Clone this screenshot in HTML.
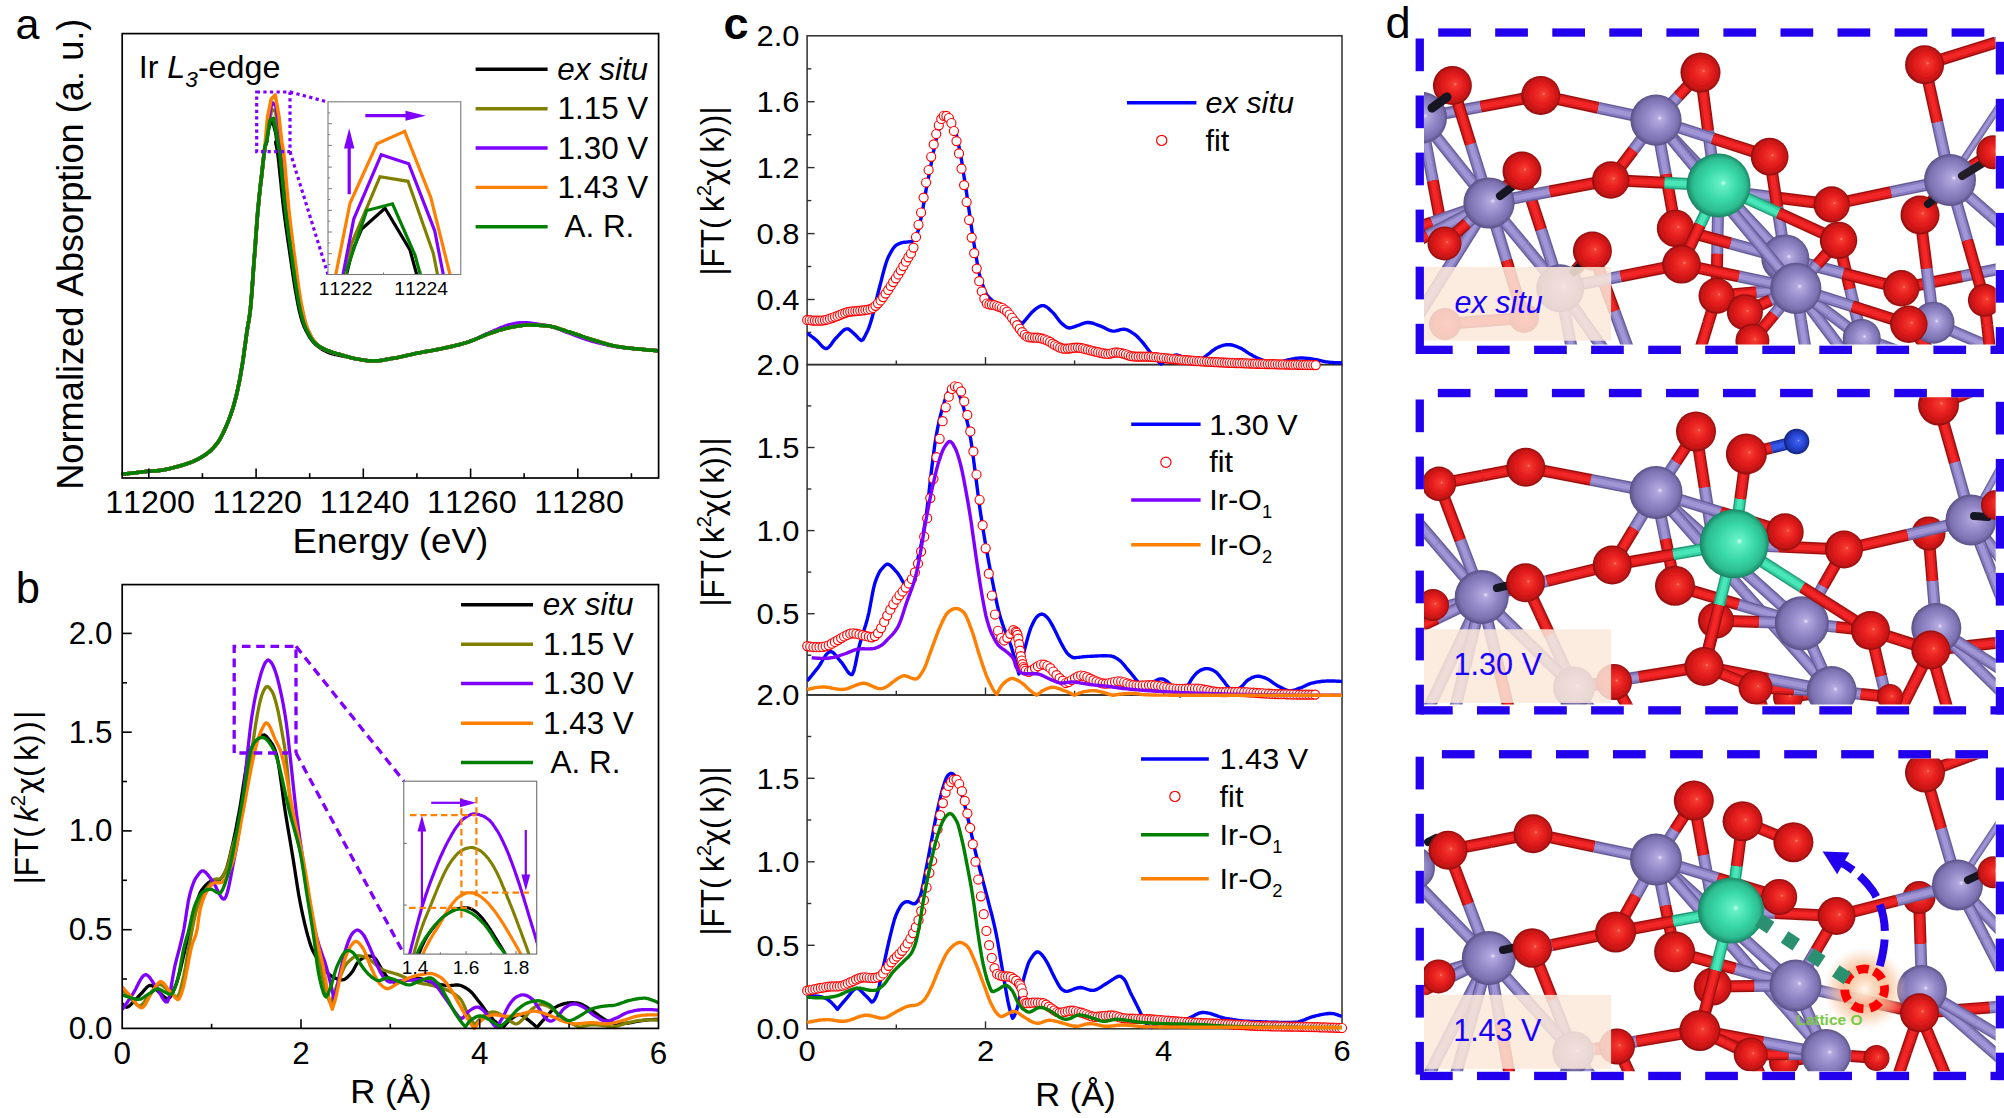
<!DOCTYPE html>
<html><head><meta charset="utf-8"><title>Figure</title>
<style>html,body{margin:0;padding:0;background:#fff}svg{display:block}text{font-family:"Liberation Sans", sans-serif;font-kerning:none}</style></head>
<body><svg width="2004" height="1118" viewBox="0 0 2004 1118">
<rect width="2004" height="1118" fill="#fff"/>
<g id="panel_a">
<polyline points="121.7,474.2 122.4,474.1 123.1,474.1 123.9,474.0 124.6,473.9 125.3,473.8 126.0,473.8 126.8,473.7 127.5,473.6 128.2,473.5 128.9,473.5 129.7,473.4 130.4,473.3 131.1,473.2 131.8,473.1 132.5,473.1 133.3,473.0 134.0,472.9 134.7,472.8 135.4,472.8 136.2,472.7 136.9,472.6 137.6,472.5 138.3,472.4 139.1,472.3 139.8,472.2 140.5,472.2 141.2,472.1 141.9,472.0 142.7,471.9 143.4,471.8 144.1,471.7 144.8,471.6 145.6,471.6 146.3,471.5 147.0,471.4 147.7,471.3 148.5,471.3 149.2,471.2 149.9,471.2 150.6,471.1 151.3,471.1 152.1,471.0 152.8,471.0 153.5,471.0 154.2,470.9 155.0,470.9 155.7,470.8 156.4,470.8 157.1,470.7 157.9,470.6 158.6,470.6 159.3,470.5 160.0,470.4 160.7,470.3 161.5,470.2 162.2,470.1 162.9,470.0 163.6,469.8 164.4,469.7 165.1,469.5 165.8,469.4 166.5,469.2 167.3,469.1 168.0,468.9 168.7,468.7 169.4,468.6 170.1,468.4 170.9,468.2 171.6,468.0 172.3,467.9 173.0,467.7 173.8,467.5 174.5,467.3 175.2,467.1 175.9,467.0 176.7,466.8 177.4,466.6 178.1,466.4 178.8,466.2 179.5,466.0 180.3,465.8 181.0,465.6 181.7,465.4 182.4,465.2 183.2,464.9 183.9,464.7 184.6,464.5 185.3,464.3 186.1,464.0 186.8,463.8 187.5,463.5 188.2,463.3 188.9,463.0 189.7,462.7 190.4,462.5 191.1,462.2 191.8,461.9 192.6,461.6 193.3,461.3 194.0,461.0 194.7,460.7 195.5,460.3 196.2,460.0 196.9,459.7 197.6,459.3 198.4,458.9 199.1,458.5 199.8,458.1 200.5,457.7 201.2,457.3 202.0,456.9 202.7,456.4 203.4,456.0 204.1,455.5 204.9,455.0 205.6,454.5 206.3,454.0 207.0,453.5 207.8,452.9 208.5,452.4 209.2,451.8 209.9,451.2 210.6,450.5 211.4,449.9 212.1,449.1 212.8,448.4 213.5,447.6 214.3,446.8 215.0,446.0 215.7,445.1 216.4,444.2 217.2,443.3 217.9,442.3 218.6,441.3 219.3,440.2 220.0,439.0 220.8,437.7 221.5,436.3 222.2,434.9 222.9,433.4 223.7,431.9 224.4,430.3 225.1,428.7 225.8,427.0 226.6,425.3 227.3,423.6 228.0,421.9 228.7,420.1 229.4,418.2 230.2,416.2 230.9,414.1 231.6,412.0 232.3,409.8 233.1,407.5 233.8,405.1 234.5,402.5 235.2,399.8 236.0,396.9 236.7,393.9 237.4,390.8 238.1,387.5 238.8,384.1 239.6,380.4 240.3,376.4 241.0,372.3 241.7,368.0 242.5,363.5 243.2,358.8 243.9,353.7 244.6,348.4 245.4,343.0 246.1,337.7 246.8,332.6 247.5,328.1 248.2,324.0 249.0,319.7 249.7,314.8 250.4,309.0 251.1,301.3 251.9,292.0 252.6,281.8 253.3,271.5 254.0,261.6 254.8,252.0 255.5,242.0 256.2,232.1 256.9,222.5 257.6,213.4 258.4,205.3 259.1,197.9 259.8,191.2 260.5,184.7 261.3,178.5 262.0,172.1 262.7,165.7 263.4,159.4 264.2,153.2 264.9,147.1 266.9,141.0 267.7,133.8 269.0,126.4 272.4,119.8 275.9,133.2 276.9,141.0 275.7,142.1 275.9,143.2 276.1,144.3 276.4,145.4 276.6,146.5 276.8,147.6 277.1,148.7 277.3,149.8 277.4,150.9 277.6,152.1 277.8,153.2 277.9,154.3 278.1,155.4 278.2,156.5 278.4,157.6 278.5,158.7 278.6,159.9 278.7,161.0 278.9,162.1 279.0,163.2 279.1,164.3 279.2,165.5 279.3,166.6 279.4,167.7 279.6,168.8 279.7,170.0 279.8,171.1 279.9,172.2 280.0,173.3 280.1,174.4 280.2,175.6 280.4,176.7 280.5,177.8 280.6,178.9 280.7,180.0 280.8,181.2 281.0,182.3 281.1,183.4 281.2,184.5 281.3,185.6 281.4,186.8 281.5,187.9 281.6,189.0 281.7,190.1 281.9,191.3 282.0,192.4 282.1,193.5 282.2,194.6 282.3,195.7 282.4,196.9 282.6,198.0 282.7,199.1 282.8,200.2 282.9,201.3 283.0,202.5 283.2,203.6 283.3,204.7 283.4,205.8 283.6,206.9 283.7,208.0 283.8,209.2 284.0,210.3 284.1,211.4 284.2,212.5 284.4,213.6 284.5,214.8 284.7,215.9 284.8,217.0 285.0,218.1 285.1,219.2 285.3,220.3 285.4,221.5 285.6,222.6 285.7,223.7 285.9,224.8 286.0,225.9 286.2,227.0 286.3,228.2 286.5,229.3 286.6,230.4 286.8,231.5 287.0,232.6 287.1,233.7 287.3,234.8 287.4,236.0 287.6,237.1 287.8,238.2 287.9,239.3 288.1,240.4 288.2,241.5 288.4,242.7 288.6,243.8 288.7,244.9 288.9,246.0 289.1,247.1 289.2,248.2 289.4,249.3 289.6,250.5 289.7,251.6 289.9,252.7 290.0,253.8 290.2,254.9 290.4,256.0 290.5,257.1 290.7,258.3 290.9,259.4 291.0,260.5 291.2,261.6 291.3,262.7 291.5,263.8 291.7,265.0 291.8,266.1 292.0,267.2 292.2,268.3 292.3,269.4 292.5,270.5 292.6,271.7 292.8,272.8 293.0,273.9 293.1,275.0 293.3,276.1 293.5,277.2 293.6,278.3 293.8,279.5 294.0,280.6 294.2,281.7 294.3,282.8 294.5,283.9 294.7,285.0 294.9,286.1 295.0,287.3 295.2,288.4 295.4,289.5 295.6,290.6 295.8,291.7 296.0,292.8 296.2,293.9 296.4,295.0 296.6,296.1 296.8,297.2 297.0,298.4 297.2,299.5 297.4,300.6 297.6,301.7 297.8,302.8 298.0,303.9 298.2,305.0 298.5,306.1 298.7,307.2 298.9,308.3 299.1,309.4 299.4,310.5 299.6,311.6 299.9,312.7 300.2,313.8 300.5,314.9 300.7,316.0 301.0,317.1 301.4,318.2 301.7,319.3 302.0,320.4 302.3,321.4 302.7,322.5 303.1,323.6 303.5,324.7 303.9,325.7 304.3,326.8 304.8,327.8 305.3,328.8 305.8,329.9 306.3,330.9 306.9,331.9 307.4,332.9 308.0,333.9 308.5,334.9 309.1,336.0 309.7,337.0 310.3,338.0 311.0,338.9 311.6,339.9 312.4,340.8 313.1,341.7 313.9,342.6 314.8,343.5 315.6,344.3 316.5,345.1 317.4,345.8 318.4,346.6 319.4,347.3 320.4,348.0 321.3,348.7 322.3,349.3 323.4,349.9 324.4,350.5 325.4,351.0 326.4,351.5 327.4,352.0 328.5,352.4 329.5,352.8 330.6,353.2 331.7,353.5 332.7,353.8 333.8,354.1 334.9,354.4 336.0,354.6 337.1,354.8 338.2,355.1 339.3,355.3 340.4,355.5 341.4,355.7 342.5,355.9 343.6,356.1 344.7,356.4 345.8,356.6 346.9,356.8 347.9,357.1 349.0,357.3 350.1,357.6 351.2,357.8 352.3,358.1 353.4,358.3 354.5,358.5 355.6,358.8 356.7,359.0 357.8,359.1 358.9,359.3 360.0,359.5 361.1,359.7 362.2,359.9 363.4,360.0 364.5,360.2 365.6,360.4 366.7,360.5 367.8,360.7 369.0,360.8 370.1,360.9 371.2,360.9 372.3,361.0 373.4,361.0 374.6,361.0 375.7,360.9 376.8,360.9 377.9,360.8 379.0,360.7 380.2,360.5 381.3,360.4 382.4,360.2 383.5,360.0 384.6,359.8 385.7,359.6 386.9,359.4 388.0,359.2 389.1,359.0 390.2,358.8 391.3,358.6 392.4,358.4 393.5,358.3 394.6,358.1 395.7,357.9 396.8,357.7 397.9,357.4 399.0,357.2 400.2,357.0 401.3,356.7 402.4,356.5 403.4,356.3 404.5,356.0 405.6,355.8 406.7,355.5 407.8,355.2 408.9,355.0 410.0,354.7 411.1,354.5 412.2,354.2 413.3,354.0 414.4,353.8 415.5,353.5 416.6,353.3 417.7,353.1 418.9,352.9 420.0,352.7 421.1,352.5 422.2,352.3 423.3,352.0 424.4,351.8 425.5,351.6 426.6,351.5 427.7,351.3 428.8,351.1 429.9,350.9 431.0,350.7 432.2,350.5 433.3,350.3 434.4,350.1 435.5,349.9 436.6,349.6 437.7,349.4 438.8,349.2 439.9,349.0 441.0,348.8 442.1,348.6 443.2,348.3 444.3,348.1 445.4,347.8 446.5,347.6 447.6,347.4 448.7,347.1 449.8,346.9 450.9,346.6 452.0,346.4 453.1,346.1 454.2,345.9 455.3,345.6 456.4,345.3 457.5,345.0 458.6,344.8 459.7,344.5 460.8,344.2 461.9,343.9 462.9,343.6 464.0,343.3 465.1,343.0 466.2,342.7 467.2,342.3 468.3,342.0 469.4,341.6 470.4,341.2 471.5,340.8 472.5,340.4 473.6,340.0 474.6,339.6 475.6,339.2 476.7,338.7 477.7,338.3 478.8,337.8 479.8,337.4 480.8,336.9 481.9,336.5 482.9,336.0 483.9,335.6 485.0,335.2 486.0,334.7 487.1,334.3 488.1,333.9 489.2,333.6 490.3,333.2 491.3,332.9 492.4,332.5 493.5,332.1 494.5,331.8 495.6,331.4 496.7,331.1 497.8,330.7 498.8,330.4 499.9,330.0 501.0,329.7 502.1,329.4 503.2,329.1 504.3,328.8 505.4,328.5 506.4,328.3 507.5,328.0 508.6,327.8 509.7,327.6 510.8,327.3 511.9,327.1 513.0,326.9 514.1,326.7 515.3,326.5 516.4,326.3 517.5,326.1 518.6,325.9 519.7,325.7 520.8,325.6 522.0,325.4 523.1,325.3 524.2,325.2 525.3,325.1 526.4,325.0 527.6,325.0 528.7,325.0 529.8,325.0 530.9,325.0 532.1,325.0 533.2,325.1 534.3,325.1 535.5,325.1 536.6,325.2 537.7,325.2 538.9,325.3 540.0,325.4 541.1,325.4 542.2,325.5 543.3,325.6 544.5,325.6 545.6,325.7 546.7,325.8 547.8,325.9 548.9,326.0 550.0,326.2 551.1,326.4 552.2,326.7 553.3,326.9 554.4,327.2 555.5,327.5 556.5,327.8 557.6,328.2 558.7,328.5 559.8,328.9 560.9,329.2 561.9,329.6 563.0,330.0 564.1,330.3 565.2,330.7 566.3,331.1 567.3,331.4 568.4,331.7 569.5,332.1 570.6,332.4 571.6,332.7 572.7,333.1 573.8,333.4 574.8,333.8 575.9,334.2 577.0,334.5 578.0,334.9 579.1,335.3 580.2,335.6 581.2,336.0 582.3,336.4 583.4,336.7 584.4,337.1 585.5,337.5 586.6,337.8 587.6,338.2 588.7,338.6 589.8,338.9 590.8,339.2 591.9,339.6 593.0,339.9 594.1,340.2 595.1,340.6 596.2,340.9 597.3,341.2 598.4,341.5 599.5,341.9 600.5,342.2 601.6,342.5 602.7,342.9 603.8,343.2 604.9,343.5 606.0,343.8 607.0,344.1 608.1,344.4 609.2,344.7 610.3,345.0 611.4,345.3 612.5,345.6 613.6,345.8 614.7,346.0 615.8,346.3 616.9,346.5 618.0,346.6 619.1,346.8 620.2,347.0 621.3,347.1 622.4,347.3 623.5,347.5 624.6,347.6 625.8,347.7 626.9,347.9 628.0,348.0 629.1,348.1 630.2,348.2 631.4,348.3 632.5,348.5 633.6,348.6 634.7,348.7 635.9,348.8 637.0,348.9 638.1,349.0 639.2,349.1 640.4,349.2 641.5,349.3 642.6,349.4 643.7,349.5 644.8,349.6 646.0,349.8 647.1,349.9 648.2,350.0 649.3,350.1 650.4,350.2 651.6,350.3 652.7,350.3 653.8,350.4 654.9,350.5 656.1,350.6 657.2,350.7 658.3,350.8" fill="none" stroke="#000" stroke-width="3.6" stroke-linejoin="round"/>
<polyline points="121.7,474.2 122.4,474.1 123.1,474.1 123.9,474.0 124.6,473.9 125.3,473.8 126.0,473.8 126.8,473.7 127.5,473.6 128.2,473.5 128.9,473.5 129.7,473.4 130.4,473.3 131.1,473.2 131.8,473.1 132.5,473.1 133.3,473.0 134.0,472.9 134.7,472.8 135.4,472.8 136.2,472.7 136.9,472.6 137.6,472.5 138.3,472.4 139.1,472.3 139.8,472.2 140.5,472.2 141.2,472.1 141.9,472.0 142.7,471.9 143.4,471.8 144.1,471.7 144.8,471.6 145.6,471.6 146.3,471.5 147.0,471.4 147.7,471.3 148.5,471.3 149.2,471.2 149.9,471.2 150.6,471.1 151.3,471.1 152.1,471.0 152.8,471.0 153.5,471.0 154.2,470.9 155.0,470.9 155.7,470.8 156.4,470.8 157.1,470.7 157.9,470.6 158.6,470.6 159.3,470.5 160.0,470.4 160.7,470.3 161.5,470.2 162.2,470.1 162.9,470.0 163.6,469.8 164.4,469.7 165.1,469.5 165.8,469.4 166.5,469.2 167.3,469.1 168.0,468.9 168.7,468.7 169.4,468.6 170.1,468.4 170.9,468.2 171.6,468.0 172.3,467.9 173.0,467.7 173.8,467.5 174.5,467.3 175.2,467.1 175.9,467.0 176.7,466.8 177.4,466.6 178.1,466.4 178.8,466.2 179.5,466.0 180.3,465.8 181.0,465.6 181.7,465.4 182.4,465.2 183.2,464.9 183.9,464.7 184.6,464.5 185.3,464.3 186.1,464.0 186.8,463.8 187.5,463.5 188.2,463.3 188.9,463.0 189.7,462.7 190.4,462.5 191.1,462.2 191.8,461.9 192.6,461.6 193.3,461.3 194.0,461.0 194.7,460.7 195.5,460.3 196.2,460.0 196.9,459.7 197.6,459.3 198.4,458.9 199.1,458.5 199.8,458.1 200.5,457.7 201.2,457.3 202.0,456.9 202.7,456.4 203.4,456.0 204.1,455.5 204.9,455.0 205.6,454.5 206.3,454.0 207.0,453.5 207.8,452.9 208.5,452.4 209.2,451.8 209.9,451.2 210.6,450.5 211.4,449.9 212.1,449.1 212.8,448.4 213.5,447.6 214.3,446.8 215.0,446.0 215.7,445.1 216.4,444.2 217.2,443.3 217.9,442.3 218.6,441.3 219.3,440.2 220.0,439.0 220.8,437.7 221.5,436.3 222.2,434.9 222.9,433.4 223.7,431.9 224.4,430.3 225.1,428.7 225.8,427.0 226.6,425.3 227.3,423.6 228.0,421.9 228.7,420.1 229.4,418.2 230.2,416.2 230.9,414.1 231.6,412.0 232.3,409.8 233.1,407.5 233.8,405.1 234.5,402.5 235.2,399.8 236.0,396.9 236.7,393.9 237.4,390.8 238.1,387.5 238.8,384.1 239.6,380.4 240.3,376.4 241.0,372.3 241.7,368.0 242.5,363.5 243.2,358.8 243.9,353.7 244.6,348.4 245.4,343.0 246.1,337.7 246.8,332.6 247.5,328.1 248.2,324.0 249.0,319.7 249.7,314.8 250.4,309.0 251.1,301.3 251.9,292.0 252.6,281.8 253.3,271.5 254.0,261.6 254.8,252.0 255.5,242.0 256.2,232.1 256.9,222.5 257.6,213.4 258.4,205.3 259.1,197.9 259.8,191.2 260.5,184.7 261.3,178.5 262.0,172.1 262.7,165.7 263.4,159.4 264.2,153.2 264.9,147.1 266.8,141.0 267.6,131.0 271.6,109.6 275.6,111.1 279.2,134.2 279.8,141.0 279.9,142.1 280.2,143.2 280.4,144.3 280.6,145.4 280.9,146.5 281.1,147.6 281.3,148.7 281.4,149.8 281.6,150.9 281.8,152.1 281.9,153.2 282.1,154.3 282.2,155.4 282.3,156.5 282.4,157.6 282.6,158.7 282.7,159.9 282.8,161.0 282.9,162.1 283.0,163.2 283.1,164.3 283.2,165.5 283.3,166.6 283.4,167.7 283.5,168.8 283.6,170.0 283.7,171.1 283.8,172.2 283.9,173.3 284.0,174.4 284.1,175.6 284.2,176.7 284.3,177.8 284.4,178.9 284.5,180.0 284.6,181.2 284.7,182.3 284.8,183.4 284.9,184.5 285.0,185.6 285.1,186.8 285.2,187.9 285.3,189.0 285.4,190.1 285.5,191.3 285.6,192.4 285.7,193.5 285.8,194.6 285.9,195.7 286.1,196.9 286.2,198.0 286.3,199.1 286.4,200.2 286.5,201.3 286.6,202.5 286.7,203.6 286.8,204.7 286.9,205.8 287.1,206.9 287.2,208.0 287.3,209.2 287.4,210.3 287.5,211.4 287.7,212.5 287.8,213.6 287.9,214.8 288.1,215.9 288.2,217.0 288.3,218.1 288.5,219.2 288.6,220.3 288.7,221.5 288.9,222.6 289.0,223.7 289.1,224.8 289.3,225.9 289.4,227.0 289.6,228.2 289.7,229.3 289.8,230.4 290.0,231.5 290.1,232.6 290.3,233.7 290.4,234.8 290.6,236.0 290.7,237.1 290.9,238.2 291.0,239.3 291.2,240.4 291.3,241.5 291.5,242.7 291.6,243.8 291.8,244.9 291.9,246.0 292.1,247.1 292.2,248.2 292.4,249.3 292.5,250.5 292.7,251.6 292.8,252.7 293.0,253.8 293.1,254.9 293.3,256.0 293.4,257.1 293.6,258.3 293.7,259.4 293.9,260.5 294.0,261.6 294.1,262.7 294.3,263.8 294.4,265.0 294.6,266.1 294.7,267.2 294.9,268.3 295.0,269.4 295.2,270.5 295.3,271.6 295.5,272.8 295.6,273.9 295.8,275.0 295.9,276.1 296.1,277.2 296.3,278.3 296.4,279.5 296.6,280.6 296.7,281.7 296.9,282.8 297.1,283.9 297.2,285.0 297.4,286.1 297.5,287.2 297.7,288.4 297.9,289.5 298.1,290.6 298.2,291.7 298.4,292.8 298.6,293.9 298.8,295.0 298.9,296.1 299.1,297.2 299.3,298.3 299.5,299.5 299.7,300.6 299.9,301.7 300.1,302.8 300.3,303.9 300.5,305.0 300.7,306.1 300.9,307.2 301.2,308.3 301.5,309.4 301.7,310.5 301.9,311.6 302.1,312.7 302.4,313.8 302.6,314.9 302.9,316.0 303.2,317.1 303.4,318.2 303.7,319.2 304.0,320.3 304.3,321.4 304.6,322.5 305.0,323.5 305.3,324.6 305.7,325.7 306.1,326.7 306.5,327.7 306.9,328.8 307.4,329.8 307.8,330.8 308.3,331.8 308.8,332.8 309.3,333.8 309.8,334.8 310.3,335.8 310.8,336.8 311.4,337.7 312.0,338.7 312.6,339.6 313.2,340.5 313.9,341.3 314.6,342.2 315.3,343.0 316.1,343.8 316.9,344.5 317.7,345.2 318.5,345.8 319.4,346.5 320.4,347.1 321.3,347.6 322.3,348.2 323.4,348.7 324.4,349.2 325.4,349.7 326.4,350.1 327.4,350.5 328.5,350.9 329.5,351.3 330.6,351.7 331.7,352.0 332.7,352.4 333.8,352.7 334.9,353.0 336.0,353.4 337.1,353.7 338.2,354.0 339.3,354.3 340.4,354.6 341.4,354.9 342.5,355.2 343.6,355.5 344.7,355.9 345.8,356.2 346.9,356.5 347.9,356.8 349.0,357.1 350.1,357.4 351.2,357.7 352.3,358.0 353.4,358.2 354.5,358.5 355.6,358.7 356.7,358.9 357.8,359.1 358.9,359.3 360.0,359.5 361.1,359.7 362.2,359.9 363.4,360.0 364.5,360.2 365.6,360.4 366.7,360.5 367.8,360.7 369.0,360.8 370.1,360.9 371.2,360.9 372.3,361.0 373.4,361.0 374.6,361.0 375.7,360.9 376.8,360.9 377.9,360.8 379.0,360.7 380.2,360.5 381.3,360.4 382.4,360.2 383.5,360.0 384.6,359.8 385.7,359.6 386.9,359.4 388.0,359.2 389.1,359.0 390.2,358.8 391.3,358.6 392.4,358.4 393.5,358.3 394.6,358.1 395.7,357.9 396.8,357.7 397.9,357.4 399.0,357.2 400.2,357.0 401.3,356.7 402.4,356.5 403.4,356.3 404.5,356.0 405.6,355.8 406.7,355.5 407.8,355.2 408.9,355.0 410.0,354.7 411.1,354.5 412.2,354.2 413.3,354.0 414.4,353.8 415.5,353.5 416.6,353.3 417.7,353.1 418.9,352.9 420.0,352.7 421.1,352.5 422.2,352.3 423.3,352.0 424.4,351.8 425.5,351.6 426.6,351.5 427.7,351.3 428.8,351.1 429.9,350.9 431.0,350.7 432.2,350.5 433.3,350.3 434.4,350.1 435.5,349.9 436.6,349.6 437.7,349.4 438.8,349.2 439.9,349.0 441.0,348.8 442.1,348.6 443.2,348.3 444.3,348.1 445.4,347.8 446.5,347.6 447.6,347.4 448.7,347.1 449.8,346.9 450.9,346.6 452.0,346.4 453.1,346.1 454.2,345.9 455.3,345.6 456.4,345.3 457.5,345.0 458.6,344.8 459.7,344.5 460.8,344.2 461.9,343.9 462.9,343.6 464.0,343.3 465.1,343.0 466.2,342.7 467.2,342.3 468.3,342.0 469.4,341.6 470.4,341.2 471.5,340.8 472.5,340.4 473.6,340.0 474.6,339.6 475.6,339.2 476.7,338.7 477.7,338.3 478.8,337.8 479.8,337.4 480.8,336.9 481.9,336.5 482.9,336.0 483.9,335.6 485.0,335.2 486.0,334.7 487.1,334.3 488.1,333.9 489.2,333.6 490.3,333.2 491.3,332.9 492.4,332.5 493.5,332.1 494.5,331.8 495.6,331.4 496.7,331.1 497.8,330.7 498.8,330.4 499.9,330.0 501.0,329.7 502.1,329.4 503.2,329.1 504.3,328.8 505.4,328.5 506.4,328.3 507.5,328.0 508.6,327.8 509.7,327.6 510.8,327.3 511.9,327.1 513.0,326.9 514.1,326.7 515.3,326.5 516.4,326.3 517.5,326.1 518.6,325.9 519.7,325.7 520.8,325.6 522.0,325.4 523.1,325.3 524.2,325.2 525.3,325.1 526.4,325.0 527.6,325.0 528.7,325.0 529.8,325.0 530.9,325.0 532.1,325.0 533.2,325.1 534.3,325.1 535.5,325.1 536.6,325.2 537.7,325.2 538.9,325.3 540.0,325.4 541.1,325.4 542.2,325.5 543.3,325.6 544.5,325.6 545.6,325.7 546.7,325.8 547.8,325.9 548.9,326.0 550.0,326.2 551.1,326.4 552.2,326.7 553.3,326.9 554.4,327.2 555.5,327.5 556.5,327.8 557.6,328.2 558.7,328.5 559.8,328.9 560.9,329.2 561.9,329.6 563.0,330.0 564.1,330.3 565.2,330.7 566.3,331.1 567.3,331.4 568.4,331.7 569.5,332.1 570.6,332.4 571.6,332.7 572.7,333.1 573.8,333.4 574.8,333.8 575.9,334.2 577.0,334.5 578.0,334.9 579.1,335.3 580.2,335.6 581.2,336.0 582.3,336.4 583.4,336.7 584.4,337.1 585.5,337.5 586.6,337.8 587.6,338.2 588.7,338.6 589.8,338.9 590.8,339.2 591.9,339.6 593.0,339.9 594.1,340.2 595.1,340.6 596.2,340.9 597.3,341.2 598.4,341.5 599.5,341.9 600.5,342.2 601.6,342.5 602.7,342.9 603.8,343.2 604.9,343.5 606.0,343.8 607.0,344.1 608.1,344.4 609.2,344.7 610.3,345.0 611.4,345.3 612.5,345.6 613.6,345.8 614.7,346.0 615.8,346.3 616.9,346.5 618.0,346.6 619.1,346.8 620.2,347.0 621.3,347.1 622.4,347.3 623.5,347.5 624.6,347.6 625.8,347.7 626.9,347.9 628.0,348.0 629.1,348.1 630.2,348.2 631.4,348.3 632.5,348.5 633.6,348.6 634.7,348.7 635.9,348.8 637.0,348.9 638.1,349.0 639.2,349.1 640.4,349.2 641.5,349.3 642.6,349.4 643.7,349.5 644.8,349.6 646.0,349.8 647.1,349.9 648.2,350.0 649.3,350.1 650.4,350.2 651.6,350.3 652.7,350.3 653.8,350.4 654.9,350.5 656.1,350.6 657.2,350.7 658.3,350.8" fill="none" stroke="#808000" stroke-width="3.6" stroke-linejoin="round"/>
<polyline points="121.7,474.2 122.4,474.1 123.1,474.1 123.9,474.0 124.6,473.9 125.3,473.8 126.0,473.8 126.8,473.7 127.5,473.6 128.2,473.5 128.9,473.5 129.7,473.4 130.4,473.3 131.1,473.2 131.8,473.1 132.5,473.1 133.3,473.0 134.0,472.9 134.7,472.8 135.4,472.8 136.2,472.7 136.9,472.6 137.6,472.5 138.3,472.4 139.1,472.3 139.8,472.2 140.5,472.2 141.2,472.1 141.9,472.0 142.7,471.9 143.4,471.8 144.1,471.7 144.8,471.6 145.6,471.6 146.3,471.5 147.0,471.4 147.7,471.3 148.5,471.3 149.2,471.2 149.9,471.2 150.6,471.1 151.3,471.1 152.1,471.0 152.8,471.0 153.5,471.0 154.2,470.9 155.0,470.9 155.7,470.8 156.4,470.8 157.1,470.7 157.9,470.6 158.6,470.6 159.3,470.5 160.0,470.4 160.7,470.3 161.5,470.2 162.2,470.1 162.9,470.0 163.6,469.8 164.4,469.7 165.1,469.5 165.8,469.4 166.5,469.2 167.3,469.1 168.0,468.9 168.7,468.7 169.4,468.6 170.1,468.4 170.9,468.2 171.6,468.0 172.3,467.9 173.0,467.7 173.8,467.5 174.5,467.3 175.2,467.1 175.9,467.0 176.7,466.8 177.4,466.6 178.1,466.4 178.8,466.2 179.5,466.0 180.3,465.8 181.0,465.6 181.7,465.4 182.4,465.2 183.2,464.9 183.9,464.7 184.6,464.5 185.3,464.3 186.1,464.0 186.8,463.8 187.5,463.5 188.2,463.3 188.9,463.0 189.7,462.7 190.4,462.5 191.1,462.2 191.8,461.9 192.6,461.6 193.3,461.3 194.0,461.0 194.7,460.7 195.5,460.3 196.2,460.0 196.9,459.7 197.6,459.3 198.4,458.9 199.1,458.5 199.8,458.1 200.5,457.7 201.2,457.3 202.0,456.9 202.7,456.4 203.4,456.0 204.1,455.5 204.9,455.0 205.6,454.5 206.3,454.0 207.0,453.5 207.8,452.9 208.5,452.4 209.2,451.8 209.9,451.2 210.6,450.5 211.4,449.9 212.1,449.1 212.8,448.4 213.5,447.6 214.3,446.8 215.0,446.0 215.7,445.1 216.4,444.2 217.2,443.3 217.9,442.3 218.6,441.3 219.3,440.2 220.0,439.0 220.8,437.7 221.5,436.3 222.2,434.9 222.9,433.4 223.7,431.9 224.4,430.3 225.1,428.7 225.8,427.0 226.6,425.3 227.3,423.6 228.0,421.9 228.7,420.1 229.4,418.2 230.2,416.2 230.9,414.1 231.6,412.0 232.3,409.8 233.1,407.5 233.8,405.1 234.5,402.5 235.2,399.8 236.0,396.9 236.7,393.9 237.4,390.8 238.1,387.5 238.8,384.1 239.6,380.4 240.3,376.4 241.0,372.3 241.7,368.0 242.5,363.5 243.2,358.8 243.9,353.7 244.6,348.4 245.4,343.0 246.1,337.7 246.8,332.6 247.5,328.1 248.2,324.0 249.0,319.7 249.7,314.8 250.4,309.0 251.1,301.3 251.9,292.0 252.6,281.8 253.3,271.5 254.0,261.6 254.8,252.0 255.5,242.0 256.2,232.1 256.9,222.5 257.6,213.4 258.4,205.3 259.1,197.9 259.8,191.2 260.5,184.7 261.3,178.5 262.0,172.1 262.7,165.7 263.4,159.4 264.2,153.2 264.9,147.1 266.4,141.0 267.9,123.3 271.8,102.5 275.7,105.4 279.4,127.0 280.6,141.0 280.7,142.1 281.0,143.2 281.2,144.3 281.4,145.4 281.6,146.5 281.8,147.6 282.0,148.7 282.2,149.8 282.4,150.9 282.5,152.1 282.7,153.2 282.8,154.3 283.0,155.4 283.1,156.5 283.2,157.6 283.3,158.7 283.4,159.9 283.5,161.0 283.7,162.1 283.8,163.2 283.9,164.3 284.0,165.5 284.1,166.6 284.2,167.7 284.2,168.8 284.3,170.0 284.4,171.1 284.5,172.2 284.6,173.3 284.7,174.4 284.8,175.6 284.9,176.7 285.0,177.8 285.2,178.9 285.3,180.0 285.4,181.2 285.5,182.3 285.5,183.4 285.6,184.5 285.7,185.6 285.8,186.8 285.9,187.9 286.0,189.0 286.1,190.1 286.2,191.3 286.3,192.4 286.4,193.5 286.5,194.6 286.6,195.7 286.7,196.9 286.8,198.0 286.9,199.1 287.0,200.2 287.1,201.3 287.2,202.5 287.4,203.6 287.5,204.7 287.6,205.8 287.7,206.9 287.8,208.0 287.9,209.2 288.1,210.3 288.2,211.4 288.3,212.5 288.4,213.6 288.6,214.8 288.7,215.9 288.8,217.0 288.9,218.1 289.1,219.2 289.2,220.3 289.3,221.5 289.5,222.6 289.6,223.7 289.7,224.8 289.9,225.9 290.0,227.0 290.2,228.2 290.3,229.3 290.4,230.4 290.6,231.5 290.7,232.6 290.9,233.7 291.0,234.8 291.2,236.0 291.3,237.1 291.4,238.2 291.6,239.3 291.7,240.4 291.9,241.5 292.0,242.7 292.2,243.8 292.3,244.9 292.5,246.0 292.6,247.1 292.8,248.2 292.9,249.3 293.1,250.5 293.2,251.6 293.4,252.7 293.5,253.8 293.6,254.9 293.8,256.0 293.9,257.1 294.1,258.3 294.2,259.4 294.4,260.5 294.5,261.6 294.7,262.7 294.8,263.8 295.0,265.0 295.1,266.1 295.3,267.2 295.4,268.3 295.5,269.4 295.7,270.5 295.8,271.6 296.0,272.8 296.1,273.9 296.3,275.0 296.4,276.1 296.6,277.2 296.7,278.3 296.9,279.5 297.1,280.6 297.2,281.7 297.4,282.8 297.5,283.9 297.7,285.0 297.8,286.1 298.0,287.2 298.2,288.4 298.3,289.5 298.5,290.6 298.7,291.7 298.9,292.8 299.0,293.9 299.2,295.0 299.4,296.1 299.6,297.2 299.8,298.3 300.0,299.5 300.1,300.6 300.3,301.7 300.5,302.8 300.7,303.9 300.9,305.0 301.2,306.1 301.4,307.2 301.6,308.3 301.9,309.4 302.1,310.5 302.3,311.6 302.6,312.7 302.8,313.8 303.0,314.9 303.3,316.0 303.6,317.1 303.8,318.2 304.1,319.2 304.4,320.3 304.7,321.4 305.0,322.5 305.3,323.5 305.7,324.6 306.0,325.7 306.4,326.7 306.8,327.7 307.2,328.8 307.6,329.8 308.1,330.8 308.6,331.8 309.1,332.8 309.5,333.8 310.0,334.8 310.5,335.8 311.0,336.8 311.6,337.7 312.1,338.7 312.7,339.6 313.4,340.5 314.0,341.3 314.7,342.2 315.4,343.0 316.2,343.8 317.0,344.5 317.7,345.2 318.6,345.8 319.4,346.5 320.4,347.1 321.3,347.6 322.3,348.2 323.4,348.7 324.4,349.2 325.4,349.7 326.4,350.1 327.4,350.5 328.5,350.9 329.5,351.3 330.6,351.7 331.7,352.0 332.7,352.4 333.8,352.7 334.9,353.0 336.0,353.4 337.1,353.7 338.2,354.0 339.3,354.3 340.4,354.6 341.4,354.9 342.5,355.2 343.6,355.5 344.7,355.9 345.8,356.2 346.9,356.5 347.9,356.8 349.0,357.1 350.1,357.4 351.2,357.7 352.3,358.0 353.4,358.2 354.5,358.5 355.6,358.7 356.7,358.9 357.8,359.1 358.9,359.3 360.0,359.5 361.1,359.7 362.2,359.9 363.4,360.0 364.5,360.2 365.6,360.4 366.7,360.5 367.8,360.7 369.0,360.8 370.1,360.9 371.2,360.9 372.3,361.0 373.4,361.0 374.6,361.0 375.7,360.9 376.8,360.9 377.9,360.8 379.0,360.7 380.2,360.5 381.3,360.4 382.4,360.2 383.5,360.0 384.6,359.8 385.7,359.6 386.9,359.4 388.0,359.2 389.1,359.0 390.2,358.8 391.3,358.6 392.4,358.4 393.5,358.3 394.6,358.1 395.7,357.9 396.8,357.7 397.9,357.4 399.0,357.2 400.2,357.0 401.3,356.7 402.4,356.5 403.4,356.3 404.5,356.0 405.6,355.8 406.7,355.5 407.8,355.2 408.9,355.0 410.0,354.7 411.1,354.5 412.2,354.2 413.3,354.0 414.4,353.8 415.5,353.5 416.6,353.3 417.7,353.1 418.9,352.9 420.0,352.7 421.1,352.5 422.2,352.3 423.3,352.0 424.4,351.8 425.5,351.6 426.6,351.5 427.7,351.3 428.8,351.1 429.9,350.9 431.0,350.7 432.2,350.5 433.3,350.3 434.4,350.1 435.5,349.9 436.6,349.6 437.7,349.4 438.8,349.2 439.9,349.0 441.0,348.8 442.1,348.6 443.2,348.3 444.3,348.1 445.4,347.8 446.5,347.6 447.6,347.4 448.7,347.1 449.8,346.9 450.9,346.6 452.0,346.4 453.1,346.1 454.2,345.9 455.3,345.6 456.4,345.3 457.5,345.0 458.6,344.8 459.7,344.5 460.8,344.2 461.9,343.9 462.9,343.6 464.0,343.3 465.1,343.0 466.2,342.6 467.2,342.3 468.3,342.0 469.4,341.6 470.4,341.2 471.5,340.8 472.5,340.4 473.6,339.9 474.6,339.5 475.6,339.0 476.7,338.6 477.7,338.1 478.8,337.6 479.8,337.1 480.8,336.6 481.9,336.2 482.9,335.7 483.9,335.2 485.0,334.7 486.0,334.2 487.1,333.7 488.1,333.3 489.2,332.8 490.3,332.4 491.3,331.9 492.4,331.5 493.5,331.0 494.5,330.5 495.6,330.0 496.7,329.6 497.8,329.1 498.8,328.6 499.9,328.2 501.0,327.7 502.1,327.3 503.2,326.9 504.3,326.4 505.4,326.0 506.4,325.7 507.5,325.3 508.6,325.0 509.7,324.7 510.8,324.5 511.9,324.2 513.0,323.9 514.1,323.7 515.3,323.5 516.4,323.3 517.5,323.1 518.6,323.0 519.7,322.9 520.8,322.8 522.0,322.7 523.1,322.7 524.2,322.7 525.3,322.7 526.4,322.8 527.6,322.9 528.7,323.0 529.8,323.1 530.9,323.3 532.1,323.4 533.2,323.6 534.3,323.7 535.5,323.9 536.6,324.1 537.7,324.3 538.9,324.4 540.0,324.6 541.1,324.8 542.2,324.9 543.3,325.1 544.5,325.3 545.6,325.4 546.7,325.6 547.8,325.8 548.9,326.0 550.0,326.2 551.1,326.5 552.2,326.8 553.3,327.1 554.4,327.4 555.5,327.8 556.5,328.2 557.6,328.6 558.7,329.0 559.8,329.4 560.9,329.8 561.9,330.3 563.0,330.7 564.1,331.1 565.2,331.5 566.3,332.0 567.3,332.4 568.4,332.8 569.5,333.1 570.6,333.5 571.6,333.9 572.7,334.3 573.8,334.7 574.8,335.2 575.9,335.6 577.0,336.0 578.0,336.4 579.1,336.8 580.2,337.2 581.2,337.6 582.3,338.0 583.4,338.3 584.4,338.7 585.5,339.1 586.6,339.4 587.6,339.8 588.7,340.1 589.8,340.4 590.8,340.8 591.9,341.1 593.0,341.4 594.1,341.6 595.1,341.9 596.2,342.2 597.3,342.5 598.4,342.7 599.5,343.0 600.5,343.3 601.6,343.6 602.7,343.8 603.8,344.1 604.9,344.4 606.0,344.6 607.0,344.9 608.1,345.1 609.2,345.4 610.3,345.6 611.4,345.8 612.5,346.0 613.6,346.2 614.7,346.4 615.8,346.6 616.9,346.8 618.0,346.9 619.1,347.1 620.2,347.2 621.3,347.3 622.4,347.5 623.5,347.6 624.6,347.7 625.8,347.8 626.9,348.0 628.0,348.1 629.1,348.2 630.2,348.3 631.4,348.4 632.5,348.5 633.6,348.6 634.7,348.7 635.9,348.8 637.0,348.9 638.1,349.0 639.2,349.1 640.4,349.2 641.5,349.3 642.6,349.4 643.7,349.5 644.8,349.7 646.0,349.8 647.1,349.9 648.2,350.0 649.3,350.1 650.4,350.2 651.6,350.3 652.7,350.3 653.8,350.4 654.9,350.5 656.1,350.6 657.2,350.7 658.3,350.8" fill="none" stroke="#7f00ff" stroke-width="3.6" stroke-linejoin="round"/>
<polyline points="121.7,474.2 122.4,474.1 123.1,474.1 123.9,474.0 124.6,473.9 125.3,473.8 126.0,473.8 126.8,473.7 127.5,473.6 128.2,473.5 128.9,473.5 129.7,473.4 130.4,473.3 131.1,473.2 131.8,473.1 132.5,473.1 133.3,473.0 134.0,472.9 134.7,472.8 135.4,472.8 136.2,472.7 136.9,472.6 137.6,472.5 138.3,472.4 139.1,472.3 139.8,472.2 140.5,472.2 141.2,472.1 141.9,472.0 142.7,471.9 143.4,471.8 144.1,471.7 144.8,471.6 145.6,471.6 146.3,471.5 147.0,471.4 147.7,471.3 148.5,471.3 149.2,471.2 149.9,471.2 150.6,471.1 151.3,471.1 152.1,471.0 152.8,471.0 153.5,471.0 154.2,470.9 155.0,470.9 155.7,470.8 156.4,470.8 157.1,470.7 157.9,470.6 158.6,470.6 159.3,470.5 160.0,470.4 160.7,470.3 161.5,470.2 162.2,470.1 162.9,470.0 163.6,469.8 164.4,469.7 165.1,469.5 165.8,469.4 166.5,469.2 167.3,469.1 168.0,468.9 168.7,468.7 169.4,468.6 170.1,468.4 170.9,468.2 171.6,468.0 172.3,467.9 173.0,467.7 173.8,467.5 174.5,467.3 175.2,467.1 175.9,467.0 176.7,466.8 177.4,466.6 178.1,466.4 178.8,466.2 179.5,466.0 180.3,465.8 181.0,465.6 181.7,465.4 182.4,465.2 183.2,464.9 183.9,464.7 184.6,464.5 185.3,464.3 186.1,464.0 186.8,463.8 187.5,463.5 188.2,463.3 188.9,463.0 189.7,462.7 190.4,462.5 191.1,462.2 191.8,461.9 192.6,461.6 193.3,461.3 194.0,461.0 194.7,460.7 195.5,460.3 196.2,460.0 196.9,459.7 197.6,459.3 198.4,458.9 199.1,458.5 199.8,458.1 200.5,457.7 201.2,457.3 202.0,456.9 202.7,456.4 203.4,456.0 204.1,455.5 204.9,455.0 205.6,454.5 206.3,454.0 207.0,453.5 207.8,452.9 208.5,452.4 209.2,451.8 209.9,451.2 210.6,450.5 211.4,449.9 212.1,449.1 212.8,448.4 213.5,447.6 214.3,446.8 215.0,446.0 215.7,445.1 216.4,444.2 217.2,443.3 217.9,442.3 218.6,441.3 219.3,440.2 220.0,439.0 220.8,437.7 221.5,436.3 222.2,434.9 222.9,433.4 223.7,431.9 224.4,430.3 225.1,428.7 225.8,427.0 226.6,425.3 227.3,423.6 228.0,421.9 228.7,420.1 229.4,418.2 230.2,416.2 230.9,414.1 231.6,412.0 232.3,409.8 233.1,407.5 233.8,405.1 234.5,402.5 235.2,399.8 236.0,396.9 236.7,393.9 237.4,390.8 238.1,387.5 238.8,384.1 239.6,380.4 240.3,376.4 241.0,372.3 241.7,368.0 242.5,363.5 243.2,358.8 243.9,353.7 244.6,348.4 245.4,343.0 246.1,337.7 246.8,332.6 247.5,328.1 248.2,324.0 249.0,319.7 249.7,314.8 250.4,309.0 251.1,301.3 251.9,292.0 252.6,281.8 253.3,271.5 254.0,261.6 254.8,252.0 255.5,242.0 256.2,232.1 256.9,222.5 257.6,213.4 258.4,205.3 259.1,197.9 259.8,191.2 260.5,184.7 261.3,178.5 262.0,172.1 262.7,165.7 263.4,159.4 264.2,153.2 264.9,147.1 265.4,141.0 267.4,118.2 271.2,99.0 275.2,95.0 278.9,116.3 281.6,141.0 281.7,142.1 282.0,143.2 282.2,144.3 282.4,145.4 282.6,146.5 282.8,147.6 283.0,148.7 283.2,149.8 283.4,150.9 283.5,152.1 283.7,153.2 283.8,154.3 283.9,155.4 284.0,156.5 284.2,157.6 284.3,158.7 284.4,159.9 284.5,161.0 284.6,162.1 284.7,163.2 284.8,164.3 284.9,165.5 285.0,166.6 285.1,167.7 285.2,168.8 285.3,170.0 285.4,171.1 285.4,172.2 285.5,173.3 285.6,174.4 285.7,175.6 285.8,176.7 285.9,177.8 286.0,178.9 286.1,180.0 286.2,181.2 286.3,182.3 286.4,183.4 286.5,184.5 286.6,185.6 286.7,186.8 286.8,187.9 286.9,189.0 287.0,190.1 287.1,191.3 287.2,192.4 287.3,193.5 287.4,194.6 287.5,195.7 287.6,196.9 287.7,198.0 287.8,199.1 287.9,200.2 288.0,201.3 288.1,202.5 288.2,203.6 288.3,204.7 288.4,205.8 288.5,206.9 288.6,208.0 288.7,209.2 288.9,210.3 289.0,211.4 289.1,212.5 289.2,213.6 289.3,214.8 289.5,215.9 289.6,217.0 289.7,218.1 289.9,219.2 290.0,220.3 290.1,221.5 290.2,222.6 290.4,223.7 290.5,224.8 290.6,225.9 290.8,227.0 290.9,228.2 291.0,229.3 291.2,230.4 291.3,231.5 291.5,232.6 291.6,233.7 291.7,234.8 291.9,236.0 292.0,237.1 292.2,238.2 292.3,239.3 292.4,240.4 292.6,241.5 292.7,242.7 292.9,243.8 293.0,244.9 293.2,246.0 293.3,247.1 293.5,248.2 293.6,249.3 293.7,250.5 293.9,251.6 294.0,252.7 294.2,253.8 294.3,254.9 294.5,256.0 294.6,257.1 294.8,258.3 294.9,259.4 295.0,260.5 295.2,261.6 295.3,262.7 295.5,263.8 295.6,265.0 295.7,266.1 295.9,267.2 296.0,268.3 296.2,269.4 296.3,270.5 296.5,271.6 296.6,272.8 296.8,273.9 296.9,275.0 297.1,276.1 297.2,277.2 297.4,278.3 297.5,279.5 297.7,280.6 297.8,281.7 298.0,282.8 298.1,283.9 298.3,285.0 298.4,286.1 298.6,287.2 298.8,288.4 298.9,289.5 299.1,290.6 299.3,291.7 299.4,292.8 299.6,293.9 299.8,295.0 300.0,296.1 300.1,297.2 300.3,298.3 300.5,299.5 300.7,300.6 300.9,301.7 301.1,302.8 301.3,303.9 301.5,305.0 301.7,306.1 301.9,307.2 302.1,308.3 302.4,309.4 302.6,310.5 302.9,311.6 303.1,312.7 303.3,313.8 303.6,314.9 303.8,316.0 304.0,317.1 304.3,318.2 304.6,319.2 304.9,320.3 305.1,321.4 305.4,322.5 305.8,323.5 306.1,324.6 306.4,325.7 306.8,326.7 307.2,327.7 307.6,328.8 308.0,329.8 308.5,330.8 308.9,331.8 309.4,332.8 309.9,333.8 310.3,334.8 310.8,335.8 311.3,336.8 311.8,337.7 312.4,338.7 312.9,339.6 313.5,340.5 314.2,341.3 314.9,342.2 315.6,343.0 316.3,343.8 317.0,344.5 317.8,345.2 318.6,345.8 319.4,346.5 320.4,347.1 321.3,347.6 322.3,348.2 323.4,348.7 324.4,349.2 325.4,349.7 326.4,350.1 327.4,350.5 328.5,350.9 329.5,351.3 330.6,351.7 331.7,352.0 332.7,352.4 333.8,352.7 334.9,353.0 336.0,353.4 337.1,353.7 338.2,354.0 339.3,354.3 340.4,354.6 341.4,354.9 342.5,355.2 343.6,355.5 344.7,355.9 345.8,356.2 346.9,356.5 347.9,356.8 349.0,357.1 350.1,357.4 351.2,357.7 352.3,358.0 353.4,358.2 354.5,358.5 355.6,358.7 356.7,358.9 357.8,359.1 358.9,359.3 360.0,359.5 361.1,359.7 362.2,359.9 363.4,360.0 364.5,360.2 365.6,360.4 366.7,360.5 367.8,360.7 369.0,360.8 370.1,360.9 371.2,360.9 372.3,361.0 373.4,361.0 374.6,361.0 375.7,360.9 376.8,360.9 377.9,360.8 379.0,360.7 380.2,360.5 381.3,360.4 382.4,360.2 383.5,360.0 384.6,359.8 385.7,359.6 386.9,359.4 388.0,359.2 389.1,359.0 390.2,358.8 391.3,358.6 392.4,358.4 393.5,358.3 394.6,358.1 395.7,357.9 396.8,357.7 397.9,357.4 399.0,357.2 400.2,357.0 401.3,356.7 402.4,356.5 403.4,356.3 404.5,356.0 405.6,355.8 406.7,355.5 407.8,355.2 408.9,355.0 410.0,354.7 411.1,354.5 412.2,354.2 413.3,354.0 414.4,353.8 415.5,353.5 416.6,353.3 417.7,353.1 418.9,352.9 420.0,352.7 421.1,352.5 422.2,352.3 423.3,352.0 424.4,351.8 425.5,351.6 426.6,351.5 427.7,351.3 428.8,351.1 429.9,350.9 431.0,350.7 432.2,350.5 433.3,350.3 434.4,350.1 435.5,349.9 436.6,349.6 437.7,349.4 438.8,349.2 439.9,349.0 441.0,348.8 442.1,348.6 443.2,348.3 444.3,348.1 445.4,347.8 446.5,347.6 447.6,347.4 448.7,347.1 449.8,346.9 450.9,346.6 452.0,346.4 453.1,346.1 454.2,345.9 455.3,345.6 456.4,345.3 457.5,345.0 458.6,344.8 459.7,344.5 460.8,344.2 461.9,343.9 462.9,343.6 464.0,343.3 465.1,343.0 466.2,342.7 467.2,342.3 468.3,342.0 469.4,341.6 470.4,341.2 471.5,340.8 472.5,340.4 473.6,340.0 474.6,339.6 475.6,339.2 476.7,338.7 477.7,338.3 478.8,337.8 479.8,337.4 480.8,336.9 481.9,336.5 482.9,336.0 483.9,335.6 485.0,335.2 486.0,334.7 487.1,334.3 488.1,333.9 489.2,333.6 490.3,333.2 491.3,332.9 492.4,332.5 493.5,332.1 494.5,331.8 495.6,331.4 496.7,331.1 497.8,330.7 498.8,330.4 499.9,330.0 501.0,329.7 502.1,329.4 503.2,329.1 504.3,328.8 505.4,328.5 506.4,328.3 507.5,328.0 508.6,327.8 509.7,327.6 510.8,327.3 511.9,327.1 513.0,326.9 514.1,326.7 515.3,326.5 516.4,326.3 517.5,326.1 518.6,325.9 519.7,325.7 520.8,325.6 522.0,325.4 523.1,325.3 524.2,325.2 525.3,325.1 526.4,325.0 527.6,325.0 528.7,325.0 529.8,325.0 530.9,325.0 532.1,325.0 533.2,325.1 534.3,325.1 535.5,325.1 536.6,325.2 537.7,325.2 538.9,325.3 540.0,325.4 541.1,325.4 542.2,325.5 543.3,325.6 544.5,325.6 545.6,325.7 546.7,325.8 547.8,325.9 548.9,326.0 550.0,326.2 551.1,326.4 552.2,326.7 553.3,326.9 554.4,327.2 555.5,327.5 556.5,327.8 557.6,328.2 558.7,328.5 559.8,328.9 560.9,329.2 561.9,329.6 563.0,330.0 564.1,330.3 565.2,330.7 566.3,331.1 567.3,331.4 568.4,331.7 569.5,332.1 570.6,332.4 571.6,332.7 572.7,333.1 573.8,333.4 574.8,333.8 575.9,334.2 577.0,334.5 578.0,334.9 579.1,335.3 580.2,335.6 581.2,336.0 582.3,336.4 583.4,336.7 584.4,337.1 585.5,337.5 586.6,337.8 587.6,338.2 588.7,338.6 589.8,338.9 590.8,339.2 591.9,339.6 593.0,339.9 594.1,340.2 595.1,340.6 596.2,340.9 597.3,341.2 598.4,341.5 599.5,341.9 600.5,342.2 601.6,342.5 602.7,342.9 603.8,343.2 604.9,343.5 606.0,343.8 607.0,344.1 608.1,344.4 609.2,344.7 610.3,345.0 611.4,345.3 612.5,345.6 613.6,345.8 614.7,346.0 615.8,346.3 616.9,346.5 618.0,346.6 619.1,346.8 620.2,347.0 621.3,347.1 622.4,347.3 623.5,347.5 624.6,347.6 625.8,347.7 626.9,347.9 628.0,348.0 629.1,348.1 630.2,348.2 631.4,348.3 632.5,348.5 633.6,348.6 634.7,348.7 635.9,348.8 637.0,348.9 638.1,349.0 639.2,349.1 640.4,349.2 641.5,349.3 642.6,349.4 643.7,349.5 644.8,349.6 646.0,349.8 647.1,349.9 648.2,350.0 649.3,350.1 650.4,350.2 651.6,350.3 652.7,350.3 653.8,350.4 654.9,350.5 656.1,350.6 657.2,350.7 658.3,350.8" fill="none" stroke="#ff7f00" stroke-width="3.6" stroke-linejoin="round"/>
<polyline points="121.7,474.2 122.4,474.1 123.1,474.1 123.9,474.0 124.6,473.9 125.3,473.8 126.0,473.8 126.8,473.7 127.5,473.6 128.2,473.5 128.9,473.5 129.7,473.4 130.4,473.3 131.1,473.2 131.8,473.1 132.5,473.1 133.3,473.0 134.0,472.9 134.7,472.8 135.4,472.8 136.2,472.7 136.9,472.6 137.6,472.5 138.3,472.4 139.1,472.3 139.8,472.2 140.5,472.2 141.2,472.1 141.9,472.0 142.7,471.9 143.4,471.8 144.1,471.7 144.8,471.6 145.6,471.6 146.3,471.5 147.0,471.4 147.7,471.3 148.5,471.3 149.2,471.2 149.9,471.2 150.6,471.1 151.3,471.1 152.1,471.0 152.8,471.0 153.5,471.0 154.2,470.9 155.0,470.9 155.7,470.8 156.4,470.8 157.1,470.7 157.9,470.6 158.6,470.6 159.3,470.5 160.0,470.4 160.7,470.3 161.5,470.2 162.2,470.1 162.9,470.0 163.6,469.8 164.4,469.7 165.1,469.5 165.8,469.4 166.5,469.2 167.3,469.1 168.0,468.9 168.7,468.7 169.4,468.6 170.1,468.4 170.9,468.2 171.6,468.0 172.3,467.9 173.0,467.7 173.8,467.5 174.5,467.3 175.2,467.1 175.9,467.0 176.7,466.8 177.4,466.6 178.1,466.4 178.8,466.2 179.5,466.0 180.3,465.8 181.0,465.6 181.7,465.4 182.4,465.2 183.2,464.9 183.9,464.7 184.6,464.5 185.3,464.3 186.1,464.0 186.8,463.8 187.5,463.5 188.2,463.3 188.9,463.0 189.7,462.7 190.4,462.5 191.1,462.2 191.8,461.9 192.6,461.6 193.3,461.3 194.0,461.0 194.7,460.7 195.5,460.3 196.2,460.0 196.9,459.7 197.6,459.3 198.4,458.9 199.1,458.5 199.8,458.1 200.5,457.7 201.2,457.3 202.0,456.9 202.7,456.4 203.4,456.0 204.1,455.5 204.9,455.0 205.6,454.5 206.3,454.0 207.0,453.5 207.8,452.9 208.5,452.4 209.2,451.8 209.9,451.2 210.6,450.5 211.4,449.9 212.1,449.1 212.8,448.4 213.5,447.6 214.3,446.8 215.0,446.0 215.7,445.1 216.4,444.2 217.2,443.3 217.9,442.3 218.6,441.3 219.3,440.2 220.0,439.0 220.8,437.7 221.5,436.3 222.2,434.9 222.9,433.4 223.7,431.9 224.4,430.3 225.1,428.7 225.8,427.0 226.6,425.3 227.3,423.6 228.0,421.9 228.7,420.1 229.4,418.2 230.2,416.2 230.9,414.1 231.6,412.0 232.3,409.8 233.1,407.5 233.8,405.1 234.5,402.5 235.2,399.8 236.0,396.9 236.7,393.9 237.4,390.8 238.1,387.5 238.8,384.1 239.6,380.4 240.3,376.4 241.0,372.3 241.7,368.0 242.5,363.5 243.2,358.8 243.9,353.7 244.6,348.4 245.4,343.0 246.1,337.7 246.8,332.6 247.5,328.1 248.2,324.0 249.0,319.7 249.7,314.8 250.4,309.0 251.1,301.3 251.9,292.0 252.6,281.8 253.3,271.5 254.0,261.6 254.8,252.0 255.5,242.0 256.2,232.1 256.9,222.5 257.6,213.4 258.4,205.3 259.1,197.9 259.8,191.2 260.5,184.7 261.3,178.5 262.0,172.1 262.7,165.7 263.4,159.4 264.2,153.2 264.9,147.1 266.7,141.0 269.8,120.5 273.4,118.3 276.6,134.8 277.4,141.0 277.5,142.1 277.8,143.2 278.0,144.3 278.3,145.4 278.5,146.5 278.7,147.6 278.9,148.7 279.1,149.8 279.3,150.9 279.5,152.1 279.6,153.2 279.8,154.3 279.9,155.4 280.0,156.5 280.2,157.6 280.3,158.7 280.4,159.9 280.5,161.0 280.6,162.1 280.8,163.2 280.9,164.3 281.0,165.5 281.1,166.6 281.2,167.7 281.3,168.8 281.4,170.0 281.5,171.1 281.6,172.2 281.7,173.3 281.8,174.4 282.0,175.6 282.1,176.7 282.2,177.8 282.3,178.9 282.4,180.0 282.5,181.2 282.6,182.3 282.7,183.4 282.8,184.5 283.0,185.6 283.1,186.8 283.2,187.9 283.3,189.0 283.4,190.1 283.5,191.3 283.6,192.4 283.7,193.5 283.8,194.6 283.9,195.7 284.0,196.9 284.1,198.0 284.3,199.1 284.4,200.2 284.5,201.3 284.6,202.5 284.7,203.6 284.9,204.7 285.0,205.8 285.1,206.9 285.2,208.0 285.4,209.2 285.5,210.3 285.6,211.4 285.8,212.5 285.9,213.6 286.0,214.8 286.2,215.9 286.3,217.0 286.4,218.1 286.6,219.2 286.7,220.3 286.9,221.5 287.0,222.6 287.2,223.7 287.3,224.8 287.5,225.9 287.6,227.0 287.8,228.2 287.9,229.3 288.1,230.4 288.2,231.5 288.4,232.6 288.5,233.7 288.7,234.8 288.8,236.0 289.0,237.1 289.1,238.2 289.3,239.3 289.4,240.4 289.6,241.5 289.8,242.7 289.9,243.8 290.1,244.9 290.2,246.0 290.4,247.1 290.5,248.2 290.7,249.3 290.9,250.5 291.0,251.6 291.2,252.7 291.3,253.8 291.5,254.9 291.6,256.0 291.8,257.1 292.0,258.3 292.1,259.4 292.3,260.5 292.4,261.6 292.6,262.7 292.7,263.8 292.9,265.0 293.1,266.1 293.2,267.2 293.4,268.3 293.5,269.4 293.7,270.5 293.8,271.6 294.0,272.8 294.2,273.9 294.3,275.0 294.5,276.1 294.6,277.2 294.8,278.3 295.0,279.5 295.1,280.6 295.3,281.7 295.5,282.8 295.6,283.9 295.8,285.0 296.0,286.1 296.1,287.2 296.3,288.4 296.5,289.5 296.7,290.6 296.9,291.7 297.0,292.8 297.2,293.9 297.4,295.0 297.6,296.1 297.8,297.2 298.0,298.3 298.2,299.5 298.4,300.6 298.6,301.7 298.8,302.8 299.0,303.9 299.2,305.0 299.5,306.1 299.7,307.2 299.9,308.3 300.1,309.4 300.4,310.5 300.6,311.6 300.9,312.7 301.2,313.8 301.4,314.9 301.7,316.0 302.0,317.1 302.3,318.2 302.6,319.2 302.9,320.3 303.2,321.4 303.6,322.5 303.9,323.5 304.3,324.6 304.7,325.7 305.1,326.7 305.5,327.7 306.0,328.8 306.5,329.8 307.0,330.8 307.5,331.8 308.0,332.8 308.6,333.8 309.1,334.8 309.6,335.8 310.2,336.8 310.8,337.7 311.4,338.7 312.0,339.6 312.7,340.5 313.5,341.3 314.2,342.2 315.0,343.0 315.8,343.8 316.7,344.5 317.6,345.2 318.5,345.8 319.4,346.5 320.4,347.1 321.3,347.6 322.3,348.2 323.4,348.7 324.4,349.2 325.4,349.7 326.4,350.1 327.4,350.5 328.5,350.9 329.5,351.3 330.6,351.7 331.7,352.0 332.7,352.4 333.8,352.7 334.9,353.0 336.0,353.4 337.1,353.7 338.2,354.0 339.3,354.3 340.4,354.6 341.4,354.9 342.5,355.2 343.6,355.5 344.7,355.9 345.8,356.2 346.9,356.5 347.9,356.8 349.0,357.1 350.1,357.4 351.2,357.7 352.3,358.0 353.4,358.2 354.5,358.5 355.6,358.7 356.7,358.9 357.8,359.1 358.9,359.3 360.0,359.5 361.1,359.7 362.2,359.9 363.4,360.0 364.5,360.2 365.6,360.4 366.7,360.5 367.8,360.7 369.0,360.8 370.1,360.9 371.2,360.9 372.3,361.0 373.4,361.0 374.6,361.0 375.7,360.9 376.8,360.9 377.9,360.8 379.0,360.7 380.2,360.5 381.3,360.4 382.4,360.2 383.5,360.0 384.6,359.8 385.7,359.6 386.9,359.4 388.0,359.2 389.1,359.0 390.2,358.8 391.3,358.6 392.4,358.4 393.5,358.3 394.6,358.1 395.7,357.9 396.8,357.7 397.9,357.4 399.0,357.2 400.2,357.0 401.3,356.7 402.4,356.5 403.4,356.3 404.5,356.0 405.6,355.8 406.7,355.5 407.8,355.2 408.9,355.0 410.0,354.7 411.1,354.5 412.2,354.2 413.3,354.0 414.4,353.8 415.5,353.5 416.6,353.3 417.7,353.1 418.9,352.9 420.0,352.7 421.1,352.5 422.2,352.3 423.3,352.0 424.4,351.8 425.5,351.6 426.6,351.5 427.7,351.3 428.8,351.1 429.9,350.9 431.0,350.7 432.2,350.5 433.3,350.3 434.4,350.1 435.5,349.9 436.6,349.6 437.7,349.4 438.8,349.2 439.9,349.0 441.0,348.8 442.1,348.6 443.2,348.3 444.3,348.1 445.4,347.8 446.5,347.6 447.6,347.4 448.7,347.1 449.8,346.9 450.9,346.6 452.0,346.4 453.1,346.1 454.2,345.9 455.3,345.6 456.4,345.3 457.5,345.0 458.6,344.8 459.7,344.5 460.8,344.2 461.9,343.9 462.9,343.6 464.0,343.3 465.1,343.0 466.2,342.7 467.2,342.3 468.3,342.0 469.4,341.6 470.4,341.2 471.5,340.8 472.5,340.4 473.6,340.0 474.6,339.6 475.6,339.2 476.7,338.7 477.7,338.3 478.8,337.8 479.8,337.4 480.8,336.9 481.9,336.5 482.9,336.0 483.9,335.6 485.0,335.2 486.0,334.7 487.1,334.3 488.1,333.9 489.2,333.6 490.3,333.2 491.3,332.9 492.4,332.5 493.5,332.1 494.5,331.8 495.6,331.4 496.7,331.1 497.8,330.7 498.8,330.4 499.9,330.0 501.0,329.7 502.1,329.4 503.2,329.1 504.3,328.8 505.4,328.5 506.4,328.3 507.5,328.0 508.6,327.8 509.7,327.6 510.8,327.3 511.9,327.1 513.0,326.9 514.1,326.7 515.3,326.5 516.4,326.3 517.5,326.1 518.6,325.9 519.7,325.7 520.8,325.6 522.0,325.4 523.1,325.3 524.2,325.2 525.3,325.1 526.4,325.0 527.6,325.0 528.7,325.0 529.8,325.0 530.9,325.0 532.1,325.0 533.2,325.1 534.3,325.1 535.5,325.1 536.6,325.2 537.7,325.2 538.9,325.3 540.0,325.4 541.1,325.4 542.2,325.5 543.3,325.6 544.5,325.6 545.6,325.7 546.7,325.8 547.8,325.9 548.9,326.0 550.0,326.2 551.1,326.4 552.2,326.7 553.3,326.9 554.4,327.2 555.5,327.5 556.5,327.8 557.6,328.2 558.7,328.5 559.8,328.9 560.9,329.2 561.9,329.6 563.0,330.0 564.1,330.3 565.2,330.7 566.3,331.1 567.3,331.4 568.4,331.7 569.5,332.1 570.6,332.4 571.6,332.7 572.7,333.1 573.8,333.4 574.8,333.8 575.9,334.2 577.0,334.5 578.0,334.9 579.1,335.3 580.2,335.6 581.2,336.0 582.3,336.4 583.4,336.7 584.4,337.1 585.5,337.5 586.6,337.8 587.6,338.2 588.7,338.6 589.8,338.9 590.8,339.2 591.9,339.6 593.0,339.9 594.1,340.2 595.1,340.6 596.2,340.9 597.3,341.2 598.4,341.5 599.5,341.9 600.5,342.2 601.6,342.5 602.7,342.9 603.8,343.2 604.9,343.5 606.0,343.8 607.0,344.1 608.1,344.4 609.2,344.7 610.3,345.0 611.4,345.3 612.5,345.6 613.6,345.8 614.7,346.0 615.8,346.3 616.9,346.5 618.0,346.6 619.1,346.8 620.2,347.0 621.3,347.1 622.4,347.3 623.5,347.5 624.6,347.6 625.8,347.7 626.9,347.9 628.0,348.0 629.1,348.1 630.2,348.2 631.4,348.3 632.5,348.5 633.6,348.6 634.7,348.7 635.9,348.8 637.0,348.9 638.1,349.0 639.2,349.1 640.4,349.2 641.5,349.3 642.6,349.4 643.7,349.5 644.8,349.6 646.0,349.8 647.1,349.9 648.2,350.0 649.3,350.1 650.4,350.2 651.6,350.3 652.7,350.3 653.8,350.4 654.9,350.5 656.1,350.6 657.2,350.7 658.3,350.8" fill="none" stroke="#008000" stroke-width="3.6" stroke-linejoin="round"/>
<rect x="122.2" y="33.6" width="536.4" height="444.4" fill="none" stroke="#000" stroke-width="1.7"/>
<line x1="148.8" y1="478.0" x2="148.8" y2="468.5" stroke="#000" stroke-width="1.6" />
<text transform="translate(150.0 513.4) scale(1.03 1)" font-size="31.3" text-anchor="middle" fill="#000" >11200</text>
<line x1="202.4" y1="478.0" x2="202.4" y2="473.2" stroke="#000" stroke-width="1.6" />
<line x1="256.1" y1="478.0" x2="256.1" y2="468.5" stroke="#000" stroke-width="1.6" />
<text transform="translate(257.2 513.4) scale(1.03 1)" font-size="31.3" text-anchor="middle" fill="#000" >11220</text>
<line x1="309.7" y1="478.0" x2="309.7" y2="473.2" stroke="#000" stroke-width="1.6" />
<line x1="363.3" y1="478.0" x2="363.3" y2="468.5" stroke="#000" stroke-width="1.6" />
<text transform="translate(364.5 513.4) scale(1.03 1)" font-size="31.3" text-anchor="middle" fill="#000" >11240</text>
<line x1="416.9" y1="478.0" x2="416.9" y2="473.2" stroke="#000" stroke-width="1.6" />
<line x1="470.6" y1="478.0" x2="470.6" y2="468.5" stroke="#000" stroke-width="1.6" />
<text transform="translate(471.8 513.4) scale(1.03 1)" font-size="31.3" text-anchor="middle" fill="#000" >11260</text>
<line x1="524.1" y1="478.0" x2="524.1" y2="473.2" stroke="#000" stroke-width="1.6" />
<line x1="577.8" y1="478.0" x2="577.8" y2="468.5" stroke="#000" stroke-width="1.6" />
<text transform="translate(579.0 513.4) scale(1.03 1)" font-size="31.3" text-anchor="middle" fill="#000" >11280</text>
<line x1="631.4" y1="478.0" x2="631.4" y2="473.2" stroke="#000" stroke-width="1.6" />
<text transform="translate(390.3 553.2) scale(1.03 1)" font-size="35.6" text-anchor="middle" fill="#000" >Energy (eV)</text>
<text transform="translate(82.9 254.2) rotate(-90) scale(1 1.03)" font-size="36.25" text-anchor="middle">Normalized Absorption (a. u.)</text>
<text transform="translate(15.4 38.6) scale(1.0 1)" font-size="43" text-anchor="start" fill="#000" >a</text>
<text transform="translate(138.7 78.2) scale(1.03 1)" font-size="31.3">Ir <tspan font-style="italic">L</tspan><tspan font-style="italic" font-size="22" dy="9">3</tspan><tspan dy="-9">-edge</tspan></text>
<rect x="256.7" y="92" width="33.3" height="59.7" fill="none" stroke="#7f00ff" stroke-width="3.2" stroke-dasharray="3.3 3.3"/>
<line x1="290.0" y1="92.0" x2="327.5" y2="101.9" stroke="#7f00ff" stroke-width="3.2" stroke-dasharray="3.3 3.3"/>
<line x1="290.0" y1="151.7" x2="328.0" y2="274.5" stroke="#7f00ff" stroke-width="3.2" stroke-dasharray="3.3 3.3"/>
<rect x="328.0" y="101.8" width="132.8" height="172.7" fill="#fff" stroke="none"/>
<clipPath id="clipA"><rect x="328.0" y="101.8" width="132.8" height="172.7"/></clipPath>
<g clip-path="url(#clipA)">
<polyline points="345.9,276.8 346.5,274.5 352.0,252.0 361.7,229.0 385.0,208.3 410.0,250.0 416.7,274.5 417.4,276.9" fill="none" stroke="#000" stroke-width="3.2" stroke-linejoin="miter"/>
<polyline points="345.2,277.6 345.8,274.5 351.7,243.3 380.0,176.7 408.0,181.3 433.3,253.3 437.5,274.5 437.9,276.6" fill="none" stroke="#808000" stroke-width="3.2" stroke-linejoin="miter"/>
<polyline points="341.9,280.0 343.0,274.5 353.7,219.2 381.2,154.7 408.7,163.7 434.7,230.8 443.3,274.5 444.2,278.9" fill="none" stroke="#7f00ff" stroke-width="3.2" stroke-linejoin="miter"/>
<polyline points="334.4,281.6 335.8,274.5 350.0,203.3 377.0,143.8 404.7,131.3 430.8,197.5 450.0,274.5 451.9,282.2" fill="none" stroke="#ff7f00" stroke-width="3.2" stroke-linejoin="miter"/>
<polyline points="343.2,280.9 345.3,274.5 366.7,210.5 392.5,203.8 415.0,255.0 420.3,274.5 420.8,276.4" fill="none" stroke="#008000" stroke-width="3.2" stroke-linejoin="miter"/>
</g>
<rect x="328.0" y="101.8" width="132.8" height="172.7" fill="none" stroke="#7a7a7a" stroke-width="1.1"/>
<line x1="328.0" y1="112.9" x2="330.2" y2="112.9" stroke="#7a7a7a" stroke-width="1" />
<line x1="328.0" y1="123.7" x2="332.0" y2="123.7" stroke="#7a7a7a" stroke-width="1" />
<line x1="328.0" y1="134.6" x2="330.2" y2="134.6" stroke="#7a7a7a" stroke-width="1" />
<line x1="328.0" y1="145.4" x2="332.0" y2="145.4" stroke="#7a7a7a" stroke-width="1" />
<line x1="328.0" y1="156.2" x2="330.2" y2="156.2" stroke="#7a7a7a" stroke-width="1" />
<line x1="328.0" y1="167.1" x2="332.0" y2="167.1" stroke="#7a7a7a" stroke-width="1" />
<line x1="328.0" y1="177.9" x2="330.2" y2="177.9" stroke="#7a7a7a" stroke-width="1" />
<line x1="328.0" y1="188.7" x2="332.0" y2="188.7" stroke="#7a7a7a" stroke-width="1" />
<line x1="328.0" y1="199.5" x2="330.2" y2="199.5" stroke="#7a7a7a" stroke-width="1" />
<line x1="328.0" y1="210.4" x2="332.0" y2="210.4" stroke="#7a7a7a" stroke-width="1" />
<line x1="328.0" y1="221.2" x2="330.2" y2="221.2" stroke="#7a7a7a" stroke-width="1" />
<line x1="328.0" y1="232.0" x2="332.0" y2="232.0" stroke="#7a7a7a" stroke-width="1" />
<line x1="328.0" y1="242.9" x2="330.2" y2="242.9" stroke="#7a7a7a" stroke-width="1" />
<line x1="328.0" y1="253.7" x2="332.0" y2="253.7" stroke="#7a7a7a" stroke-width="1" />
<line x1="328.0" y1="264.5" x2="330.2" y2="264.5" stroke="#7a7a7a" stroke-width="1" />
<line x1="345.7" y1="274.5" x2="345.7" y2="271.0" stroke="#7a7a7a" stroke-width="1" />
<line x1="421.2" y1="274.5" x2="421.2" y2="271.0" stroke="#7a7a7a" stroke-width="1" />
<line x1="383.5" y1="274.5" x2="383.5" y2="272.5" stroke="#7a7a7a" stroke-width="1" />
<text transform="translate(345.7 295.0) scale(1.045 1)" font-size="18.5" text-anchor="middle" fill="#000" >11222</text>
<text transform="translate(421.2 295.0) scale(1.045 1)" font-size="18.5" text-anchor="middle" fill="#000" >11224</text>
<line x1="365.3" y1="115.7" x2="408.0" y2="115.7" stroke="#7f00ff" stroke-width="3.2" />
<polygon points="425.8,115.7 405.5,110.7 405.5,120.7" fill="#7f00ff"/>
<line x1="349.2" y1="194.2" x2="349.2" y2="146.0" stroke="#7f00ff" stroke-width="3.2" />
<polygon points="349.2,128.3 344,148.5 354.4,148.5" fill="#7f00ff"/>
<line x1="475.6" y1="69.3" x2="547.6" y2="69.3" stroke="#000" stroke-width="3.4" />
<text transform="translate(557.3 80.0) scale(1.03 1)" font-size="30.5" text-anchor="start" fill="#000" ><tspan font-style="italic">ex situ</tspan></text>
<line x1="475.6" y1="108.7" x2="547.6" y2="108.7" stroke="#808000" stroke-width="3.4" />
<text transform="translate(557.5 119.4) scale(1.03 1)" font-size="30.5" text-anchor="start" fill="#000" >1.15 V</text>
<line x1="475.6" y1="148.0" x2="547.6" y2="148.0" stroke="#7f00ff" stroke-width="3.4" />
<text transform="translate(557.5 158.7) scale(1.03 1)" font-size="30.5" text-anchor="start" fill="#000" >1.30 V</text>
<line x1="475.6" y1="187.4" x2="547.6" y2="187.4" stroke="#ff7f00" stroke-width="3.4" />
<text transform="translate(557.5 198.1) scale(1.03 1)" font-size="30.5" text-anchor="start" fill="#000" >1.43 V</text>
<line x1="475.6" y1="226.7" x2="547.6" y2="226.7" stroke="#008000" stroke-width="3.4" />
<text transform="translate(564.5 237.4) scale(1.03 1)" font-size="30.5" text-anchor="start" fill="#000" >A. R.</text>
</g>
<g id="panel_b">
<clipPath id="clipB"><rect x="122.2" y="584.6" width="536.3" height="445.3"/></clipPath>
<g clip-path="url(#clipB)">
<polyline points="122.2,1003.7 123.7,1005.4 125.2,1006.7 126.7,1007.3 128.2,1006.7 129.7,1005.6 131.2,1004.2 132.7,1002.7 134.2,1001.1 135.7,999.5 137.2,997.8 138.7,996.2 140.2,994.7 141.7,993.2 143.2,991.4 144.7,989.7 146.1,988.0 147.6,986.6 149.1,985.7 150.6,985.3 152.1,985.7 153.6,986.7 155.1,988.1 156.6,989.7 158.1,991.3 159.6,992.7 161.1,994.1 162.6,995.5 164.1,996.8 165.6,998.0 167.1,998.9 168.6,998.7 170.1,997.2 171.6,994.7 173.1,991.6 174.6,988.0 176.1,984.3 177.6,979.9 179.1,974.5 180.6,968.5 182.1,962.1 183.6,955.6 185.1,949.2 186.6,943.1 188.1,936.8 189.6,930.4 191.0,924.1 192.5,918.1 194.0,912.7 195.5,907.3 197.0,902.0 198.5,897.2 200.0,893.2 201.5,890.3 203.0,888.4 204.5,886.6 206.0,885.0 207.5,883.6 209.0,882.4 210.5,881.4 212.0,880.7 213.5,880.1 215.0,880.0 216.5,880.1 218.0,880.1 219.5,879.7 221.0,878.5 222.5,876.6 224.0,874.2 225.5,871.4 227.0,867.2 228.5,861.8 230.0,855.6 231.5,849.2 233.0,842.8 234.5,835.9 236.0,828.6 237.4,821.0 238.9,813.3 240.4,804.8 241.9,795.3 243.4,785.3 244.9,775.4 246.4,766.4 247.9,758.8 249.4,753.2 250.9,749.4 252.4,746.2 253.9,743.7 255.4,741.7 256.9,740.1 258.4,738.6 259.9,737.1 261.4,735.9 262.9,735.1 264.4,734.9 265.9,735.8 267.4,737.5 268.9,739.5 270.4,741.5 271.9,743.6 273.4,746.2 274.9,749.7 276.4,754.2 277.9,761.0 279.4,769.9 280.9,780.2 282.4,791.2 283.8,802.0 285.3,812.0 286.8,821.2 288.3,830.2 289.8,839.1 291.3,848.1 292.8,857.1 294.3,866.5 295.8,876.3 297.3,886.1 298.8,895.2 300.3,903.3 301.8,910.6 303.3,917.5 304.8,924.1 306.3,930.2 307.8,935.9 309.3,941.0 310.8,945.7 312.3,949.8 313.8,952.8 315.3,955.5 316.8,958.2 318.3,960.8 319.8,963.2 321.3,965.5 322.8,967.6 324.3,969.5 325.8,971.2 327.3,972.6 328.7,974.0 330.2,975.2 331.7,976.3 333.2,977.1 334.7,977.9 336.2,978.5 337.7,979.1 339.2,979.5 340.7,979.8 342.2,979.9 343.7,979.7 345.2,979.0 346.7,977.9 348.2,976.4 349.7,974.8 351.2,973.1 352.7,971.2 354.2,968.5 355.7,965.7 357.2,963.2 358.7,961.3 360.2,960.0 361.7,958.9 363.2,957.9 364.7,957.2 366.2,956.6 367.7,956.2 369.2,956.1 370.7,956.2 372.2,956.5 373.7,957.2 375.1,958.3 376.6,960.3 378.1,962.8 379.6,965.6 381.1,968.1 382.6,970.4 384.1,972.8 385.6,975.0 387.1,977.0 388.6,978.5 390.1,979.7 391.6,980.8 393.1,981.7 394.6,982.4 396.1,982.8 397.6,982.7 399.1,982.4 400.6,982.1 402.1,981.7 403.6,981.2 405.1,980.8 406.6,980.4 408.1,980.0 409.6,979.7 411.1,979.4 412.6,979.1 414.1,978.8 415.6,978.6 417.1,978.4 418.6,978.4 420.0,978.6 421.5,978.9 423.0,979.3 424.5,979.8 426.0,980.4 427.5,980.9 429.0,981.5 430.5,982.1 432.0,982.5 433.5,982.9 435.0,983.3 436.5,983.6 438.0,983.9 439.5,984.3 441.0,984.6 442.5,984.8 444.0,985.1 445.5,985.3 447.0,985.5 448.5,985.6 450.0,985.6 451.5,985.4 453.0,985.3 454.5,985.1 456.0,985.0 457.5,985.0 459.0,985.1 460.5,985.5 462.0,986.0 463.5,986.7 465.0,987.5 466.4,988.4 467.9,989.4 469.4,990.4 470.9,991.7 472.4,993.3 473.9,995.1 475.4,997.1 476.9,999.0 478.4,1000.9 479.9,1002.8 481.4,1004.8 482.9,1006.8 484.4,1008.9 485.9,1010.9 487.4,1012.8 488.9,1014.7 490.4,1016.4 491.9,1018.1 493.4,1019.8 494.9,1021.3 496.4,1022.6 497.9,1023.6 499.4,1024.6 500.9,1025.4 502.4,1026.0 503.9,1026.4 503.9,1026.4 505.4,1024.6 507.0,1022.9 508.6,1021.3 510.2,1019.9 511.7,1018.6 513.3,1017.5 514.9,1016.4 516.5,1015.4 518.0,1014.7 519.6,1014.5 521.2,1014.9 522.8,1015.7 524.3,1016.8 525.9,1018.1 527.5,1019.4 529.1,1020.6 530.6,1021.9 532.2,1023.2 533.8,1024.5 535.4,1026.0 536.9,1027.4 536.9,1027.4 538.5,1025.6 540.0,1023.9 541.5,1022.2 543.0,1020.5 544.5,1018.8 546.1,1017.1 547.6,1015.5 549.1,1013.7 550.6,1011.9 552.1,1010.2 553.7,1008.6 555.2,1007.4 556.7,1006.6 558.2,1005.8 559.7,1005.2 561.3,1004.6 562.8,1004.1 564.3,1003.6 565.8,1003.3 567.3,1003.0 568.8,1002.8 570.4,1002.7 571.9,1002.7 573.4,1002.7 574.9,1002.8 576.4,1003.0 578.0,1003.2 579.5,1003.6 581.0,1004.1 582.5,1004.8 584.0,1005.6 585.6,1006.5 587.1,1007.4 588.6,1008.5 590.1,1009.5 591.6,1010.6 593.2,1011.6 594.7,1012.5 596.2,1013.6 597.7,1014.7 599.2,1015.8 600.8,1016.9 602.3,1017.9 603.8,1018.9 605.3,1019.8 606.8,1020.6 608.4,1021.3 609.9,1022.0 611.4,1022.6 612.9,1023.1 614.4,1023.5 616.0,1023.8 617.5,1023.9 619.0,1023.8 620.5,1023.7 622.0,1023.6 623.6,1023.5 625.1,1023.4 626.6,1023.2 628.1,1023.0 629.6,1022.8 631.1,1022.6 632.7,1022.3 634.2,1022.0 635.7,1021.7 637.2,1021.4 638.7,1021.1 640.3,1020.8 641.8,1020.6 643.3,1020.3 644.8,1020.1 646.3,1020.0 647.9,1019.9 649.4,1019.7 650.9,1019.7 652.4,1019.6 653.9,1019.5 655.5,1019.5 657.0,1019.5 658.5,1019.5" fill="none" stroke="#000" stroke-width="3.3" stroke-linejoin="round"/>
<polyline points="122.2,988.9 123.7,990.7 125.2,992.5 126.7,994.2 128.2,995.8 129.7,997.4 131.2,998.8 132.7,1000.4 134.2,1002.1 135.7,1003.6 137.2,1004.9 138.7,1005.6 140.2,1005.7 141.7,1004.9 143.2,1003.4 144.7,1001.5 146.2,999.2 147.7,996.9 149.2,994.7 150.7,992.9 152.2,991.2 153.7,989.4 155.2,987.6 156.7,986.0 158.2,984.9 159.7,984.5 161.2,984.9 162.7,985.8 164.2,987.0 165.7,988.3 167.2,989.7 168.7,990.9 170.2,992.1 171.7,993.5 173.3,994.8 174.8,995.9 176.3,996.8 177.8,996.6 179.3,993.5 180.8,988.4 182.3,982.1 183.8,975.6 185.3,968.1 186.8,959.0 188.3,949.8 189.8,941.9 191.3,934.1 192.8,926.3 194.3,918.9 195.8,912.4 197.3,907.0 198.8,903.0 200.3,899.5 201.8,896.4 203.3,893.6 204.8,891.1 206.3,888.9 207.8,887.0 209.3,885.1 210.8,883.2 212.3,881.5 213.8,880.1 215.3,879.1 216.8,878.9 218.3,879.1 219.8,879.0 221.3,877.9 222.8,876.0 224.3,873.4 225.8,870.3 227.3,866.6 228.8,861.6 230.3,855.7 231.8,849.5 233.3,843.9 234.8,839.0 236.3,834.5 237.8,830.0 239.3,825.3 240.8,820.0 242.3,813.8 243.8,806.2 245.3,797.0 246.8,786.7 248.3,775.8 249.8,764.8 251.3,754.2 252.8,744.0 254.3,733.5 255.8,723.5 257.3,714.9 258.8,707.2 260.3,700.4 261.8,695.2 263.3,691.6 264.8,688.6 266.3,686.8 267.8,686.6 269.3,687.7 270.8,689.7 272.4,692.2 273.9,695.7 275.4,700.5 276.9,706.3 278.4,712.7 279.9,720.3 281.4,728.7 282.9,737.2 284.4,745.6 285.9,755.9 287.4,770.7 288.9,787.8 290.4,803.8 291.9,815.4 293.4,823.7 294.9,830.4 296.4,836.2 297.9,841.6 299.4,847.3 300.9,853.9 302.4,861.9 303.9,871.1 305.4,880.9 306.9,890.8 308.4,900.6 309.9,909.8 311.4,918.4 312.9,926.7 314.4,934.8 315.9,942.8 317.4,950.7 318.9,959.0 320.4,967.2 321.9,974.9 323.4,981.8 324.9,987.5 326.4,992.8 327.9,997.4 329.4,1001.2 330.9,1003.7 330.9,1003.7 332.4,998.7 333.9,993.9 335.5,989.3 337.0,985.0 338.5,981.1 340.0,977.3 341.5,973.6 343.0,970.0 344.5,966.9 346.1,964.3 347.6,962.5 349.1,961.1 350.6,959.7 352.1,958.4 353.6,957.3 355.1,956.5 356.7,955.9 358.2,955.7 359.7,955.8 361.2,956.1 362.7,956.5 364.2,957.0 365.8,957.6 367.3,958.3 368.8,959.1 370.3,960.0 371.8,961.0 373.3,962.3 374.8,963.8 376.4,965.2 377.9,966.6 379.4,967.9 380.9,968.9 382.4,969.6 383.9,970.2 385.4,970.8 387.0,971.3 388.5,971.8 390.0,972.2 391.5,972.6 393.0,973.0 394.5,973.5 396.0,973.9 397.6,974.4 399.1,975.0 400.6,975.6 402.1,976.2 403.6,976.9 405.1,977.5 406.7,978.2 408.2,978.8 409.7,979.5 411.2,980.1 412.7,980.7 414.2,981.3 415.7,981.9 417.3,982.4 418.8,982.8 420.3,983.2 421.8,983.5 423.3,983.8 424.8,984.0 426.3,984.2 427.9,984.5 429.4,984.8 430.9,985.1 432.4,985.5 433.9,985.9 435.4,986.3 436.9,986.7 438.5,987.2 440.0,987.6 441.5,988.1 443.0,988.6 444.5,989.1 446.0,989.6 447.6,990.2 449.1,990.9 450.6,991.7 452.1,992.5 453.6,993.4 455.1,994.5 456.6,995.6 458.2,996.8 459.7,998.2 461.2,1000.0 462.7,1002.7 464.2,1005.9 465.7,1009.5 467.2,1012.8 468.8,1015.7 470.3,1018.2 471.8,1020.6 473.3,1022.9 474.8,1024.8 474.8,1024.8 476.3,1023.0 477.9,1021.1 479.4,1019.4 480.9,1017.8 482.4,1016.5 483.9,1015.5 485.5,1014.7 487.0,1013.9 488.5,1013.2 490.0,1012.6 491.6,1012.2 493.1,1012.0 494.6,1012.1 496.1,1012.5 497.6,1013.1 499.2,1013.8 500.7,1014.6 502.2,1015.5 503.7,1016.4 505.3,1017.3 506.8,1018.2 508.3,1019.4 509.8,1020.6 511.3,1021.7 512.9,1022.8 514.4,1023.5 515.9,1023.9 517.4,1023.6 519.0,1022.7 520.5,1021.4 522.0,1020.1 523.5,1018.7 525.0,1017.1 526.6,1015.3 528.1,1013.5 529.6,1011.7 531.1,1010.0 532.7,1008.6 534.2,1007.5 535.7,1006.5 537.2,1005.7 538.7,1005.0 540.3,1004.6 541.8,1004.5 543.3,1004.7 544.8,1005.1 546.4,1005.6 547.9,1006.3 549.4,1007.0 550.9,1007.9 552.4,1008.8 554.0,1010.0 555.5,1011.3 557.0,1012.7 558.5,1014.0 560.1,1015.3 561.6,1016.4 563.1,1017.6 564.6,1018.8 566.1,1019.9 567.7,1021.0 569.2,1022.0 570.7,1022.9 572.2,1023.8 573.8,1024.6 575.3,1025.4 576.8,1026.2 578.3,1026.8 579.8,1027.4 579.8,1027.4 581.4,1026.9 582.9,1026.5 584.5,1026.0 586.0,1025.6 587.6,1025.3 589.1,1025.0 590.6,1024.9 592.2,1024.8 593.7,1024.8 595.3,1024.9 596.8,1024.9 598.4,1025.0 599.9,1025.1 601.4,1025.3 603.0,1025.5 604.5,1025.7 606.1,1026.0 607.6,1026.4 609.1,1026.6 610.7,1026.8 612.2,1026.8 613.8,1026.7 615.3,1026.4 616.9,1026.1 618.4,1025.7 619.9,1025.2 621.5,1024.6 623.0,1024.1 624.6,1023.6 626.1,1023.2 627.7,1022.8 629.2,1022.5 630.7,1022.1 632.3,1021.8 633.8,1021.5 635.4,1021.2 636.9,1020.9 638.5,1020.7 640.0,1020.5 641.5,1020.3 643.1,1020.1 644.6,1020.0 646.2,1019.9 647.7,1019.9 649.2,1019.8 650.8,1019.8 652.3,1019.9 653.9,1019.9 655.4,1019.9 657.0,1020.0 658.5,1020.1" fill="none" stroke="#808000" stroke-width="3.3" stroke-linejoin="round"/>
<polyline points="122.2,1009.6 123.7,1007.5 125.2,1005.3 126.7,1003.1 128.2,1000.9 129.7,998.6 131.2,996.4 132.7,994.1 134.2,991.7 135.8,988.8 137.3,985.8 138.8,982.8 140.3,980.0 141.8,977.6 143.3,975.8 144.8,974.8 146.3,974.7 147.8,975.6 149.3,977.1 150.8,979.1 152.3,981.3 153.8,983.7 155.3,985.8 156.8,987.8 158.3,990.2 159.8,993.0 161.3,995.8 162.9,998.5 164.4,1000.6 165.9,1001.9 167.4,1001.9 168.9,998.1 170.4,991.1 171.9,982.4 173.4,973.5 174.9,965.9 176.4,959.9 177.9,954.2 179.4,948.5 180.9,942.5 182.4,936.2 183.9,929.0 185.4,919.9 186.9,910.0 188.4,900.8 190.0,893.6 191.5,888.5 193.0,884.1 194.5,880.4 196.0,877.7 197.5,875.7 199.0,873.6 200.5,871.9 202.0,870.8 203.5,870.9 205.0,871.8 206.5,873.2 208.0,875.0 209.5,877.0 211.0,879.0 212.5,880.9 214.0,883.4 215.5,886.3 217.1,889.4 218.6,892.5 220.1,895.3 221.6,897.6 223.1,899.1 224.6,898.9 226.1,896.2 227.6,891.5 229.1,885.1 230.6,877.8 232.1,869.8 233.6,861.9 235.1,854.4 236.6,846.5 238.1,837.4 239.6,827.1 241.1,815.8 242.6,802.9 244.2,787.6 245.7,771.5 247.2,756.2 248.7,742.2 250.2,728.9 251.7,717.5 253.2,708.2 254.7,699.8 256.2,692.5 257.7,686.1 259.2,680.1 260.7,674.6 262.2,670.0 263.7,666.0 265.2,662.8 266.7,660.9 268.2,660.0 269.7,660.8 271.3,662.6 272.8,665.0 274.3,668.6 275.8,672.8 277.3,677.7 278.8,683.6 280.3,690.2 281.8,697.0 283.3,704.7 284.8,713.3 286.3,723.0 287.8,734.9 289.3,748.7 290.8,762.3 292.3,776.4 293.8,790.5 295.3,804.1 296.8,816.6 298.4,828.2 299.9,839.1 301.4,849.4 302.9,859.4 304.4,869.2 305.9,878.6 307.4,887.8 308.9,896.8 310.4,905.9 311.9,914.8 313.4,922.9 314.9,929.9 316.4,936.0 317.9,941.4 319.4,946.5 320.9,950.9 322.4,955.2 323.9,959.4 325.5,964.1 327.0,969.3 328.5,975.1 330.0,981.2 331.5,987.5 333.0,994.1 334.5,1001.3 334.5,1001.3 336.0,993.1 337.5,985.2 339.0,977.7 340.5,970.8 342.0,964.0 343.6,957.4 345.1,951.4 346.6,946.2 348.1,942.1 349.6,938.5 351.1,935.4 352.6,933.2 354.1,931.7 355.7,930.5 357.2,930.0 358.7,930.4 360.2,931.4 361.7,932.8 363.2,934.5 364.7,936.7 366.2,939.7 367.7,943.0 369.3,946.4 370.8,949.8 372.3,953.5 373.8,957.3 375.3,961.1 376.8,964.6 378.3,967.8 379.8,971.0 381.4,974.0 382.9,976.5 384.4,978.4 385.9,979.8 387.4,981.0 388.9,981.8 390.4,982.0 391.9,981.8 393.5,981.6 395.0,981.4 396.5,981.2 398.0,981.0 399.5,980.8 401.0,980.6 402.5,980.5 404.0,980.4 405.5,980.3 407.1,980.2 408.6,980.2 410.1,980.1 411.6,980.0 413.1,979.9 414.6,979.8 416.1,979.7 417.6,979.7 419.2,979.7 420.7,979.7 422.2,979.7 423.7,979.8 425.2,979.8 426.7,979.9 428.2,980.3 429.7,981.0 431.3,981.9 432.8,982.9 434.3,984.1 435.8,985.4 437.3,987.1 438.8,989.0 440.3,991.1 441.8,993.3 443.3,995.5 444.9,997.6 446.4,999.7 447.9,1001.9 449.4,1004.2 450.9,1006.4 452.4,1008.5 453.9,1010.6 455.4,1012.6 457.0,1014.7 458.5,1016.6 460.0,1018.0 461.5,1018.5 463.0,1017.8 464.5,1016.2 466.0,1014.2 467.5,1012.3 469.1,1011.0 470.6,1010.0 472.1,1009.0 473.6,1008.1 475.1,1007.5 476.6,1007.1 478.1,1007.1 479.6,1007.6 481.1,1008.6 482.7,1009.8 484.2,1011.3 485.7,1012.9 487.2,1014.8 488.7,1017.3 490.2,1020.0 491.7,1022.2 493.2,1024.1 494.8,1025.9 496.3,1027.4 496.3,1027.4 497.8,1025.3 499.3,1023.1 500.8,1020.6 502.3,1018.1 503.9,1015.2 505.4,1012.1 506.9,1009.0 508.4,1006.2 509.9,1003.9 511.4,1001.8 512.9,1000.0 514.5,998.4 516.0,997.2 517.5,996.4 519.0,995.7 520.5,995.2 522.0,994.9 523.6,994.9 525.1,995.1 526.6,995.6 528.1,996.3 529.6,997.2 531.1,998.3 532.7,999.6 534.2,1001.4 535.7,1003.5 537.2,1005.8 538.7,1008.1 540.2,1010.3 541.8,1012.8 543.3,1015.2 544.8,1017.3 546.3,1018.9 547.8,1020.1 549.3,1020.9 550.9,1021.2 552.4,1020.7 553.9,1019.8 555.4,1018.5 556.9,1017.1 558.4,1015.6 559.9,1013.6 561.5,1011.6 563.0,1009.6 564.5,1008.2 566.0,1007.1 567.5,1006.1 569.0,1005.3 570.6,1004.6 572.1,1004.1 573.6,1003.9 575.1,1004.0 576.6,1004.2 578.1,1004.7 579.7,1005.2 581.2,1005.9 582.7,1006.7 584.2,1007.5 585.7,1008.6 587.2,1009.8 588.8,1011.1 590.3,1012.4 591.8,1013.7 593.3,1014.8 594.8,1015.8 596.3,1016.7 597.9,1017.7 599.4,1018.6 600.9,1019.5 602.4,1020.2 603.9,1020.7 605.4,1021.0 607.0,1021.1 608.5,1020.9 610.0,1020.5 611.5,1020.0 613.0,1019.4 614.5,1018.8 616.0,1018.1 617.6,1017.5 619.1,1016.7 620.6,1015.9 622.1,1015.0 623.6,1014.2 625.1,1013.4 626.7,1012.7 628.2,1012.2 629.7,1011.8 631.2,1011.4 632.7,1011.1 634.2,1010.7 635.8,1010.5 637.3,1010.2 638.8,1010.0 640.3,1009.8 641.8,1009.7 643.3,1009.6 644.9,1009.6 646.4,1009.6 647.9,1009.6 649.4,1009.6 650.9,1009.7 652.4,1009.7 654.0,1009.8 655.5,1009.9 657.0,1010.1 658.5,1010.2" fill="none" stroke="#7f00ff" stroke-width="3.3" stroke-linejoin="round"/>
<polyline points="122.2,986.9 123.7,988.6 125.2,990.3 126.7,991.9 128.2,993.6 129.7,995.2 131.2,996.9 132.7,998.7 134.2,1000.8 135.7,1002.9 137.2,1004.8 138.7,1006.5 140.2,1007.5 141.7,1007.9 143.2,1007.1 144.7,1005.3 146.2,1002.8 147.7,999.9 149.2,997.0 150.7,994.3 152.2,992.1 153.7,989.8 155.2,987.3 156.7,984.9 158.2,983.0 159.7,981.8 161.2,981.6 162.7,982.4 164.2,983.9 165.7,985.8 167.2,987.9 168.7,989.9 170.2,991.6 171.7,993.4 173.2,995.3 174.7,997.0 176.2,998.5 177.7,999.6 179.2,998.8 180.7,995.6 182.2,991.2 183.7,986.1 185.2,979.0 186.7,971.2 188.2,963.6 189.7,955.6 191.2,948.2 192.7,942.6 194.2,939.1 195.7,935.4 197.3,928.7 198.8,917.3 200.3,908.8 201.8,903.6 203.3,899.1 204.8,895.3 206.3,892.4 207.8,890.0 209.3,887.8 210.8,885.7 212.3,884.0 213.8,883.0 215.3,882.6 216.8,882.6 218.3,882.8 219.8,882.9 221.3,882.6 222.8,881.7 224.3,880.2 225.8,878.0 227.3,875.3 228.8,872.1 230.3,868.4 231.8,864.4 233.3,860.0 234.8,854.7 236.3,848.0 237.8,840.4 239.3,832.1 240.8,823.7 242.3,815.4 243.8,807.6 245.3,799.7 246.8,791.6 248.3,783.5 249.8,775.5 251.3,767.7 252.8,760.3 254.3,753.5 255.8,747.3 257.3,741.8 258.8,737.1 260.3,733.0 261.8,729.4 263.3,726.5 264.8,723.9 266.3,722.8 267.8,723.7 269.3,725.8 270.8,728.6 272.3,732.3 273.8,736.2 275.3,739.6 276.8,742.7 278.3,745.7 279.8,749.1 281.3,753.3 282.8,758.8 284.3,765.4 285.8,772.8 287.3,780.8 288.8,789.1 290.3,797.4 291.8,805.5 293.3,813.1 294.8,820.2 296.3,827.0 297.8,833.8 299.3,840.6 300.8,847.6 302.3,854.9 303.8,862.8 305.3,871.3 306.8,880.3 308.3,889.6 309.8,898.9 311.3,907.8 312.8,916.4 314.3,924.9 315.8,933.3 317.3,941.2 318.8,948.4 320.3,954.5 321.8,960.3 323.3,967.0 324.8,975.3 326.3,984.2 327.8,992.6 329.3,999.4 330.8,1005.2 332.3,1009.2 332.3,1009.2 333.9,1004.3 335.4,998.8 336.9,992.6 338.4,985.7 339.9,978.5 341.4,971.6 342.9,965.8 344.4,960.9 345.9,956.3 347.4,952.3 349.0,949.0 350.5,946.5 352.0,944.4 353.5,942.6 355.0,941.5 356.5,941.4 358.0,942.2 359.5,943.6 361.0,945.5 362.6,947.7 364.1,950.3 365.6,953.7 367.1,957.5 368.6,961.4 370.1,965.3 371.6,968.7 373.1,971.8 374.6,975.1 376.2,978.2 377.7,980.9 379.2,983.1 380.7,984.6 382.2,986.0 383.7,987.2 385.2,988.1 386.7,988.6 388.2,988.6 389.8,988.0 391.3,987.3 392.8,986.4 394.3,985.4 395.8,984.5 397.3,983.5 398.8,982.7 400.3,982.0 401.8,981.3 403.4,980.5 404.9,979.8 406.4,979.1 407.9,978.4 409.4,977.8 410.9,977.3 412.4,976.8 413.9,976.3 415.4,975.9 417.0,975.5 418.5,975.2 420.0,974.8 421.5,974.5 423.0,974.3 424.5,974.0 426.0,973.8 427.5,973.7 429.0,973.6 430.6,973.5 432.1,973.6 433.6,974.0 435.1,974.5 436.6,975.2 438.1,976.0 439.6,976.8 441.1,977.7 442.6,978.9 444.2,980.5 445.7,982.3 447.2,984.3 448.7,986.4 450.2,988.6 451.7,990.9 453.2,993.4 454.7,996.0 456.2,998.8 457.7,1001.6 459.3,1004.3 460.8,1007.0 462.3,1009.6 463.8,1012.2 465.3,1014.8 466.8,1017.3 468.3,1019.8 469.8,1022.2 471.3,1024.4 472.9,1026.5 474.4,1028.4 474.4,1028.4 475.9,1026.3 477.4,1024.2 478.9,1022.5 480.4,1021.1 481.9,1019.9 483.4,1018.8 484.9,1017.7 486.4,1016.8 488.0,1016.2 489.5,1015.7 491.0,1015.3 492.5,1015.0 494.0,1014.8 495.5,1014.8 497.0,1015.0 498.5,1015.2 500.0,1015.5 501.5,1015.7 503.0,1016.0 504.6,1016.2 506.1,1016.3 507.6,1016.3 509.1,1016.3 510.6,1016.1 512.1,1015.9 513.6,1015.6 515.1,1015.3 516.6,1015.1 518.1,1014.8 519.6,1014.5 521.2,1014.1 522.7,1013.7 524.2,1013.2 525.7,1012.8 527.2,1012.4 528.7,1012.0 530.2,1011.6 531.7,1011.4 533.2,1011.2 534.7,1011.2 536.2,1011.3 537.8,1011.6 539.3,1011.9 540.8,1012.3 542.3,1012.8 543.8,1013.3 545.3,1013.9 546.8,1014.4 548.3,1015.0 549.8,1015.5 551.3,1016.1 552.9,1016.7 554.4,1017.4 555.9,1018.1 557.4,1018.8 558.9,1019.5 560.4,1020.1 561.9,1020.7 563.4,1021.3 564.9,1021.8 566.4,1022.2 567.9,1022.6 569.5,1023.0 571.0,1023.4 572.5,1023.6 574.0,1023.8 575.5,1023.9 577.0,1023.8 578.5,1023.7 580.0,1023.6 581.5,1023.4 583.0,1023.3 584.5,1023.1 586.1,1023.0 587.6,1022.8 589.1,1022.7 590.6,1022.7 592.1,1022.7 593.6,1022.7 595.1,1022.9 596.6,1023.0 598.1,1023.2 599.6,1023.4 601.1,1023.5 602.7,1023.7 604.2,1023.8 605.7,1023.9 607.2,1023.8 608.7,1023.7 610.2,1023.6 611.7,1023.3 613.2,1023.0 614.7,1022.7 616.2,1022.3 617.7,1021.9 619.3,1021.4 620.8,1021.0 622.3,1020.6 623.8,1020.2 625.3,1019.8 626.8,1019.3 628.3,1018.8 629.8,1018.3 631.3,1017.7 632.8,1017.2 634.4,1016.8 635.9,1016.4 637.4,1016.1 638.9,1015.8 640.4,1015.6 641.9,1015.4 643.4,1015.2 644.9,1015.1 646.4,1015.0 647.9,1014.9 649.4,1014.8 651.0,1014.8 652.5,1014.8 654.0,1014.8 655.5,1014.8 657.0,1014.9 658.5,1015.0" fill="none" stroke="#ff7f00" stroke-width="3.3" stroke-linejoin="round"/>
<polyline points="122.2,994.8 123.7,995.4 125.2,995.9 126.7,996.4 128.2,996.9 129.7,997.4 131.2,997.8 132.7,998.3 134.2,998.7 135.7,999.1 137.2,999.4 138.7,999.4 140.2,999.2 141.7,998.6 143.2,997.7 144.7,996.7 146.2,995.7 147.7,994.7 149.2,993.7 150.7,992.8 152.2,991.7 153.7,990.6 155.2,989.7 156.7,989.1 158.2,988.9 159.7,989.3 161.2,990.1 162.7,991.0 164.2,991.8 165.7,992.6 167.2,993.3 168.7,994.0 170.2,994.5 171.7,994.2 173.2,992.0 174.7,988.3 176.2,983.8 177.7,978.9 179.2,972.7 180.7,964.7 182.2,956.3 183.7,948.6 185.2,942.6 186.6,937.7 188.1,932.7 189.6,926.7 191.1,919.9 192.6,913.2 194.1,907.6 195.6,903.5 197.1,900.2 198.6,897.3 200.1,894.9 201.6,893.0 203.1,891.8 204.6,891.0 206.1,890.2 207.6,889.6 209.1,889.3 210.6,889.2 212.1,889.6 213.6,890.4 215.1,891.4 216.6,892.3 218.1,893.0 219.6,893.3 221.1,892.2 222.6,889.7 224.1,886.2 225.6,881.9 227.1,877.2 228.6,872.3 230.1,866.4 231.6,859.3 233.1,851.4 234.6,843.1 236.1,834.8 237.6,826.8 239.1,818.7 240.6,810.4 242.1,801.9 243.6,793.2 245.1,784.4 246.6,774.1 248.1,763.3 249.6,754.6 251.1,749.4 252.6,745.6 254.1,743.0 255.6,741.2 257.1,739.5 258.6,738.4 260.1,737.8 261.6,737.4 263.1,737.5 264.6,738.1 266.1,739.1 267.6,740.6 269.1,742.6 270.6,744.6 272.1,746.9 273.6,749.6 275.1,753.0 276.6,757.2 278.1,762.2 279.6,767.9 281.1,774.2 282.6,780.9 284.1,787.7 285.6,794.6 287.1,801.4 288.6,808.0 290.1,814.1 291.6,819.7 293.1,825.0 294.6,830.2 296.1,835.5 297.6,841.2 299.1,847.4 300.6,854.5 302.1,863.0 303.6,872.6 305.1,882.6 306.6,892.4 308.1,901.7 309.6,910.8 311.1,920.0 312.6,929.4 314.1,939.4 315.5,950.5 317.0,963.8 318.5,972.6 320.0,980.1 321.5,986.4 323.0,991.3 324.5,995.4 326.0,996.9 327.5,995.0 329.0,991.5 330.5,987.6 332.0,982.9 333.5,977.5 335.0,972.2 336.5,967.6 338.0,964.1 339.5,960.9 341.0,957.9 342.5,955.3 344.0,953.1 345.5,951.5 347.0,950.6 348.5,950.5 350.0,950.8 351.5,951.6 353.0,952.7 354.5,954.3 356.0,956.3 357.5,958.8 359.0,961.5 360.5,964.0 362.0,966.2 363.5,968.2 365.0,970.2 366.5,972.0 368.0,973.7 369.5,975.1 371.0,976.4 372.5,977.6 374.0,978.7 375.5,979.7 377.0,980.3 378.5,980.6 380.0,980.4 381.5,979.9 383.0,979.3 384.5,978.6 386.0,978.0 387.5,977.8 389.0,977.9 390.5,978.3 392.0,978.8 393.5,979.3 395.0,979.9 396.5,980.5 398.0,981.1 399.5,981.7 401.0,982.3 402.5,983.0 404.0,983.7 405.5,984.3 407.0,984.7 408.5,984.9 410.0,984.9 411.5,984.5 413.0,983.9 414.5,983.3 416.0,982.6 417.5,981.9 419.0,981.3 420.5,980.7 422.0,980.1 423.5,979.5 425.0,979.0 426.5,978.5 428.0,978.0 429.5,977.8 431.0,978.0 432.5,978.7 434.0,979.8 435.5,981.1 437.0,982.5 438.5,984.0 440.0,986.0 441.5,988.3 442.9,990.9 444.4,993.5 445.9,996.2 447.4,998.8 448.9,1001.5 450.4,1004.4 451.9,1007.2 453.4,1010.1 454.9,1012.7 456.4,1015.1 457.9,1017.3 459.4,1019.5 460.9,1021.5 462.4,1023.5 463.9,1025.2 465.4,1026.8 465.4,1026.8 467.0,1024.6 468.6,1022.5 470.1,1020.8 471.7,1019.5 473.3,1018.5 474.8,1017.6 476.4,1016.8 478.0,1016.2 479.5,1015.9 481.1,1016.0 482.7,1016.4 484.3,1017.0 485.8,1017.8 487.4,1018.7 489.0,1019.6 490.5,1020.5 492.1,1021.5 493.7,1022.5 495.2,1023.5 496.8,1024.6 498.4,1025.7 499.9,1026.8 499.9,1026.8 501.4,1025.7 503.0,1024.5 504.5,1023.2 506.0,1021.9 507.5,1020.5 509.0,1018.9 510.5,1017.3 512.0,1015.5 513.5,1013.8 515.0,1012.1 516.5,1010.5 518.1,1009.1 519.6,1007.9 521.1,1006.7 522.6,1005.6 524.1,1004.6 525.6,1003.8 527.1,1003.1 528.6,1002.5 530.1,1002.0 531.6,1001.6 533.2,1001.2 534.7,1001.0 536.2,1000.8 537.7,1000.7 539.2,1000.8 540.7,1001.1 542.2,1001.5 543.7,1002.0 545.2,1002.7 546.7,1003.4 548.3,1004.2 549.8,1005.1 551.3,1006.4 552.8,1008.0 554.3,1009.9 555.8,1011.8 557.3,1013.6 558.8,1015.0 560.3,1016.1 561.9,1017.2 563.4,1018.3 564.9,1019.2 566.4,1020.0 567.9,1020.5 569.4,1020.6 570.9,1020.3 572.4,1019.8 573.9,1019.2 575.4,1018.4 577.0,1017.5 578.5,1016.7 580.0,1015.8 581.5,1014.9 583.0,1014.0 584.5,1013.0 586.0,1012.0 587.5,1011.1 589.0,1010.2 590.5,1009.4 592.1,1008.8 593.6,1008.3 595.1,1007.9 596.6,1007.5 598.1,1007.1 599.6,1006.8 601.1,1006.5 602.6,1006.3 604.1,1006.1 605.6,1006.0 607.2,1005.9 608.7,1005.7 610.2,1005.6 611.7,1005.5 613.2,1005.3 614.7,1005.1 616.2,1004.8 617.7,1004.3 619.2,1003.9 620.7,1003.3 622.3,1002.7 623.8,1002.2 625.3,1001.6 626.8,1001.1 628.3,1000.7 629.8,1000.3 631.3,1000.0 632.8,999.6 634.3,999.3 635.8,999.0 637.4,998.8 638.9,998.5 640.4,998.4 641.9,998.3 643.4,998.2 644.9,998.2 646.4,998.4 647.9,998.7 649.4,999.1 650.9,999.6 652.5,1000.2 654.0,1000.8 655.5,1001.4 657.0,1002.1 658.5,1002.7" fill="none" stroke="#008000" stroke-width="3.3" stroke-linejoin="round"/>
</g>
<rect x="122.2" y="584.6" width="536.3" height="443.8" fill="none" stroke="#000" stroke-width="1.7"/>
<text transform="translate(122.2 1063.6) scale(1.03 1)" font-size="30.5" text-anchor="middle" fill="#000" >0</text>
<line x1="211.6" y1="1028.4" x2="211.6" y2="1023.8" stroke="#000" stroke-width="1.6" />
<line x1="301.0" y1="1028.4" x2="301.0" y2="1019.2" stroke="#000" stroke-width="1.6" />
<text transform="translate(301.0 1063.6) scale(1.03 1)" font-size="30.5" text-anchor="middle" fill="#000" >2</text>
<line x1="390.3" y1="1028.4" x2="390.3" y2="1023.8" stroke="#000" stroke-width="1.6" />
<line x1="479.7" y1="1028.4" x2="479.7" y2="1019.2" stroke="#000" stroke-width="1.6" />
<text transform="translate(479.7 1063.6) scale(1.03 1)" font-size="30.5" text-anchor="middle" fill="#000" >4</text>
<line x1="569.1" y1="1028.4" x2="569.1" y2="1023.8" stroke="#000" stroke-width="1.6" />
<text transform="translate(658.5 1063.6) scale(1.03 1)" font-size="30.5" text-anchor="middle" fill="#000" >6</text>
<text transform="translate(112.4 1038.8) scale(1.03 1)" font-size="30.5" text-anchor="end" fill="#000" >0.0</text>
<line x1="122.2" y1="979.0" x2="127.0" y2="979.0" stroke="#000" stroke-width="1.6" />
<line x1="122.2" y1="929.7" x2="131.7" y2="929.7" stroke="#000" stroke-width="1.6" />
<text transform="translate(112.4 940.1) scale(1.03 1)" font-size="30.5" text-anchor="end" fill="#000" >0.5</text>
<line x1="122.2" y1="880.3" x2="127.0" y2="880.3" stroke="#000" stroke-width="1.6" />
<line x1="122.2" y1="830.9" x2="131.7" y2="830.9" stroke="#000" stroke-width="1.6" />
<text transform="translate(112.4 841.3) scale(1.03 1)" font-size="30.5" text-anchor="end" fill="#000" >1.0</text>
<line x1="122.2" y1="781.5" x2="127.0" y2="781.5" stroke="#000" stroke-width="1.6" />
<line x1="122.2" y1="732.2" x2="131.7" y2="732.2" stroke="#000" stroke-width="1.6" />
<text transform="translate(112.4 742.6) scale(1.03 1)" font-size="30.5" text-anchor="end" fill="#000" >1.5</text>
<line x1="122.2" y1="682.8" x2="127.0" y2="682.8" stroke="#000" stroke-width="1.6" />
<line x1="122.2" y1="633.4" x2="131.7" y2="633.4" stroke="#000" stroke-width="1.6" />
<text transform="translate(112.4 643.8) scale(1.03 1)" font-size="30.5" text-anchor="end" fill="#000" >2.0</text>
<text transform="translate(390.9 1103.0) scale(1.03 1)" font-size="33.8" text-anchor="middle" fill="#000" >R (Å)</text>
<text transform="translate(38.2 884.3) rotate(-90) scale(1 1.03)" font-size="31.4">|FT(<tspan font-style="italic" dx="5.3">k</tspan><tspan font-size="20.1" dy="-12.6">2</tspan><tspan dy="12.6" dx="1.5" font-family="DejaVu Sans, sans-serif" font-size="28.9">χ</tspan><tspan>(</tspan><tspan dx="5.7">k)</tspan><tspan dx="3">)</tspan><tspan dx="2.4">|</tspan></text>
<text transform="translate(15.8 603.2) scale(1.0 1)" font-size="43.5" text-anchor="start" fill="#000" >b</text>
<path d="M234.2 753V646.3H296V753" fill="none" stroke="#7f00ff" stroke-width="3.3" stroke-dasharray="8.6 5.7"/>
<line x1="239.4" y1="753.0" x2="288.0" y2="753.0" stroke="#7f00ff" stroke-width="3.3" stroke-dasharray="8.6 5.7"/>
<line x1="296.0" y1="646.3" x2="404.0" y2="781.3" stroke="#7f00ff" stroke-width="3.3" stroke-dasharray="8.6 5.7"/>
<line x1="296.0" y1="753.0" x2="404.0" y2="954.0" stroke="#7f00ff" stroke-width="3.3" stroke-dasharray="8.6 5.7"/>
<rect x="403.8" y="781.2" width="132.9" height="172.9" fill="#fff"/>
<clipPath id="clipBi"><rect x="403.8" y="781.2" width="132.9" height="172.9"/></clipPath>
<g clip-path="url(#clipBi)">
<polyline points="414.0,972.0 414.8,968.4 415.6,964.9 416.5,961.6 417.3,958.6 418.1,955.9 418.9,953.6 419.8,951.6 420.6,949.6 421.4,947.6 422.2,945.8 423.1,944.0 423.9,942.3 424.7,940.6 425.5,939.1 426.4,937.6 427.2,936.3 428.0,935.0 428.8,933.8 429.6,932.6 430.5,931.5 431.3,930.4 432.1,929.3 432.9,928.3 433.8,927.2 434.6,926.2 435.4,925.3 436.2,924.3 437.1,923.5 437.9,922.6 438.7,921.7 439.5,920.8 440.4,920.0 441.2,919.1 442.0,918.3 442.8,917.4 443.6,916.7 444.5,915.9 445.3,915.2 446.1,914.6 446.9,914.0 447.8,913.5 448.6,913.0 449.4,912.5 450.2,912.0 451.1,911.5 451.9,911.1 452.7,910.7 453.5,910.3 454.4,909.9 455.2,909.6 456.0,909.3 456.8,909.0 457.6,908.8 458.5,908.6 459.3,908.5 460.1,908.3 460.9,908.2 461.8,908.0 462.6,907.9 463.4,907.8 464.2,907.8 465.1,907.7 465.9,907.7 466.7,907.8 467.5,907.8 468.4,908.0 469.2,908.2 470.0,908.5 470.8,908.8 471.6,909.2 472.5,909.7 473.3,910.1 474.1,910.6 474.9,911.1 475.8,911.7 476.6,912.4 477.4,913.1 478.2,913.9 479.1,914.8 479.9,915.6 480.7,916.5 481.5,917.4 482.4,918.4 483.2,919.4 484.0,920.5 484.8,921.6 485.6,922.7 486.5,923.8 487.3,925.0 488.1,926.2 488.9,927.4 489.8,928.6 490.6,929.9 491.4,931.2 492.2,932.5 493.1,933.9 493.9,935.2 494.7,936.5 495.5,937.9 496.4,939.2 497.2,940.5 498.0,941.8 498.8,943.2 499.6,944.5 500.5,945.8 501.3,947.2 502.1,948.6 502.9,950.0 503.8,951.4 504.6,952.9 505.4,954.4 506.2,955.9 507.1,957.5 507.9,959.2 508.7,960.9 509.5,962.6 510.4,964.4 511.2,966.2 512.0,968.0" fill="none" stroke="#000" stroke-width="3.1" stroke-linejoin="round"/>
<polyline points="410.0,970.0 411.0,965.1 412.1,960.5 413.1,956.2 414.2,952.3 415.2,948.6 416.3,944.9 417.3,941.4 418.3,938.0 419.4,934.7 420.4,931.5 421.5,928.5 422.5,925.6 423.5,922.9 424.6,920.2 425.6,917.6 426.7,915.0 427.7,912.5 428.8,910.0 429.8,907.5 430.8,905.0 431.9,902.4 432.9,899.8 434.0,897.2 435.0,894.6 436.1,892.0 437.1,889.5 438.1,887.0 439.2,884.6 440.2,882.2 441.3,879.9 442.3,877.5 443.3,875.3 444.4,873.1 445.4,871.0 446.5,869.0 447.5,867.1 448.6,865.4 449.6,863.8 450.6,862.2 451.7,860.7 452.7,859.3 453.8,858.0 454.8,856.7 455.8,855.5 456.9,854.4 457.9,853.3 459.0,852.4 460.0,851.6 461.1,850.9 462.1,850.3 463.1,849.7 464.2,849.2 465.2,848.8 466.3,848.4 467.3,848.1 468.4,847.9 469.4,847.7 470.4,847.5 471.5,847.5 472.5,847.6 473.6,847.8 474.6,848.1 475.6,848.5 476.7,848.9 477.7,849.4 478.8,849.9 479.8,850.4 480.9,851.1 481.9,851.9 482.9,852.8 484.0,853.8 485.0,854.9 486.1,856.0 487.1,857.2 488.2,858.4 489.2,859.8 490.2,861.3 491.3,862.8 492.3,864.5 493.4,866.3 494.4,868.1 495.4,870.0 496.5,871.9 497.5,874.0 498.6,876.2 499.6,878.5 500.7,880.9 501.7,883.3 502.7,885.8 503.8,888.3 504.8,890.8 505.9,893.3 506.9,895.8 507.9,898.3 509.0,900.9 510.0,903.5 511.1,906.1 512.1,908.7 513.2,911.4 514.2,914.1 515.2,916.8 516.3,919.6 517.3,922.4 518.4,925.2 519.4,928.0 520.5,930.8 521.5,933.6 522.5,936.4 523.6,939.2 524.6,942.0 525.7,944.9 526.7,947.8 527.7,950.7 528.8,953.7 529.8,956.8 530.9,959.9 531.9,963.2 533.0,966.6 534.0,970.0" fill="none" stroke="#808000" stroke-width="3.1" stroke-linejoin="round"/>
<polyline points="405.0,972.0 406.2,967.5 407.3,963.0 408.5,958.5 409.6,954.0 410.8,949.5 411.9,944.9 413.1,940.4 414.2,935.9 415.4,931.4 416.5,927.1 417.7,922.7 418.8,918.4 420.0,914.2 421.1,910.1 422.3,906.2 423.4,902.5 424.6,898.9 425.7,895.4 426.9,892.1 428.0,888.8 429.2,885.6 430.3,882.4 431.5,879.4 432.6,876.4 433.8,873.4 434.9,870.4 436.1,867.5 437.2,864.7 438.4,861.9 439.5,859.2 440.7,856.5 441.8,854.0 443.0,851.5 444.1,849.0 445.3,846.7 446.4,844.4 447.6,842.1 448.7,840.0 449.9,837.9 451.1,835.8 452.2,833.7 453.4,831.8 454.5,829.9 455.7,828.2 456.8,826.7 458.0,825.1 459.1,823.6 460.3,822.1 461.4,820.8 462.6,819.7 463.7,818.7 464.9,817.9 466.0,817.1 467.2,816.4 468.3,815.7 469.5,815.1 470.6,814.5 471.8,814.2 472.9,813.9 474.1,813.9 475.2,813.9 476.4,814.1 477.5,814.3 478.7,814.5 479.8,814.9 481.0,815.2 482.1,815.6 483.3,816.1 484.4,816.7 485.6,817.4 486.7,818.2 487.9,819.0 489.0,819.9 490.2,821.0 491.3,822.3 492.5,823.7 493.6,825.4 494.8,827.1 495.9,828.9 497.1,830.7 498.3,832.5 499.4,834.6 500.6,836.7 501.7,839.0 502.9,841.4 504.0,843.8 505.2,846.3 506.3,848.9 507.5,851.6 508.6,854.4 509.8,857.4 510.9,860.4 512.1,863.5 513.2,866.6 514.4,869.8 515.5,873.1 516.7,876.4 517.8,879.8 519.0,883.3 520.1,886.8 521.3,890.4 522.4,894.0 523.6,897.7 524.7,901.5 525.9,905.3 527.0,909.1 528.2,913.0 529.3,916.8 530.5,920.6 531.6,924.4 532.8,928.1 533.9,931.9 535.1,935.7 536.2,939.5 537.4,943.5 538.5,947.5 539.7,951.6 540.8,955.8 542.0,960.0" fill="none" stroke="#7f00ff" stroke-width="3.1" stroke-linejoin="round"/>
<polyline points="417.0,972.0 417.9,968.8 418.8,965.7 419.8,962.7 420.7,959.9 421.6,957.2 422.5,954.8 423.5,952.7 424.4,950.7 425.3,948.7 426.2,946.8 427.2,945.0 428.1,943.2 429.0,941.5 429.9,939.8 430.9,938.2 431.8,936.7 432.7,935.1 433.6,933.7 434.6,932.2 435.5,930.8 436.4,929.4 437.3,927.9 438.3,926.5 439.2,925.0 440.1,923.4 441.0,921.7 442.0,920.1 442.9,918.4 443.8,916.7 444.7,915.1 445.7,913.6 446.6,912.1 447.5,910.6 448.4,909.2 449.4,907.8 450.3,906.5 451.2,905.2 452.1,904.0 453.1,902.9 454.0,901.8 454.9,900.8 455.8,899.8 456.7,898.8 457.7,898.0 458.6,897.1 459.5,896.4 460.4,895.8 461.4,895.3 462.3,894.9 463.2,894.4 464.1,894.0 465.1,893.6 466.0,893.3 466.9,893.0 467.8,892.8 468.8,892.7 469.7,892.7 470.6,892.8 471.5,892.9 472.5,893.1 473.4,893.3 474.3,893.5 475.2,893.9 476.2,894.2 477.1,894.5 478.0,894.9 478.9,895.5 479.9,896.0 480.8,896.7 481.7,897.4 482.6,898.2 483.6,898.9 484.5,899.7 485.4,900.5 486.3,901.4 487.3,902.3 488.2,903.3 489.1,904.3 490.0,905.4 490.9,906.5 491.9,907.6 492.8,908.8 493.7,909.9 494.6,911.1 495.6,912.4 496.5,913.7 497.4,915.0 498.3,916.4 499.3,917.7 500.2,919.1 501.1,920.5 502.0,921.9 503.0,923.4 503.9,924.9 504.8,926.4 505.7,927.9 506.7,929.4 507.6,931.0 508.5,932.5 509.4,934.1 510.4,935.7 511.3,937.3 512.2,938.9 513.1,940.5 514.1,942.1 515.0,943.7 515.9,945.3 516.8,946.9 517.8,948.5 518.7,950.2 519.6,951.9 520.5,953.7 521.5,955.5 522.4,957.4 523.3,959.4 524.2,961.5 525.2,963.6 526.1,965.8 527.0,968.0" fill="none" stroke="#ff7f00" stroke-width="3.1" stroke-linejoin="round"/>
<polyline points="411.0,972.0 411.9,969.0 412.7,966.0 413.6,963.1 414.4,960.4 415.3,957.8 416.1,955.6 417.0,953.6 417.9,951.7 418.7,949.9 419.6,948.1 420.4,946.4 421.3,944.8 422.1,943.2 423.0,941.7 423.9,940.3 424.7,938.9 425.6,937.6 426.4,936.4 427.3,935.2 428.1,934.0 429.0,932.8 429.9,931.6 430.7,930.4 431.6,929.3 432.4,928.2 433.3,927.1 434.1,926.1 435.0,925.1 435.9,924.1 436.7,923.2 437.6,922.3 438.4,921.5 439.3,920.6 440.1,919.8 441.0,918.9 441.9,918.1 442.7,917.4 443.6,916.6 444.4,916.0 445.3,915.3 446.1,914.7 447.0,914.2 447.9,913.7 448.7,913.2 449.6,912.7 450.4,912.2 451.3,911.8 452.1,911.3 453.0,910.9 453.9,910.5 454.7,910.2 455.6,909.9 456.4,909.6 457.3,909.4 458.1,909.3 459.0,909.2 459.9,909.2 460.7,909.2 461.6,909.4 462.4,909.5 463.3,909.8 464.1,910.0 465.0,910.3 465.9,910.6 466.7,911.0 467.6,911.4 468.4,911.8 469.3,912.2 470.1,912.6 471.0,913.0 471.9,913.5 472.7,914.0 473.6,914.6 474.4,915.3 475.3,915.9 476.1,916.6 477.0,917.3 477.9,918.1 478.7,918.9 479.6,919.7 480.4,920.5 481.3,921.3 482.1,922.2 483.0,923.0 483.9,923.9 484.7,924.9 485.6,926.0 486.4,927.1 487.3,928.2 488.1,929.4 489.0,930.6 489.9,931.8 490.7,933.0 491.6,934.4 492.4,935.8 493.3,937.2 494.1,938.6 495.0,940.1 495.9,941.4 496.7,942.8 497.6,944.0 498.4,945.2 499.3,946.3 500.1,947.4 501.0,948.4 501.9,949.5 502.7,950.6 503.6,951.7 504.4,952.9 505.3,954.1 506.1,955.5 507.0,956.9 507.9,958.3 508.7,959.8 509.6,961.4 510.4,963.0 511.3,964.6 512.1,966.3 513.0,968.0" fill="none" stroke="#008000" stroke-width="3.1" stroke-linejoin="round"/>
</g>
<rect x="403.8" y="781.2" width="132.9" height="172.9" fill="none" stroke="#6e6e6e" stroke-width="1.1"/>
<line x1="403.8" y1="843.4" x2="406.8" y2="843.4" stroke="#6e6e6e" stroke-width="1" />
<line x1="403.8" y1="905.1" x2="406.8" y2="905.1" stroke="#6e6e6e" stroke-width="1" />
<line x1="415.1" y1="954.1" x2="415.1" y2="951.1" stroke="#6e6e6e" stroke-width="1" />
<line x1="440.4" y1="954.1" x2="440.4" y2="952.3" stroke="#6e6e6e" stroke-width="1" />
<line x1="466.1" y1="954.1" x2="466.1" y2="951.1" stroke="#6e6e6e" stroke-width="1" />
<line x1="491.0" y1="954.1" x2="491.0" y2="952.3" stroke="#6e6e6e" stroke-width="1" />
<line x1="516.0" y1="954.1" x2="516.0" y2="951.1" stroke="#6e6e6e" stroke-width="1" />
<text transform="translate(415.1 974.2) scale(1.03 1)" font-size="18.5" text-anchor="middle" fill="#000" >1.4</text>
<text transform="translate(466.1 974.2) scale(1.03 1)" font-size="18.5" text-anchor="middle" fill="#000" >1.6</text>
<text transform="translate(516.0 974.2) scale(1.03 1)" font-size="18.5" text-anchor="middle" fill="#000" >1.8</text>
<line x1="410.0" y1="815.2" x2="476.4" y2="815.2" stroke="#ff7f00" stroke-width="2.2" stroke-dasharray="6.5 3.8"/>
<line x1="461.0" y1="892.7" x2="528.9" y2="892.7" stroke="#ff7f00" stroke-width="2.2" stroke-dasharray="6.5 3.8"/>
<line x1="409.1" y1="907.8" x2="472.3" y2="907.8" stroke="#ff7f00" stroke-width="2.2" stroke-dasharray="6.5 3.8"/>
<line x1="461.4" y1="798.0" x2="461.4" y2="920.5" stroke="#ff7f00" stroke-width="2.2" stroke-dasharray="6.5 3.8"/>
<line x1="476.4" y1="797.0" x2="476.4" y2="908.2" stroke="#ff7f00" stroke-width="2.2" stroke-dasharray="6.5 3.8"/>
<line x1="431.2" y1="802.8" x2="462.0" y2="802.8" stroke="#7f00ff" stroke-width="2.2" />
<polygon points="476.2,802.8 460,798.4 460,807.2" fill="#7f00ff"/>
<line x1="421.9" y1="907.1" x2="421.9" y2="830.0" stroke="#7f00ff" stroke-width="2.2" />
<polygon points="421.9,815.6 417.5,831.5 426.3,831.5" fill="#7f00ff"/>
<line x1="525.8" y1="830.0" x2="525.8" y2="876.0" stroke="#7f00ff" stroke-width="2.2" />
<polygon points="525.8,890.7 521.4,874.5 530.2,874.5" fill="#7f00ff"/>
<line x1="461.0" y1="604.8" x2="533.0" y2="604.8" stroke="#000" stroke-width="3.4" />
<text transform="translate(542.8 615.2) scale(1.03 1)" font-size="30.5" text-anchor="start" fill="#000" ><tspan font-style="italic">ex situ</tspan></text>
<line x1="461.0" y1="644.3" x2="533.0" y2="644.3" stroke="#808000" stroke-width="3.4" />
<text transform="translate(543.0 654.7) scale(1.03 1)" font-size="30.5" text-anchor="start" fill="#000" >1.15 V</text>
<line x1="461.0" y1="683.5" x2="533.0" y2="683.5" stroke="#7f00ff" stroke-width="3.4" />
<text transform="translate(543.0 693.9) scale(1.03 1)" font-size="30.5" text-anchor="start" fill="#000" >1.30 V</text>
<line x1="461.0" y1="723.2" x2="533.0" y2="723.2" stroke="#ff7f00" stroke-width="3.4" />
<text transform="translate(543.0 733.6) scale(1.03 1)" font-size="30.5" text-anchor="start" fill="#000" >1.43 V</text>
<line x1="461.0" y1="762.5" x2="533.0" y2="762.5" stroke="#008000" stroke-width="3.4" />
<text transform="translate(550.6 772.9) scale(1.03 1)" font-size="30.5" text-anchor="start" fill="#000" >A. R.</text>
</g>
<g id="panel_c">
<rect x="807.1" y="35.8" width="534.9" height="328.8" fill="none" stroke="#2e2e2e" stroke-width="1.5"/>
<rect x="807.1" y="364.6" width="534.9" height="330.4" fill="none" stroke="#2e2e2e" stroke-width="1.5"/>
<rect x="807.1" y="695.0" width="534.9" height="333.8" fill="none" stroke="#2e2e2e" stroke-width="1.5"/>
<line x1="807.1" y1="101.7" x2="814.6" y2="101.7" stroke="#2e2e2e" stroke-width="1.4" />
<line x1="807.1" y1="167.6" x2="814.6" y2="167.6" stroke="#2e2e2e" stroke-width="1.4" />
<line x1="807.1" y1="233.6" x2="814.6" y2="233.6" stroke="#2e2e2e" stroke-width="1.4" />
<line x1="807.1" y1="299.5" x2="814.6" y2="299.5" stroke="#2e2e2e" stroke-width="1.4" />
<line x1="807.1" y1="68.8" x2="811.3" y2="68.8" stroke="#2e2e2e" stroke-width="1.4" />
<line x1="807.1" y1="134.7" x2="811.3" y2="134.7" stroke="#2e2e2e" stroke-width="1.4" />
<line x1="807.1" y1="200.6" x2="811.3" y2="200.6" stroke="#2e2e2e" stroke-width="1.4" />
<line x1="807.1" y1="266.5" x2="811.3" y2="266.5" stroke="#2e2e2e" stroke-width="1.4" />
<line x1="807.1" y1="332.4" x2="811.3" y2="332.4" stroke="#2e2e2e" stroke-width="1.4" />
<text transform="translate(799.4 46.1) scale(1.02 1)" font-size="30.3" text-anchor="end" fill="#000" >2.0</text>
<text transform="translate(799.4 112.0) scale(1.02 1)" font-size="30.3" text-anchor="end" fill="#000" >1.6</text>
<text transform="translate(799.4 177.9) scale(1.02 1)" font-size="30.3" text-anchor="end" fill="#000" >1.2</text>
<text transform="translate(799.4 243.9) scale(1.02 1)" font-size="30.3" text-anchor="end" fill="#000" >0.8</text>
<text transform="translate(799.4 309.8) scale(1.02 1)" font-size="30.3" text-anchor="end" fill="#000" >0.4</text>
<line x1="807.1" y1="447.5" x2="814.6" y2="447.5" stroke="#2e2e2e" stroke-width="1.4" />
<line x1="807.1" y1="530.6" x2="814.6" y2="530.6" stroke="#2e2e2e" stroke-width="1.4" />
<line x1="807.1" y1="613.7" x2="814.6" y2="613.7" stroke="#2e2e2e" stroke-width="1.4" />
<line x1="807.1" y1="405.9" x2="811.3" y2="405.9" stroke="#2e2e2e" stroke-width="1.4" />
<line x1="807.1" y1="489.0" x2="811.3" y2="489.0" stroke="#2e2e2e" stroke-width="1.4" />
<line x1="807.1" y1="572.1" x2="811.3" y2="572.1" stroke="#2e2e2e" stroke-width="1.4" />
<line x1="807.1" y1="655.2" x2="811.3" y2="655.2" stroke="#2e2e2e" stroke-width="1.4" />
<text transform="translate(799.4 374.9) scale(1.02 1)" font-size="30.3" text-anchor="end" fill="#000" >2.0</text>
<text transform="translate(799.4 457.8) scale(1.02 1)" font-size="30.3" text-anchor="end" fill="#000" >1.5</text>
<text transform="translate(799.4 540.9) scale(1.02 1)" font-size="30.3" text-anchor="end" fill="#000" >1.0</text>
<text transform="translate(799.4 624.0) scale(1.02 1)" font-size="30.3" text-anchor="end" fill="#000" >0.5</text>
<line x1="807.1" y1="778.3" x2="814.6" y2="778.3" stroke="#2e2e2e" stroke-width="1.4" />
<line x1="807.1" y1="861.8" x2="814.6" y2="861.8" stroke="#2e2e2e" stroke-width="1.4" />
<line x1="807.1" y1="945.3" x2="814.6" y2="945.3" stroke="#2e2e2e" stroke-width="1.4" />
<line x1="807.1" y1="736.5" x2="811.3" y2="736.5" stroke="#2e2e2e" stroke-width="1.4" />
<line x1="807.1" y1="820.0" x2="811.3" y2="820.0" stroke="#2e2e2e" stroke-width="1.4" />
<line x1="807.1" y1="903.5" x2="811.3" y2="903.5" stroke="#2e2e2e" stroke-width="1.4" />
<line x1="807.1" y1="987.0" x2="811.3" y2="987.0" stroke="#2e2e2e" stroke-width="1.4" />
<text transform="translate(799.4 705.3) scale(1.02 1)" font-size="30.3" text-anchor="end" fill="#000" >2.0</text>
<text transform="translate(799.4 788.6) scale(1.02 1)" font-size="30.3" text-anchor="end" fill="#000" >1.5</text>
<text transform="translate(799.4 872.1) scale(1.02 1)" font-size="30.3" text-anchor="end" fill="#000" >1.0</text>
<text transform="translate(799.4 955.6) scale(1.02 1)" font-size="30.3" text-anchor="end" fill="#000" >0.5</text>
<text transform="translate(799.4 1039.1) scale(1.02 1)" font-size="30.3" text-anchor="end" fill="#000" >0.0</text>
<line x1="896.3" y1="364.6" x2="896.3" y2="360.4" stroke="#2e2e2e" stroke-width="1.4" />
<line x1="985.5" y1="364.6" x2="985.5" y2="357.1" stroke="#2e2e2e" stroke-width="1.4" />
<line x1="1074.6" y1="364.6" x2="1074.6" y2="360.4" stroke="#2e2e2e" stroke-width="1.4" />
<line x1="1163.7" y1="364.6" x2="1163.7" y2="357.1" stroke="#2e2e2e" stroke-width="1.4" />
<line x1="1252.8" y1="364.6" x2="1252.8" y2="360.4" stroke="#2e2e2e" stroke-width="1.4" />
<line x1="896.3" y1="695.0" x2="896.3" y2="690.8" stroke="#2e2e2e" stroke-width="1.4" />
<line x1="985.5" y1="695.0" x2="985.5" y2="687.5" stroke="#2e2e2e" stroke-width="1.4" />
<line x1="1074.6" y1="695.0" x2="1074.6" y2="690.8" stroke="#2e2e2e" stroke-width="1.4" />
<line x1="1163.7" y1="695.0" x2="1163.7" y2="687.5" stroke="#2e2e2e" stroke-width="1.4" />
<line x1="1252.8" y1="695.0" x2="1252.8" y2="690.8" stroke="#2e2e2e" stroke-width="1.4" />
<line x1="896.3" y1="1028.8" x2="896.3" y2="1024.6" stroke="#2e2e2e" stroke-width="1.4" />
<line x1="985.5" y1="1028.8" x2="985.5" y2="1021.3" stroke="#2e2e2e" stroke-width="1.4" />
<line x1="1074.6" y1="1028.8" x2="1074.6" y2="1024.6" stroke="#2e2e2e" stroke-width="1.4" />
<line x1="1163.7" y1="1028.8" x2="1163.7" y2="1021.3" stroke="#2e2e2e" stroke-width="1.4" />
<line x1="1252.8" y1="1028.8" x2="1252.8" y2="1024.6" stroke="#2e2e2e" stroke-width="1.4" />
<text transform="translate(807.2 1061.4) scale(1.02 1)" font-size="30.3" text-anchor="middle" fill="#000" >0</text>
<text transform="translate(985.5 1061.4) scale(1.02 1)" font-size="30.3" text-anchor="middle" fill="#000" >2</text>
<text transform="translate(1163.7 1061.4) scale(1.02 1)" font-size="30.3" text-anchor="middle" fill="#000" >4</text>
<text transform="translate(1342.0 1061.4) scale(1.02 1)" font-size="30.3" text-anchor="middle" fill="#000" >6</text>
<text transform="translate(1075.5 1106.3) scale(1.03 1)" font-size="33.5" text-anchor="middle" fill="#000" >R (Å)</text>
<text transform="translate(723.6 275.6) rotate(-90) scale(1 1.03)" font-size="31.4">|FT(<tspan  dx="6.6">k</tspan><tspan font-size="20.1" dy="-12.6">2</tspan><tspan dy="12.6" dx="-0.5" font-family="DejaVu Sans, sans-serif" font-size="28.9">χ</tspan><tspan>(</tspan><tspan dx="6.0">k)</tspan><tspan dx="1.0">)</tspan><tspan dx="0.4">|</tspan></text>
<text transform="translate(723.6 606.6) rotate(-90) scale(1 1.03)" font-size="31.4">|FT(<tspan  dx="6.6">k</tspan><tspan font-size="20.1" dy="-12.6">2</tspan><tspan dy="12.6" dx="-0.5" font-family="DejaVu Sans, sans-serif" font-size="28.9">χ</tspan><tspan>(</tspan><tspan dx="6.0">k)</tspan><tspan dx="1.0">)</tspan><tspan dx="0.4">|</tspan></text>
<text transform="translate(723.6 935.6) rotate(-90) scale(1 1.03)" font-size="31.4">|FT(<tspan  dx="6.6">k</tspan><tspan font-size="20.1" dy="-12.6">2</tspan><tspan dy="12.6" dx="-0.5" font-family="DejaVu Sans, sans-serif" font-size="28.9">χ</tspan><tspan>(</tspan><tspan dx="6.0">k)</tspan><tspan dx="1.0">)</tspan><tspan dx="0.4">|</tspan></text>
<text transform="translate(723.4 38.6) scale(1.0 1)" font-size="45" text-anchor="start" fill="#000" font-weight="bold">c</text>
<clipPath id="clipC"><rect x="807.1" y="0" width="534.9" height="1118"/></clipPath>
<g clip-path="url(#clipC)">
<polyline points="807.2,333.3 808.7,334.3 810.2,335.3 811.7,336.5 813.2,337.6 814.7,338.8 816.2,340.0 817.7,341.4 819.2,343.1 820.8,344.9 822.3,346.5 823.8,347.8 825.3,348.5 826.8,348.5 828.3,347.6 829.8,346.1 831.3,344.2 832.8,342.1 834.3,340.0 835.8,338.2 837.3,336.7 838.8,335.1 840.3,333.5 841.8,331.9 843.3,330.5 844.8,329.5 846.4,328.9 847.9,328.9 849.4,329.6 850.9,330.8 852.4,332.2 853.9,333.6 855.4,334.9 856.9,336.5 858.4,338.2 859.9,339.6 861.4,340.5 862.9,339.8 864.4,337.2 865.9,334.3 867.4,331.3 868.9,327.6 870.4,323.2 872.0,318.1 873.5,312.2 875.0,305.9 876.5,299.4 878.0,293.1 879.5,287.3 881.0,281.6 882.5,275.7 884.0,270.0 885.5,264.7 887.0,260.2 888.5,256.7 890.0,253.8 891.5,251.1 893.0,248.7 894.5,246.8 896.0,245.3 897.6,244.4 899.1,243.7 900.6,243.1 902.1,242.6 903.6,242.3 905.1,242.2 906.6,242.1 908.1,241.9 909.6,241.8 911.1,241.5 912.6,241.1 914.1,240.3 915.6,237.6 917.1,233.9 918.6,229.2 920.1,222.6 921.6,215.3 923.2,206.7 924.7,197.6 926.2,189.1 927.7,181.6 929.2,174.0 930.7,166.3 932.2,158.5 933.7,150.7 935.2,143.7 936.7,137.3 938.2,131.6 939.7,126.5 941.2,122.2 942.7,118.7 944.2,116.6 945.7,115.5 947.2,115.7 948.8,116.6 950.3,118.1 951.8,120.5 953.3,124.5 954.8,129.2 956.3,134.7 957.8,141.0 959.3,148.1 960.8,155.9 962.3,165.0 963.8,175.0 965.3,184.6 966.8,194.4 968.3,204.8 969.8,215.5 971.3,226.2 972.8,236.6 974.4,246.3 975.9,255.2 977.4,264.0 978.9,272.4 980.4,278.2 981.9,282.9 983.4,286.9 984.9,291.0 986.4,294.3 987.9,296.2 989.4,297.8 990.9,299.2 992.4,300.5 993.9,301.6 995.4,302.7 996.9,303.6 998.4,304.5 1000.0,305.4 1001.5,306.4 1003.0,307.5 1004.5,308.7 1006.0,310.1 1007.5,311.6 1009.0,313.0 1010.5,314.5 1012.0,315.8 1013.5,317.0 1015.0,318.2 1016.5,319.4 1018.0,320.5 1019.5,321.6 1021.0,322.6 1022.5,323.5 1022.5,323.5 1024.0,321.6 1025.5,319.8 1027.1,318.0 1028.6,316.2 1030.1,314.3 1031.6,312.6 1033.1,311.2 1034.6,309.9 1036.1,308.7 1037.6,307.6 1039.1,306.6 1040.6,306.0 1042.1,305.6 1043.6,305.6 1045.1,306.1 1046.6,307.0 1048.1,308.1 1049.6,309.5 1051.1,310.9 1052.6,312.4 1054.2,314.0 1055.7,315.9 1057.2,317.9 1058.7,320.0 1060.2,321.9 1061.7,323.4 1063.2,324.7 1064.7,325.9 1066.2,327.0 1067.7,327.7 1069.2,328.0 1070.7,327.8 1072.2,327.4 1073.7,327.0 1075.2,326.4 1076.7,325.8 1078.2,325.3 1079.7,324.8 1081.3,324.2 1082.8,323.6 1084.3,323.1 1085.8,322.7 1087.3,322.5 1088.8,322.5 1090.3,322.7 1091.8,323.0 1093.3,323.4 1094.8,324.0 1096.3,324.5 1097.8,325.1 1099.3,325.6 1100.8,326.2 1102.3,326.8 1103.8,327.5 1105.3,328.3 1106.8,329.1 1108.4,329.8 1109.9,330.4 1111.4,330.9 1112.9,331.1 1114.4,331.1 1115.9,330.9 1117.4,330.5 1118.9,330.1 1120.4,329.7 1121.9,329.4 1123.4,329.3 1124.9,329.3 1126.4,329.7 1127.9,330.2 1129.4,331.0 1130.9,331.8 1132.4,332.8 1133.9,333.8 1135.5,334.9 1137.0,336.3 1138.5,337.8 1140.0,339.5 1141.5,341.2 1143.0,342.9 1144.5,344.7 1146.0,346.7 1147.5,348.7 1149.0,350.7 1150.5,352.7 1152.0,354.5 1153.5,356.3 1155.0,357.9 1156.5,359.6 1158.0,361.1 1159.5,362.7 1161.0,364.1 1161.0,364.1 1162.6,362.7 1164.2,361.4 1165.8,360.1 1167.3,359.0 1168.9,358.1 1170.5,357.2 1172.0,356.3 1173.6,355.6 1175.2,355.1 1176.7,355.0 1178.3,355.3 1179.9,355.8 1181.5,356.5 1183.0,357.3 1184.6,358.1 1186.2,358.9 1187.7,359.7 1189.3,360.6 1190.9,361.5 1192.5,362.4 1194.0,363.4 1194.0,363.4 1195.5,362.6 1197.0,361.7 1198.6,360.7 1200.1,359.8 1201.6,358.8 1203.1,357.8 1204.6,356.8 1206.1,355.8 1207.6,354.7 1209.1,353.5 1210.6,352.3 1212.1,351.0 1213.7,349.9 1215.2,348.8 1216.7,348.0 1218.2,347.3 1219.7,346.6 1221.2,346.0 1222.7,345.5 1224.2,345.1 1225.7,344.8 1227.2,344.7 1228.7,344.6 1230.3,344.8 1231.8,345.0 1233.3,345.4 1234.8,345.9 1236.3,346.4 1237.8,347.0 1239.3,347.6 1240.8,348.3 1242.3,349.1 1243.8,350.0 1245.4,351.0 1246.9,352.1 1248.4,353.1 1249.9,354.0 1251.4,354.8 1252.9,355.7 1254.4,356.5 1255.9,357.3 1257.4,358.0 1258.9,358.7 1260.5,359.3 1262.0,359.9 1263.5,360.4 1265.0,360.9 1266.5,361.3 1268.0,361.7 1269.5,362.0 1271.0,362.1 1272.5,362.2 1274.0,362.3 1275.6,362.3 1277.1,362.3 1278.6,362.2 1280.1,362.0 1281.6,361.7 1283.1,361.3 1284.6,360.7 1286.1,360.3 1287.6,360.0 1289.1,359.6 1290.6,359.3 1292.2,358.9 1293.7,358.7 1295.2,358.4 1296.7,358.2 1298.2,358.1 1299.7,358.0 1301.2,358.0 1302.7,358.0 1304.2,358.1 1305.7,358.2 1307.3,358.4 1308.8,358.5 1310.3,358.7 1311.8,358.9 1313.3,359.2 1314.8,359.4 1316.3,359.7 1317.8,360.0 1319.3,360.3 1320.8,360.7 1322.4,361.1 1323.9,361.4 1325.4,361.7 1326.9,361.9 1328.4,362.1 1329.9,362.3 1331.4,362.4 1332.9,362.5 1334.4,362.6 1335.9,362.7 1337.5,362.7 1339.0,362.8 1340.5,362.8 1342.0,362.8" fill="none" stroke="#0000ff" stroke-width="3.4" stroke-linejoin="round"/>
</g>
<g fill="#fff" stroke="#ff0000" stroke-width="1.15"><circle cx="807.2" cy="319.9" r="4.55"/><circle cx="809.7" cy="320.2" r="4.55"/><circle cx="812.3" cy="320.5" r="4.55"/><circle cx="814.8" cy="320.6" r="4.55"/><circle cx="817.3" cy="320.7" r="4.55"/><circle cx="819.9" cy="320.6" r="4.55"/><circle cx="822.4" cy="320.5" r="4.55"/><circle cx="824.9" cy="320.1" r="4.55"/><circle cx="827.4" cy="319.5" r="4.55"/><circle cx="830.0" cy="318.7" r="4.55"/><circle cx="832.5" cy="317.8" r="4.55"/><circle cx="835.0" cy="316.8" r="4.55"/><circle cx="837.6" cy="315.9" r="4.55"/><circle cx="840.1" cy="314.9" r="4.55"/><circle cx="842.6" cy="313.8" r="4.55"/><circle cx="845.2" cy="312.9" r="4.55"/><circle cx="847.7" cy="312.1" r="4.55"/><circle cx="850.2" cy="311.6" r="4.55"/><circle cx="852.7" cy="311.3" r="4.55"/><circle cx="855.3" cy="311.1" r="4.55"/><circle cx="857.8" cy="310.9" r="4.55"/><circle cx="860.3" cy="310.6" r="4.55"/><circle cx="862.9" cy="310.4" r="4.55"/><circle cx="865.4" cy="310.0" r="4.55"/><circle cx="867.9" cy="309.7" r="4.55"/><circle cx="870.5" cy="309.2" r="4.55"/><circle cx="873.0" cy="307.9" r="4.55"/><circle cx="875.5" cy="305.8" r="4.55"/><circle cx="878.0" cy="303.3" r="4.55"/><circle cx="880.6" cy="300.5" r="4.55"/><circle cx="883.1" cy="297.1" r="4.55"/><circle cx="885.6" cy="293.6" r="4.55"/><circle cx="888.2" cy="289.9" r="4.55"/><circle cx="890.7" cy="286.0" r="4.55"/><circle cx="893.2" cy="282.1" r="4.55"/><circle cx="895.8" cy="278.3" r="4.55"/><circle cx="898.3" cy="274.4" r="4.55"/><circle cx="900.8" cy="270.3" r="4.55"/><circle cx="903.3" cy="266.1" r="4.55"/><circle cx="905.9" cy="261.7" r="4.55"/><circle cx="908.4" cy="257.3" r="4.55"/><circle cx="910.9" cy="253.5" r="4.55"/><circle cx="913.5" cy="247.6" r="4.55"/><circle cx="916.0" cy="237.0" r="4.55"/><circle cx="918.5" cy="224.8" r="4.55"/><circle cx="921.1" cy="212.5" r="4.55"/><circle cx="923.6" cy="197.6" r="4.55"/><circle cx="926.1" cy="182.5" r="4.55"/><circle cx="928.6" cy="170.0" r="4.55"/><circle cx="931.2" cy="156.8" r="4.55"/><circle cx="933.7" cy="144.4" r="4.55"/><circle cx="936.2" cy="134.0" r="4.55"/><circle cx="938.8" cy="125.3" r="4.55"/><circle cx="941.3" cy="118.9" r="4.55"/><circle cx="943.8" cy="115.8" r="4.55"/><circle cx="946.4" cy="115.9" r="4.55"/><circle cx="948.9" cy="118.1" r="4.55"/><circle cx="951.4" cy="123.0" r="4.55"/><circle cx="953.9" cy="131.0" r="4.55"/><circle cx="956.5" cy="141.1" r="4.55"/><circle cx="959.0" cy="153.4" r="4.55"/><circle cx="961.5" cy="168.7" r="4.55"/><circle cx="964.1" cy="185.1" r="4.55"/><circle cx="966.6" cy="202.0" r="4.55"/><circle cx="969.1" cy="220.0" r="4.55"/><circle cx="971.7" cy="237.6" r="4.55"/><circle cx="974.2" cy="253.1" r="4.55"/><circle cx="976.7" cy="268.6" r="4.55"/><circle cx="979.2" cy="281.2" r="4.55"/><circle cx="981.8" cy="291.4" r="4.55"/><circle cx="984.3" cy="298.7" r="4.55"/><circle cx="986.8" cy="303.5" r="4.55"/><circle cx="989.4" cy="304.4" r="4.55"/><circle cx="991.9" cy="304.8" r="4.55"/><circle cx="994.4" cy="305.2" r="4.55"/><circle cx="997.0" cy="306.0" r="4.55"/><circle cx="999.5" cy="306.8" r="4.55"/><circle cx="1002.0" cy="307.8" r="4.55"/><circle cx="1004.5" cy="309.5" r="4.55"/><circle cx="1007.1" cy="311.6" r="4.55"/><circle cx="1009.6" cy="314.5" r="4.55"/><circle cx="1012.1" cy="317.8" r="4.55"/><circle cx="1014.7" cy="321.5" r="4.55"/><circle cx="1017.2" cy="325.2" r="4.55"/><circle cx="1019.7" cy="328.8" r="4.55"/><circle cx="1022.2" cy="332.1" r="4.55"/><circle cx="1024.8" cy="334.8" r="4.55"/><circle cx="1027.3" cy="336.7" r="4.55"/><circle cx="1029.8" cy="337.3" r="4.55"/><circle cx="1032.4" cy="337.5" r="4.55"/><circle cx="1034.9" cy="337.6" r="4.55"/><circle cx="1037.4" cy="337.7" r="4.55"/><circle cx="1040.0" cy="338.1" r="4.55"/><circle cx="1042.5" cy="338.7" r="4.55"/><circle cx="1045.0" cy="339.5" r="4.55"/><circle cx="1047.5" cy="340.5" r="4.55"/><circle cx="1050.1" cy="341.9" r="4.55"/><circle cx="1052.6" cy="343.7" r="4.55"/><circle cx="1055.1" cy="345.2" r="4.55"/><circle cx="1057.7" cy="346.5" r="4.55"/><circle cx="1060.2" cy="347.7" r="4.55"/><circle cx="1062.7" cy="348.5" r="4.55"/><circle cx="1065.3" cy="348.7" r="4.55"/><circle cx="1067.8" cy="348.6" r="4.55"/><circle cx="1070.3" cy="348.3" r="4.55"/><circle cx="1072.8" cy="347.9" r="4.55"/><circle cx="1075.4" cy="347.7" r="4.55"/><circle cx="1077.9" cy="347.6" r="4.55"/><circle cx="1080.4" cy="347.9" r="4.55"/><circle cx="1083.0" cy="348.4" r="4.55"/><circle cx="1085.5" cy="349.0" r="4.55"/><circle cx="1088.0" cy="349.7" r="4.55"/><circle cx="1090.6" cy="350.4" r="4.55"/><circle cx="1093.1" cy="351.0" r="4.55"/><circle cx="1095.6" cy="351.6" r="4.55"/><circle cx="1098.2" cy="352.2" r="4.55"/><circle cx="1100.7" cy="352.8" r="4.55"/><circle cx="1103.2" cy="353.3" r="4.55"/><circle cx="1105.7" cy="353.7" r="4.55"/><circle cx="1108.3" cy="353.9" r="4.55"/><circle cx="1110.8" cy="353.5" r="4.55"/><circle cx="1113.3" cy="352.8" r="4.55"/><circle cx="1115.9" cy="352.4" r="4.55"/><circle cx="1118.4" cy="352.6" r="4.55"/><circle cx="1120.9" cy="353.0" r="4.55"/><circle cx="1123.5" cy="353.6" r="4.55"/><circle cx="1126.0" cy="354.3" r="4.55"/><circle cx="1128.5" cy="355.3" r="4.55"/><circle cx="1131.0" cy="356.1" r="4.55"/><circle cx="1133.6" cy="356.4" r="4.55"/><circle cx="1136.1" cy="356.6" r="4.55"/><circle cx="1138.6" cy="356.6" r="4.55"/><circle cx="1141.2" cy="356.6" r="4.55"/><circle cx="1143.7" cy="356.6" r="4.55"/><circle cx="1146.2" cy="356.6" r="4.55"/><circle cx="1148.8" cy="356.6" r="4.55"/><circle cx="1151.3" cy="356.8" r="4.55"/><circle cx="1153.8" cy="357.0" r="4.55"/><circle cx="1156.3" cy="357.2" r="4.55"/><circle cx="1158.9" cy="357.5" r="4.55"/><circle cx="1161.4" cy="357.8" r="4.55"/><circle cx="1163.9" cy="358.0" r="4.55"/><circle cx="1166.5" cy="358.3" r="4.55"/><circle cx="1169.0" cy="358.6" r="4.55"/><circle cx="1171.5" cy="358.8" r="4.55"/><circle cx="1174.0" cy="359.1" r="4.55"/><circle cx="1176.6" cy="359.3" r="4.55"/><circle cx="1179.1" cy="359.6" r="4.55"/><circle cx="1181.6" cy="359.8" r="4.55"/><circle cx="1184.2" cy="360.0" r="4.55"/><circle cx="1186.7" cy="360.2" r="4.55"/><circle cx="1189.2" cy="360.4" r="4.55"/><circle cx="1191.8" cy="360.6" r="4.55"/><circle cx="1194.3" cy="360.8" r="4.55"/><circle cx="1196.8" cy="361.0" r="4.55"/><circle cx="1199.3" cy="361.2" r="4.55"/><circle cx="1201.9" cy="361.3" r="4.55"/><circle cx="1204.4" cy="361.5" r="4.55"/><circle cx="1206.9" cy="361.6" r="4.55"/><circle cx="1209.5" cy="361.8" r="4.55"/><circle cx="1212.0" cy="361.9" r="4.55"/><circle cx="1214.5" cy="362.1" r="4.55"/><circle cx="1217.1" cy="362.2" r="4.55"/><circle cx="1219.6" cy="362.3" r="4.55"/><circle cx="1222.1" cy="362.4" r="4.55"/><circle cx="1224.7" cy="362.6" r="4.55"/><circle cx="1227.2" cy="362.7" r="4.55"/><circle cx="1229.7" cy="362.8" r="4.55"/><circle cx="1232.2" cy="362.9" r="4.55"/><circle cx="1234.8" cy="363.0" r="4.55"/><circle cx="1237.3" cy="363.1" r="4.55"/><circle cx="1239.8" cy="363.2" r="4.55"/><circle cx="1242.4" cy="363.2" r="4.55"/><circle cx="1244.9" cy="363.3" r="4.55"/><circle cx="1247.4" cy="363.4" r="4.55"/><circle cx="1250.0" cy="363.5" r="4.55"/><circle cx="1252.5" cy="363.6" r="4.55"/><circle cx="1255.0" cy="363.7" r="4.55"/><circle cx="1257.5" cy="363.8" r="4.55"/><circle cx="1260.1" cy="363.8" r="4.55"/><circle cx="1262.6" cy="363.9" r="4.55"/><circle cx="1265.1" cy="364.0" r="4.55"/><circle cx="1267.7" cy="364.1" r="4.55"/><circle cx="1270.2" cy="364.1" r="4.55"/><circle cx="1272.7" cy="364.2" r="4.55"/><circle cx="1275.2" cy="364.2" r="4.55"/><circle cx="1277.8" cy="364.3" r="4.55"/><circle cx="1280.3" cy="364.4" r="4.55"/><circle cx="1282.8" cy="364.4" r="4.55"/><circle cx="1285.4" cy="364.5" r="4.55"/><circle cx="1287.9" cy="364.6" r="4.55"/><circle cx="1290.4" cy="364.6" r="4.55"/><circle cx="1293.0" cy="364.7" r="4.55"/><circle cx="1295.5" cy="364.7" r="4.55"/><circle cx="1298.0" cy="364.8" r="4.55"/><circle cx="1300.5" cy="364.8" r="4.55"/><circle cx="1303.1" cy="364.9" r="4.55"/><circle cx="1305.6" cy="364.9" r="4.55"/><circle cx="1308.1" cy="365.0" r="4.55"/><circle cx="1310.7" cy="365.0" r="4.55"/><circle cx="1313.2" cy="365.0" r="4.55"/><circle cx="1315.7" cy="365.1" r="4.55"/></g>
<g clip-path="url(#clipC)">
<polyline points="807.2,681.0 808.7,679.2 810.2,677.4 811.7,675.5 813.2,673.6 814.7,671.7 816.2,669.9 817.7,668.0 819.2,665.9 820.7,663.5 822.2,661.0 823.7,658.5 825.2,656.1 826.7,654.1 828.2,652.6 829.7,651.7 831.2,651.6 832.7,652.3 834.2,653.6 835.7,655.3 837.2,657.2 838.7,659.2 840.2,661.0 841.7,662.6 843.2,664.7 844.7,667.0 846.2,669.4 847.7,671.6 849.2,673.4 850.7,674.5 852.2,674.5 853.7,671.3 855.2,665.4 856.7,658.1 858.2,650.6 859.7,644.2 861.2,639.2 862.7,634.4 864.2,629.6 865.8,624.5 867.3,619.2 868.8,613.1 870.3,605.5 871.8,597.2 873.3,589.4 874.8,583.4 876.3,579.1 877.8,575.4 879.3,572.3 880.8,570.0 882.3,568.3 883.8,566.6 885.3,565.1 886.8,564.2 888.3,564.2 889.8,565.0 891.3,566.2 892.8,567.7 894.3,569.4 895.8,571.1 897.3,572.7 898.8,574.8 900.3,577.2 901.8,579.8 903.3,582.4 904.8,584.8 906.3,586.7 907.8,588.0 909.3,587.9 910.8,585.6 912.3,581.6 913.8,576.2 915.3,570.0 916.8,563.4 918.3,556.7 919.8,550.4 921.3,543.8 922.8,536.1 924.3,527.4 925.8,517.9 927.3,507.1 928.8,494.2 930.3,480.6 931.8,467.7 933.3,456.0 934.8,444.8 936.3,435.2 937.8,427.3 939.3,420.3 940.8,414.1 942.3,408.7 943.8,403.7 945.3,399.0 946.8,395.2 948.3,391.8 949.8,389.2 951.3,387.5 952.8,386.8 954.3,387.5 955.8,389.0 957.3,391.0 958.8,394.0 960.3,397.6 961.8,401.7 963.3,406.6 964.8,412.2 966.3,418.0 967.8,424.4 969.3,431.6 970.8,439.8 972.3,449.8 973.8,461.4 975.3,472.9 976.8,484.7 978.3,496.6 979.8,508.0 981.4,518.6 982.9,528.3 984.4,537.5 985.9,546.2 987.4,554.6 988.9,562.8 990.4,570.7 991.9,578.5 993.4,586.1 994.9,593.8 996.4,601.2 997.9,608.0 999.4,613.9 1000.9,619.0 1002.4,623.6 1003.9,627.8 1005.4,631.6 1006.9,635.2 1008.4,638.8 1009.9,642.7 1011.4,647.1 1012.9,651.9 1014.4,657.1 1015.9,662.4 1017.4,668.0 1018.9,674.0 1018.9,674.0 1020.4,667.1 1021.9,660.4 1023.4,654.2 1024.9,648.4 1026.4,642.6 1027.9,637.1 1029.4,632.0 1030.9,627.6 1032.5,624.2 1034.0,621.1 1035.5,618.5 1037.0,616.7 1038.5,615.4 1040.0,614.5 1041.5,614.0 1043.0,614.3 1044.5,615.1 1046.0,616.3 1047.5,617.7 1049.0,619.7 1050.5,622.1 1052.1,624.9 1053.6,627.8 1055.1,630.7 1056.6,633.7 1058.1,637.0 1059.6,640.1 1061.1,643.1 1062.6,645.8 1064.1,648.5 1065.6,651.0 1067.1,653.1 1068.6,654.7 1070.1,655.9 1071.7,656.9 1073.2,657.6 1074.7,657.7 1076.2,657.6 1077.7,657.4 1079.2,657.3 1080.7,657.1 1082.2,656.9 1083.7,656.7 1085.2,656.6 1086.7,656.5 1088.2,656.4 1089.7,656.4 1091.3,656.3 1092.8,656.2 1094.3,656.1 1095.8,656.0 1097.3,656.0 1098.8,655.9 1100.3,655.9 1101.8,655.8 1103.3,655.8 1104.8,655.8 1106.3,655.8 1107.8,655.9 1109.3,655.9 1110.9,656.0 1112.4,656.3 1113.9,656.9 1115.4,657.6 1116.9,658.5 1118.4,659.5 1119.9,660.6 1121.4,662.0 1122.9,663.7 1124.4,665.4 1125.9,667.3 1127.4,669.1 1128.9,670.9 1130.5,672.7 1132.0,674.5 1133.5,676.4 1135.0,678.3 1136.5,680.1 1138.0,681.8 1139.5,683.5 1141.0,685.3 1142.5,686.9 1144.0,688.1 1145.5,688.5 1147.0,687.9 1148.5,686.6 1150.1,684.9 1151.6,683.3 1153.1,682.2 1154.6,681.3 1156.1,680.5 1157.6,679.7 1159.1,679.2 1160.6,678.9 1162.1,678.9 1163.6,679.3 1165.1,680.1 1166.6,681.2 1168.1,682.4 1169.7,683.7 1171.2,685.3 1172.7,687.5 1174.2,689.7 1175.7,691.6 1177.2,693.2 1178.7,694.7 1180.2,696.0 1180.2,696.0 1181.7,694.2 1183.2,692.3 1184.7,690.3 1186.3,688.1 1187.8,685.7 1189.3,683.1 1190.8,680.5 1192.3,678.1 1193.8,676.2 1195.3,674.5 1196.8,672.9 1198.4,671.6 1199.9,670.6 1201.4,669.9 1202.9,669.3 1204.4,668.8 1205.9,668.6 1207.4,668.6 1208.9,668.8 1210.4,669.2 1212.0,669.8 1213.5,670.6 1215.0,671.4 1216.5,672.5 1218.0,674.1 1219.5,675.9 1221.0,677.8 1222.5,679.7 1224.1,681.6 1225.6,683.7 1227.1,685.7 1228.6,687.5 1230.1,688.8 1231.6,689.8 1233.1,690.5 1234.6,690.7 1236.1,690.3 1237.7,689.5 1239.2,688.5 1240.7,687.3 1242.2,686.0 1243.7,684.4 1245.2,682.6 1246.7,681.0 1248.2,679.8 1249.8,678.9 1251.3,678.1 1252.8,677.3 1254.3,676.8 1255.8,676.4 1257.3,676.2 1258.8,676.2 1260.3,676.5 1261.9,676.8 1263.4,677.3 1264.9,677.9 1266.4,678.5 1267.9,679.2 1269.4,680.1 1270.9,681.2 1272.4,682.3 1273.9,683.4 1275.5,684.4 1277.0,685.4 1278.5,686.2 1280.0,687.0 1281.5,687.8 1283.0,688.6 1284.5,689.3 1286.0,689.9 1287.6,690.3 1289.1,690.6 1290.6,690.6 1292.1,690.5 1293.6,690.2 1295.1,689.8 1296.6,689.3 1298.1,688.7 1299.6,688.1 1301.2,687.6 1302.7,687.0 1304.2,686.3 1305.7,685.6 1307.2,684.8 1308.7,684.2 1310.2,683.6 1311.7,683.2 1313.3,682.8 1314.8,682.5 1316.3,682.2 1317.8,681.9 1319.3,681.7 1320.8,681.5 1322.3,681.3 1323.8,681.2 1325.3,681.1 1326.9,681.0 1328.4,681.0 1329.9,681.0 1331.4,681.0 1332.9,681.0 1334.4,681.0 1335.9,681.1 1337.4,681.2 1339.0,681.3 1340.5,681.4 1342.0,681.5" fill="none" stroke="#0000ff" stroke-width="3.4" stroke-linejoin="round"/>
</g>
<g fill="#fff" stroke="#ff0000" stroke-width="1.15"><circle cx="807.2" cy="646.1" r="4.55"/><circle cx="810.3" cy="646.6" r="4.55"/><circle cx="813.4" cy="647.0" r="4.55"/><circle cx="816.4" cy="647.2" r="4.55"/><circle cx="819.5" cy="647.2" r="4.55"/><circle cx="822.6" cy="646.9" r="4.55"/><circle cx="825.7" cy="646.3" r="4.55"/><circle cx="828.7" cy="645.3" r="4.55"/><circle cx="831.8" cy="643.7" r="4.55"/><circle cx="834.9" cy="641.9" r="4.55"/><circle cx="838.0" cy="640.1" r="4.55"/><circle cx="841.1" cy="638.1" r="4.55"/><circle cx="844.1" cy="636.5" r="4.55"/><circle cx="847.2" cy="634.9" r="4.55"/><circle cx="850.3" cy="633.7" r="4.55"/><circle cx="853.4" cy="633.3" r="4.55"/><circle cx="856.4" cy="633.7" r="4.55"/><circle cx="859.5" cy="634.4" r="4.55"/><circle cx="862.6" cy="635.2" r="4.55"/><circle cx="865.7" cy="635.9" r="4.55"/><circle cx="868.8" cy="636.7" r="4.55"/><circle cx="871.8" cy="637.3" r="4.55"/><circle cx="874.9" cy="636.1" r="4.55"/><circle cx="878.0" cy="633.1" r="4.55"/><circle cx="881.1" cy="628.1" r="4.55"/><circle cx="884.2" cy="621.9" r="4.55"/><circle cx="887.2" cy="615.6" r="4.55"/><circle cx="890.3" cy="609.7" r="4.55"/><circle cx="893.4" cy="604.3" r="4.55"/><circle cx="896.5" cy="599.5" r="4.55"/><circle cx="899.5" cy="595.3" r="4.55"/><circle cx="902.6" cy="591.5" r="4.55"/><circle cx="905.7" cy="587.6" r="4.55"/><circle cx="908.8" cy="583.5" r="4.55"/><circle cx="911.9" cy="579.0" r="4.55"/><circle cx="914.9" cy="572.4" r="4.55"/><circle cx="918.0" cy="563.5" r="4.55"/><circle cx="921.1" cy="551.6" r="4.55"/><circle cx="924.2" cy="536.7" r="4.55"/><circle cx="927.2" cy="518.2" r="4.55"/><circle cx="930.3" cy="498.1" r="4.55"/><circle cx="933.4" cy="478.8" r="4.55"/><circle cx="936.5" cy="457.2" r="4.55"/><circle cx="939.6" cy="438.8" r="4.55"/><circle cx="942.6" cy="421.2" r="4.55"/><circle cx="945.7" cy="407.3" r="4.55"/><circle cx="948.8" cy="396.7" r="4.55"/><circle cx="951.9" cy="389.0" r="4.55"/><circle cx="954.9" cy="386.3" r="4.55"/><circle cx="958.0" cy="387.0" r="4.55"/><circle cx="961.1" cy="391.4" r="4.55"/><circle cx="964.2" cy="401.4" r="4.55"/><circle cx="967.3" cy="414.9" r="4.55"/><circle cx="970.3" cy="431.4" r="4.55"/><circle cx="973.4" cy="451.4" r="4.55"/><circle cx="976.5" cy="474.5" r="4.55"/><circle cx="979.6" cy="499.8" r="4.55"/><circle cx="982.6" cy="525.2" r="4.55"/><circle cx="985.7" cy="548.3" r="4.55"/><circle cx="988.8" cy="573.7" r="4.55"/><circle cx="991.9" cy="595.5" r="4.55"/><circle cx="995.0" cy="614.5" r="4.55"/><circle cx="998.0" cy="630.8" r="4.55"/><circle cx="1001.1" cy="638.0" r="4.55"/><circle cx="1004.2" cy="640.5" r="4.55"/><circle cx="1007.3" cy="637.8" r="4.55"/><circle cx="1010.3" cy="633.8" r="4.55"/><circle cx="1013.4" cy="630.2" r="4.55"/><circle cx="1015.8" cy="631.6" r="4.55"/><circle cx="1016.6" cy="632.8" r="4.55"/><circle cx="1017.5" cy="634.9" r="4.55"/><circle cx="1018.3" cy="638.7" r="4.55"/><circle cx="1019.2" cy="644.1" r="4.55"/><circle cx="1020.0" cy="650.7" r="4.55"/><circle cx="1020.9" cy="656.1" r="4.55"/><circle cx="1021.7" cy="660.5" r="4.55"/><circle cx="1022.6" cy="664.1" r="4.55"/><circle cx="1023.4" cy="667.0" r="4.55"/><circle cx="1024.3" cy="668.7" r="4.55"/><circle cx="1025.7" cy="670.7" r="4.55"/><circle cx="1028.8" cy="671.8" r="4.55"/><circle cx="1031.9" cy="670.1" r="4.55"/><circle cx="1035.0" cy="668.1" r="4.55"/><circle cx="1038.0" cy="666.2" r="4.55"/><circle cx="1041.1" cy="664.5" r="4.55"/><circle cx="1044.2" cy="664.6" r="4.55"/><circle cx="1047.3" cy="666.0" r="4.55"/><circle cx="1050.4" cy="668.2" r="4.55"/><circle cx="1053.4" cy="671.5" r="4.55"/><circle cx="1056.5" cy="675.2" r="4.55"/><circle cx="1059.6" cy="678.1" r="4.55"/><circle cx="1062.7" cy="680.7" r="4.55"/><circle cx="1065.8" cy="683.0" r="4.55"/><circle cx="1068.8" cy="682.0" r="4.55"/><circle cx="1071.9" cy="680.0" r="4.55"/><circle cx="1075.0" cy="678.2" r="4.55"/><circle cx="1078.1" cy="676.4" r="4.55"/><circle cx="1081.1" cy="675.5" r="4.55"/><circle cx="1084.2" cy="676.0" r="4.55"/><circle cx="1087.3" cy="677.2" r="4.55"/><circle cx="1090.4" cy="678.7" r="4.55"/><circle cx="1093.5" cy="680.2" r="4.55"/><circle cx="1096.5" cy="681.4" r="4.55"/><circle cx="1099.6" cy="682.5" r="4.55"/><circle cx="1102.7" cy="683.4" r="4.55"/><circle cx="1105.8" cy="683.7" r="4.55"/><circle cx="1108.8" cy="683.3" r="4.55"/><circle cx="1111.9" cy="682.5" r="4.55"/><circle cx="1115.0" cy="681.8" r="4.55"/><circle cx="1118.1" cy="681.3" r="4.55"/><circle cx="1121.2" cy="681.5" r="4.55"/><circle cx="1124.2" cy="682.3" r="4.55"/><circle cx="1127.3" cy="683.4" r="4.55"/><circle cx="1130.4" cy="684.4" r="4.55"/><circle cx="1133.5" cy="685.2" r="4.55"/><circle cx="1136.5" cy="685.5" r="4.55"/><circle cx="1139.6" cy="685.5" r="4.55"/><circle cx="1142.7" cy="685.4" r="4.55"/><circle cx="1145.8" cy="685.3" r="4.55"/><circle cx="1148.9" cy="685.1" r="4.55"/><circle cx="1151.9" cy="685.1" r="4.55"/><circle cx="1155.0" cy="685.4" r="4.55"/><circle cx="1158.1" cy="685.8" r="4.55"/><circle cx="1161.2" cy="686.3" r="4.55"/><circle cx="1164.2" cy="686.9" r="4.55"/><circle cx="1167.3" cy="687.5" r="4.55"/><circle cx="1170.4" cy="688.1" r="4.55"/><circle cx="1173.5" cy="688.5" r="4.55"/><circle cx="1176.6" cy="688.8" r="4.55"/><circle cx="1179.6" cy="688.8" r="4.55"/><circle cx="1182.7" cy="688.8" r="4.55"/><circle cx="1185.8" cy="688.7" r="4.55"/><circle cx="1188.9" cy="688.6" r="4.55"/><circle cx="1192.0" cy="688.5" r="4.55"/><circle cx="1195.0" cy="688.5" r="4.55"/><circle cx="1198.1" cy="688.6" r="4.55"/><circle cx="1201.2" cy="689.0" r="4.55"/><circle cx="1204.3" cy="689.6" r="4.55"/><circle cx="1207.3" cy="690.2" r="4.55"/><circle cx="1210.4" cy="690.9" r="4.55"/><circle cx="1213.5" cy="691.4" r="4.55"/><circle cx="1216.6" cy="691.9" r="4.55"/><circle cx="1219.7" cy="692.0" r="4.55"/><circle cx="1222.7" cy="692.1" r="4.55"/><circle cx="1225.8" cy="692.1" r="4.55"/><circle cx="1228.9" cy="692.0" r="4.55"/><circle cx="1232.0" cy="691.9" r="4.55"/><circle cx="1235.0" cy="691.9" r="4.55"/><circle cx="1238.1" cy="691.9" r="4.55"/><circle cx="1241.2" cy="692.0" r="4.55"/><circle cx="1244.3" cy="692.1" r="4.55"/><circle cx="1247.4" cy="692.3" r="4.55"/><circle cx="1250.4" cy="692.5" r="4.55"/><circle cx="1253.5" cy="692.7" r="4.55"/><circle cx="1256.6" cy="692.9" r="4.55"/><circle cx="1259.7" cy="693.1" r="4.55"/><circle cx="1262.7" cy="693.3" r="4.55"/><circle cx="1265.8" cy="693.5" r="4.55"/><circle cx="1268.9" cy="693.7" r="4.55"/><circle cx="1272.0" cy="693.9" r="4.55"/><circle cx="1275.1" cy="694.0" r="4.55"/><circle cx="1278.1" cy="694.1" r="4.55"/><circle cx="1281.2" cy="694.2" r="4.55"/><circle cx="1284.3" cy="694.2" r="4.55"/><circle cx="1287.4" cy="694.3" r="4.55"/><circle cx="1290.4" cy="694.4" r="4.55"/><circle cx="1293.5" cy="694.5" r="4.55"/><circle cx="1296.6" cy="694.5" r="4.55"/><circle cx="1299.7" cy="694.6" r="4.55"/><circle cx="1302.8" cy="694.6" r="4.55"/><circle cx="1305.8" cy="694.6" r="4.55"/><circle cx="1308.9" cy="694.6" r="4.55"/><circle cx="1312.0" cy="694.6" r="4.55"/><circle cx="1315.1" cy="694.6" r="4.55"/></g>
<g clip-path="url(#clipC)">
<polyline points="811.7,657.7 813.1,657.9 814.6,658.0 816.1,658.1 817.6,658.2 819.1,658.3 820.6,658.4 822.1,658.4 823.6,658.4 825.1,658.3 826.6,658.3 828.0,658.2 829.5,658.0 831.0,657.8 832.5,657.6 834.0,657.3 835.5,656.9 837.0,656.5 838.5,656.0 840.0,655.5 841.4,655.0 842.9,654.5 844.4,654.0 845.9,653.5 847.4,652.9 848.9,652.2 850.4,651.6 851.9,651.0 853.4,650.4 854.9,649.9 856.3,649.5 857.8,649.2 859.3,649.0 860.8,648.9 862.3,648.8 863.8,648.8 865.3,648.9 866.8,648.9 868.3,648.9 869.8,648.9 871.2,648.8 872.7,648.7 874.2,648.4 875.7,648.0 877.2,647.4 878.7,646.8 880.2,646.0 881.7,645.1 883.2,643.9 884.7,642.5 886.1,641.0 887.6,639.4 889.1,637.9 890.6,636.4 892.1,634.8 893.6,633.1 895.1,631.2 896.6,629.1 898.1,626.6 899.5,623.5 901.0,619.6 902.5,615.2 904.0,610.5 905.5,605.8 907.0,601.4 908.5,597.3 910.0,593.4 911.5,589.4 913.0,585.2 914.4,580.6 915.9,575.3 917.4,568.6 918.9,561.0 920.4,552.9 921.9,544.0 923.4,534.8 924.9,525.8 926.4,517.7 927.9,509.8 929.3,502.1 930.8,494.8 932.3,487.9 933.8,481.3 935.3,474.8 936.8,468.6 938.3,463.1 939.8,458.4 941.3,454.2 942.7,450.6 944.2,447.6 945.7,445.3 947.2,443.2 948.7,441.7 950.2,441.4 951.7,442.5 953.2,444.6 954.7,447.3 956.2,450.2 957.6,454.2 959.1,459.1 960.6,464.6 962.1,471.0 963.6,478.4 965.1,486.4 966.6,494.6 968.1,503.1 969.6,512.1 971.1,521.6 972.5,531.7 974.0,542.3 975.5,553.0 977.0,563.2 978.5,573.3 980.0,583.1 981.5,592.2 983.0,600.7 984.5,608.7 985.9,615.7 987.4,621.3 988.9,626.3 990.4,630.6 991.9,634.1 993.4,637.1 994.9,640.1 996.4,642.6 997.9,644.7 999.4,646.2 1000.8,647.5 1002.3,648.6 1003.8,649.6 1005.3,650.7 1006.8,652.0 1008.3,653.2 1009.8,654.5 1011.3,656.0 1012.8,657.8 1014.3,660.8 1015.7,666.1 1017.2,669.1 1018.7,670.8 1020.2,672.1 1021.7,673.0 1023.2,673.5 1024.7,673.7 1026.2,673.8 1027.7,673.8 1029.1,673.8 1030.6,673.7 1032.1,673.7 1033.6,673.6 1035.1,673.7 1036.6,673.8 1038.1,674.0 1039.6,674.4 1041.1,674.9 1042.6,675.6 1044.0,676.3 1045.5,677.0 1047.0,677.8 1048.5,678.5 1050.0,679.2 1051.5,679.9 1053.0,680.5 1054.5,681.1 1056.0,681.7 1057.5,682.3 1058.9,682.7 1060.4,683.0 1061.9,683.0 1063.4,683.0 1064.9,682.8 1066.4,682.6 1067.9,682.4 1069.4,682.2 1070.9,682.0 1072.3,681.9 1073.8,682.0 1075.3,682.1 1076.8,682.3 1078.3,682.6 1079.8,682.8 1081.3,683.1 1082.8,683.3 1084.3,683.6 1085.8,683.8 1087.2,684.1 1088.7,684.3 1090.2,684.5 1091.7,684.7 1093.2,684.9 1094.7,685.1 1096.2,685.2 1097.7,685.3 1099.2,685.5 1100.7,685.6 1102.1,685.7 1103.6,685.9 1105.1,686.0 1106.6,686.2 1108.1,686.4 1109.6,686.5 1111.1,686.7 1112.6,687.0 1114.1,687.2 1115.5,687.4 1117.0,687.7 1118.5,687.9 1120.0,688.1 1121.5,688.3 1123.0,688.5 1124.5,688.6 1126.0,688.8 1127.5,688.9 1129.0,689.1 1130.4,689.2 1131.9,689.4 1133.4,689.5 1134.9,689.6 1136.4,689.8 1137.9,689.9 1139.4,690.0 1140.9,690.1 1142.4,690.2 1143.9,690.4 1145.3,690.5 1146.8,690.6 1148.3,690.7 1149.8,690.8 1151.3,690.9 1152.8,691.0 1154.3,691.1 1155.8,691.2 1157.3,691.3 1158.8,691.4 1160.2,691.4 1161.7,691.5 1163.2,691.6 1164.7,691.7 1166.2,691.8 1167.7,691.9 1169.2,692.0 1170.7,692.0 1172.2,692.1 1173.6,692.2 1175.1,692.3 1176.6,692.3 1178.1,692.4 1179.6,692.5 1181.1,692.6 1182.6,692.6 1184.1,692.7 1185.6,692.8 1187.1,692.8 1188.5,692.9 1190.0,692.9 1191.5,693.0 1193.0,693.0 1194.5,693.1 1196.0,693.1 1197.5,693.2 1199.0,693.2 1200.5,693.3 1202.0,693.3 1203.4,693.3 1204.9,693.4 1206.4,693.4 1207.9,693.5 1209.4,693.5 1210.9,693.6 1212.4,693.6 1213.9,693.7 1215.4,693.7 1216.8,693.8 1218.3,693.8 1219.8,693.8 1221.3,693.9 1222.8,693.9 1224.3,694.0 1225.8,694.0 1227.3,694.0 1228.8,694.1 1230.3,694.1 1231.7,694.1 1233.2,694.2 1234.7,694.2 1236.2,694.3 1237.7,694.3 1239.2,694.3 1240.7,694.4 1242.2,694.4 1243.7,694.4 1245.2,694.4 1246.6,694.5 1248.1,694.5 1249.6,694.5 1251.1,694.5 1252.6,694.6 1254.1,694.6 1255.6,694.6 1257.1,694.6 1258.6,694.6 1260.0,694.7 1261.5,694.7 1263.0,694.7 1264.5,694.7 1266.0,694.7 1267.5,694.7 1269.0,694.8 1270.5,694.8 1272.0,694.8 1273.5,694.8 1274.9,694.8 1276.4,694.9 1277.9,694.9 1279.4,694.9 1280.9,694.9 1282.4,694.9 1283.9,694.9 1285.4,695.0 1286.9,695.0 1288.4,695.0 1289.8,695.0 1291.3,695.0 1292.8,695.0 1294.3,695.0 1295.8,695.1 1297.3,695.1 1298.8,695.1 1300.3,695.1 1301.8,695.1 1303.2,695.1 1304.7,695.1 1306.2,695.2 1307.7,695.2 1309.2,695.2 1310.7,695.2 1312.2,695.2 1313.7,695.2 1315.2,695.2 1316.7,695.2 1318.1,695.2 1319.6,695.2 1321.1,695.3 1322.6,695.3 1324.1,695.3 1325.6,695.3 1327.1,695.3 1328.6,695.3 1330.1,695.3 1331.6,695.3 1333.0,695.3 1334.5,695.3 1336.0,695.3 1337.5,695.3 1339.0,695.3 1340.5,695.3 1342.0,695.3" fill="none" stroke="#7f00ff" stroke-width="3.4" stroke-linejoin="round"/>
<polyline points="807.2,689.5 808.7,689.1 810.2,688.8 811.7,688.5 813.2,688.2 814.7,687.9 816.2,687.6 817.7,687.4 819.2,687.2 820.7,687.1 822.2,687.0 823.8,687.0 825.3,687.1 826.8,687.2 828.3,687.4 829.8,687.7 831.3,688.0 832.8,688.3 834.3,688.6 835.8,688.8 837.3,689.1 838.8,689.3 840.3,689.4 841.8,689.5 843.3,689.4 844.8,689.2 846.3,688.9 847.8,688.5 849.3,687.9 850.8,687.3 852.3,686.7 853.8,686.0 855.3,685.4 856.9,684.8 858.4,684.3 859.9,683.8 861.4,683.5 862.9,683.3 864.4,683.3 865.9,683.6 867.4,684.0 868.9,684.6 870.4,685.3 871.9,686.0 873.4,686.7 874.9,687.3 876.4,687.9 877.9,688.3 879.4,688.6 880.9,688.7 882.4,688.4 883.9,688.0 885.4,687.3 886.9,686.5 888.4,685.5 890.0,684.4 891.5,683.2 893.0,682.0 894.5,680.8 896.0,679.7 897.5,678.6 899.0,677.7 900.5,676.9 902.0,676.2 903.5,675.8 905.0,675.8 906.5,676.2 908.0,676.7 909.5,677.3 911.0,678.0 912.5,678.5 914.0,678.9 915.5,679.0 917.0,678.6 918.5,677.4 920.0,675.6 921.5,673.3 923.1,670.7 924.6,667.8 926.1,664.2 927.6,660.2 929.1,655.9 930.6,651.7 932.1,647.6 933.6,643.6 935.1,639.5 936.6,635.4 938.1,631.5 939.6,627.9 941.1,624.6 942.6,621.3 944.1,618.2 945.6,615.5 947.1,613.3 948.6,611.8 950.1,610.7 951.6,609.8 953.1,609.0 954.7,608.6 956.2,608.4 957.7,608.6 959.2,609.1 960.7,610.0 962.2,611.1 963.7,612.3 965.2,614.4 966.7,617.3 968.2,620.9 969.7,624.8 971.2,628.9 972.7,633.0 974.2,637.7 975.7,642.7 977.2,647.9 978.7,652.9 980.2,657.5 981.7,662.1 983.2,666.6 984.7,671.0 986.2,675.1 987.8,678.7 989.3,682.0 990.8,685.1 992.3,688.0 993.8,690.6 995.3,692.8 996.8,694.5 996.8,694.5 998.4,691.2 1000.0,688.2 1001.6,685.6 1003.2,683.8 1004.8,682.4 1006.4,681.1 1008.0,680.0 1009.6,679.1 1011.2,678.6 1012.8,678.5 1014.3,678.9 1015.9,679.5 1017.5,680.2 1019.1,681.1 1020.7,682.2 1022.3,683.3 1023.9,684.6 1025.5,686.1 1027.1,687.7 1028.7,689.2 1030.3,690.6 1031.9,691.8 1033.5,693.1 1035.1,694.2 1036.7,695.3 1036.7,695.3 1038.3,694.0 1039.9,692.7 1041.4,691.5 1043.0,690.5 1044.6,689.7 1046.2,689.0 1047.8,688.4 1049.3,687.8 1050.9,687.5 1052.5,687.3 1054.1,687.4 1055.6,687.7 1057.2,688.1 1058.8,688.6 1060.4,689.2 1062.0,689.8 1063.5,690.4 1065.1,691.0 1066.7,691.6 1068.3,692.3 1069.9,693.0 1071.4,693.8 1073.0,694.5 1074.6,695.3 1074.6,695.3 1076.2,694.5 1077.8,693.8 1079.4,693.1 1081.0,692.5 1082.6,692.0 1084.2,691.7 1085.8,691.4 1087.4,691.1 1089.0,690.9 1090.6,690.7 1092.2,690.6 1093.8,690.6 1095.3,690.7 1096.9,691.0 1098.5,691.3 1100.1,691.7 1101.7,692.1 1103.3,692.5 1104.9,692.9 1106.5,693.3 1108.1,693.8 1109.7,694.3 1111.3,694.8 1112.9,695.3 1112.9,695.3 1114.4,695.0 1115.9,694.8 1117.4,694.5 1118.9,694.3 1120.4,694.1 1121.9,694.0 1123.4,693.8 1124.9,693.7 1126.4,693.6 1127.9,693.5 1129.4,693.5 1130.9,693.4 1132.4,693.4 1133.9,693.5 1135.4,693.5 1136.9,693.7 1138.4,693.9 1139.9,694.1 1141.4,694.4 1142.9,694.6 1144.4,694.7 1145.9,694.8 1147.4,694.8 1148.8,694.9 1150.3,694.9 1151.8,695.0 1153.3,695.0 1154.8,695.0 1156.3,695.1 1157.8,695.1 1159.3,695.1 1160.8,695.1 1162.3,695.1 1163.8,695.1 1165.3,695.1 1166.8,695.1 1168.3,695.1 1169.8,695.2 1171.3,695.2 1172.8,695.2 1174.3,695.2 1175.8,695.2 1177.3,695.2 1178.8,695.2 1180.3,695.2 1181.8,695.2 1183.3,695.2 1184.8,695.2 1186.3,695.2 1187.8,695.2 1189.3,695.2 1190.8,695.2 1192.3,695.2 1193.8,695.2 1195.3,695.2 1196.8,695.2 1198.3,695.2 1199.8,695.2 1201.2,695.2 1202.7,695.2 1204.2,695.2 1205.7,695.2 1207.2,695.2 1208.7,695.2 1210.2,695.2 1211.7,695.3 1213.2,695.3 1214.7,695.3 1216.2,695.3 1217.7,695.3 1219.2,695.3 1220.7,695.3 1222.2,695.3 1223.7,695.3 1225.2,695.3 1226.7,695.3 1228.2,695.3 1229.7,695.3 1231.2,695.3 1232.7,695.3 1234.2,695.3 1235.7,695.3 1237.2,695.3 1238.7,695.3 1240.2,695.3 1241.7,695.3 1243.2,695.3 1244.7,695.3 1246.2,695.3 1247.7,695.3 1249.2,695.3 1250.7,695.3 1252.2,695.3 1253.6,695.3 1255.1,695.3 1256.6,695.3 1258.1,695.3 1259.6,695.3 1261.1,695.3 1262.6,695.3 1264.1,695.3 1265.6,695.3 1267.1,695.3 1268.6,695.3 1270.1,695.3 1271.6,695.3 1273.1,695.3 1274.6,695.3 1276.1,695.3 1277.6,695.3 1279.1,695.3 1280.6,695.3 1282.1,695.3 1283.6,695.3 1285.1,695.3 1286.6,695.3 1288.1,695.3 1289.6,695.3 1291.1,695.3 1292.6,695.3 1294.1,695.3 1295.6,695.3 1297.1,695.3 1298.6,695.3 1300.1,695.3 1301.6,695.3 1303.1,695.3 1304.6,695.3 1306.0,695.3 1307.5,695.3 1309.0,695.3 1310.5,695.3 1312.0,695.3 1313.5,695.3 1315.0,695.3 1316.5,695.3 1318.0,695.3 1319.5,695.3 1321.0,695.3 1322.5,695.3 1324.0,695.3 1325.5,695.3 1327.0,695.3 1328.5,695.3 1330.0,695.3 1331.5,695.3 1333.0,695.3 1334.5,695.3 1336.0,695.3 1337.5,695.3 1339.0,695.3 1340.5,695.3 1342.0,695.3" fill="none" stroke="#ff7f00" stroke-width="3.4" stroke-linejoin="round"/>
<polyline points="807.2,996.7 808.8,996.4 810.4,996.1 812.0,996.0 813.6,995.9 815.2,996.0 816.8,996.1 818.4,996.3 820.0,996.6 821.6,997.0 823.1,997.4 824.7,998.0 826.3,998.7 827.9,999.6 829.5,1000.9 831.1,1002.3 832.7,1003.9 834.3,1005.6 835.9,1007.4 837.5,1009.3 837.5,1009.3 839.1,1007.3 840.6,1005.3 842.2,1003.4 843.7,1001.6 845.3,999.8 846.8,998.1 848.4,996.2 849.9,994.2 851.5,992.2 853.1,990.5 854.6,989.2 856.2,988.5 857.7,988.5 859.3,989.3 860.8,990.7 862.4,992.3 864.0,994.0 865.5,995.5 867.1,997.0 868.6,998.6 870.2,1000.3 871.7,1002.1 871.7,1002.1 873.2,1001.4 874.8,999.3 876.3,996.2 877.8,991.8 879.3,985.7 880.8,978.6 882.3,971.2 883.8,964.3 885.4,957.4 886.9,950.4 888.4,943.6 889.9,937.2 891.4,931.1 892.9,925.1 894.4,919.6 896.0,915.1 897.5,911.8 899.0,908.8 900.5,906.2 902.0,904.2 903.5,902.9 905.0,902.1 906.6,901.6 908.1,901.7 909.6,902.2 911.1,902.9 912.6,903.5 914.1,903.9 915.6,903.3 917.2,901.7 918.7,899.2 920.2,896.4 921.7,890.7 923.2,883.9 924.7,876.3 926.2,868.4 927.8,860.5 929.3,852.4 930.8,844.2 932.3,836.2 933.8,828.3 935.3,820.5 936.8,813.1 938.4,806.2 939.9,799.6 941.4,793.4 942.9,788.0 944.4,783.2 945.9,778.9 947.4,776.0 949.0,774.4 950.5,773.4 952.0,773.5 953.5,774.5 955.0,776.1 956.5,778.6 958.0,782.5 959.6,787.0 961.1,791.8 962.6,797.0 964.1,802.7 965.6,808.7 967.1,815.0 968.6,821.3 970.2,828.2 971.7,835.3 973.2,842.2 974.7,848.9 976.2,855.1 977.7,861.2 979.2,867.1 980.8,873.0 982.3,878.8 983.8,884.4 985.3,890.0 986.8,895.6 988.3,901.4 989.8,907.3 991.4,913.2 992.9,919.3 994.4,925.7 995.9,932.6 997.4,940.1 998.9,948.7 1000.4,957.9 1002.0,967.2 1003.5,976.1 1005.0,985.0 1006.5,993.8 1008.0,1001.6 1009.5,1008.3 1011.0,1014.0 1012.6,1018.3 1012.6,1018.3 1014.1,1016.4 1015.6,1013.0 1017.1,1008.6 1018.6,1002.4 1020.1,995.0 1021.6,987.5 1023.1,980.9 1024.6,975.4 1026.1,970.2 1027.6,965.4 1029.1,961.6 1030.6,959.0 1032.2,956.7 1033.7,954.6 1035.2,953.0 1036.7,952.0 1038.2,951.9 1039.7,952.7 1041.2,954.0 1042.7,955.8 1044.2,957.8 1045.7,960.1 1047.2,962.6 1048.7,965.4 1050.2,968.5 1051.7,971.8 1053.3,975.0 1054.8,978.0 1056.3,980.8 1057.8,983.6 1059.3,986.2 1060.8,988.3 1062.3,989.6 1063.8,990.6 1065.3,991.3 1066.8,991.4 1068.3,991.1 1069.8,990.6 1071.3,990.1 1072.9,989.5 1074.4,988.9 1075.9,988.4 1077.4,988.0 1078.9,987.7 1080.4,987.5 1081.9,987.7 1083.4,988.0 1084.9,988.5 1086.4,989.0 1087.9,989.5 1089.4,990.0 1090.9,990.3 1092.5,990.4 1094.0,990.3 1095.5,989.9 1097.0,989.3 1098.5,988.5 1100.0,987.6 1101.5,986.7 1103.0,985.7 1104.5,984.7 1106.0,983.8 1107.5,982.9 1109.0,981.9 1110.5,980.9 1112.0,979.9 1113.6,978.9 1115.1,977.9 1116.6,977.1 1118.1,976.4 1119.6,976.2 1121.1,976.7 1122.6,977.8 1124.1,979.3 1125.6,981.5 1127.1,984.8 1128.6,988.4 1130.1,991.9 1131.6,995.0 1133.2,998.0 1134.7,1001.1 1136.2,1004.1 1137.7,1007.1 1139.2,1010.1 1140.7,1013.2 1142.2,1016.5 1143.7,1019.6 1145.2,1022.3 1146.7,1024.2 1148.2,1025.7 1149.7,1026.9 1151.2,1027.5 1151.2,1027.5 1152.7,1026.6 1154.2,1025.8 1155.7,1025.0 1157.2,1024.4 1158.8,1023.9 1160.3,1023.6 1161.8,1023.4 1163.3,1023.2 1164.8,1023.0 1166.3,1022.9 1167.8,1022.7 1169.3,1022.6 1170.8,1022.4 1172.3,1022.2 1173.8,1021.9 1175.3,1021.6 1176.8,1021.4 1178.3,1021.1 1179.8,1020.7 1181.3,1020.4 1182.8,1020.1 1184.3,1019.7 1185.8,1019.3 1187.3,1018.9 1188.8,1018.2 1190.3,1017.5 1191.8,1016.8 1193.3,1016.0 1194.8,1015.1 1196.3,1014.4 1197.8,1013.7 1199.3,1013.1 1200.8,1012.7 1202.3,1012.5 1203.8,1012.4 1205.3,1012.6 1206.8,1012.8 1208.3,1013.1 1209.8,1013.4 1211.3,1013.9 1212.8,1014.4 1214.3,1014.9 1215.8,1015.4 1217.3,1015.9 1218.8,1016.5 1220.3,1017.0 1221.8,1017.4 1223.3,1017.8 1224.8,1018.2 1226.3,1018.5 1227.8,1018.7 1229.3,1019.0 1230.8,1019.2 1232.3,1019.5 1233.8,1019.8 1235.3,1020.0 1236.8,1020.2 1238.4,1020.4 1239.9,1020.6 1241.4,1020.8 1242.9,1020.9 1244.4,1021.1 1245.9,1021.1 1247.4,1021.2 1248.9,1021.3 1250.4,1021.4 1251.9,1021.4 1253.4,1021.5 1254.9,1021.6 1256.4,1021.6 1257.9,1021.7 1259.4,1021.8 1260.9,1021.8 1262.4,1021.9 1263.9,1021.9 1265.4,1022.0 1266.9,1022.0 1268.4,1022.1 1269.9,1022.1 1271.4,1022.2 1272.9,1022.2 1274.4,1022.2 1275.9,1022.3 1277.4,1022.3 1278.9,1022.4 1280.4,1022.4 1281.9,1022.4 1283.4,1022.4 1284.9,1022.4 1286.4,1022.5 1287.9,1022.4 1289.4,1022.4 1290.9,1022.4 1292.4,1022.4 1293.9,1022.3 1295.4,1022.3 1296.9,1022.1 1298.4,1021.8 1299.9,1021.4 1301.4,1021.0 1302.9,1020.4 1304.4,1019.9 1305.9,1019.2 1307.4,1018.6 1308.9,1018.0 1310.4,1017.4 1311.9,1016.9 1313.4,1016.5 1314.9,1016.1 1316.4,1015.7 1317.9,1015.4 1319.5,1015.0 1321.0,1014.7 1322.5,1014.4 1324.0,1014.1 1325.5,1013.9 1327.0,1013.7 1328.5,1013.5 1330.0,1013.4 1331.5,1013.5 1333.0,1013.6 1334.5,1013.9 1336.0,1014.3 1337.5,1014.8 1339.0,1015.3 1340.5,1015.8 1342.0,1016.3" fill="none" stroke="#0000ff" stroke-width="3.4" stroke-linejoin="round"/>
</g>
<g fill="#fff" stroke="#ff0000" stroke-width="1.15"><circle cx="807.2" cy="990.7" r="4.55"/><circle cx="809.9" cy="990.1" r="4.55"/><circle cx="812.6" cy="989.5" r="4.55"/><circle cx="815.3" cy="989.0" r="4.55"/><circle cx="818.1" cy="988.4" r="4.55"/><circle cx="820.8" cy="987.9" r="4.55"/><circle cx="823.5" cy="987.5" r="4.55"/><circle cx="826.2" cy="987.0" r="4.55"/><circle cx="828.9" cy="986.6" r="4.55"/><circle cx="831.6" cy="986.4" r="4.55"/><circle cx="834.3" cy="986.4" r="4.55"/><circle cx="837.1" cy="986.4" r="4.55"/><circle cx="839.8" cy="986.2" r="4.55"/><circle cx="842.5" cy="985.7" r="4.55"/><circle cx="845.2" cy="984.7" r="4.55"/><circle cx="847.9" cy="983.5" r="4.55"/><circle cx="850.6" cy="982.2" r="4.55"/><circle cx="853.3" cy="981.0" r="4.55"/><circle cx="856.1" cy="979.6" r="4.55"/><circle cx="858.8" cy="978.4" r="4.55"/><circle cx="861.5" cy="977.6" r="4.55"/><circle cx="864.2" cy="977.3" r="4.55"/><circle cx="866.9" cy="977.5" r="4.55"/><circle cx="869.6" cy="977.8" r="4.55"/><circle cx="872.4" cy="978.0" r="4.55"/><circle cx="875.1" cy="977.9" r="4.55"/><circle cx="877.8" cy="977.2" r="4.55"/><circle cx="880.5" cy="976.0" r="4.55"/><circle cx="883.2" cy="973.4" r="4.55"/><circle cx="885.9" cy="969.4" r="4.55"/><circle cx="888.6" cy="965.8" r="4.55"/><circle cx="891.4" cy="962.3" r="4.55"/><circle cx="894.1" cy="959.2" r="4.55"/><circle cx="896.8" cy="956.5" r="4.55"/><circle cx="899.5" cy="953.8" r="4.55"/><circle cx="902.2" cy="950.8" r="4.55"/><circle cx="904.9" cy="947.4" r="4.55"/><circle cx="907.6" cy="943.4" r="4.55"/><circle cx="910.4" cy="938.5" r="4.55"/><circle cx="913.1" cy="933.1" r="4.55"/><circle cx="915.8" cy="927.2" r="4.55"/><circle cx="918.5" cy="920.2" r="4.55"/><circle cx="921.2" cy="911.1" r="4.55"/><circle cx="923.9" cy="900.2" r="4.55"/><circle cx="926.6" cy="887.5" r="4.55"/><circle cx="929.4" cy="872.8" r="4.55"/><circle cx="932.1" cy="860.8" r="4.55"/><circle cx="934.8" cy="845.0" r="4.55"/><circle cx="937.5" cy="829.5" r="4.55"/><circle cx="940.2" cy="815.2" r="4.55"/><circle cx="942.9" cy="803.1" r="4.55"/><circle cx="945.6" cy="792.6" r="4.55"/><circle cx="948.4" cy="785.9" r="4.55"/><circle cx="951.1" cy="782.0" r="4.55"/><circle cx="953.8" cy="779.7" r="4.55"/><circle cx="956.5" cy="779.6" r="4.55"/><circle cx="959.2" cy="784.0" r="4.55"/><circle cx="961.9" cy="791.2" r="4.55"/><circle cx="964.7" cy="800.9" r="4.55"/><circle cx="967.4" cy="813.4" r="4.55"/><circle cx="970.1" cy="827.9" r="4.55"/><circle cx="972.8" cy="844.2" r="4.55"/><circle cx="975.5" cy="861.7" r="4.55"/><circle cx="978.2" cy="879.5" r="4.55"/><circle cx="980.9" cy="896.3" r="4.55"/><circle cx="983.7" cy="914.2" r="4.55"/><circle cx="986.4" cy="930.9" r="4.55"/><circle cx="989.1" cy="945.2" r="4.55"/><circle cx="991.8" cy="957.9" r="4.55"/><circle cx="994.5" cy="968.1" r="4.55"/><circle cx="997.2" cy="973.9" r="4.55"/><circle cx="999.9" cy="975.3" r="4.55"/><circle cx="1002.7" cy="976.1" r="4.55"/><circle cx="1005.4" cy="976.4" r="4.55"/><circle cx="1008.1" cy="976.4" r="4.55"/><circle cx="1010.8" cy="976.9" r="4.55"/><circle cx="1013.5" cy="978.6" r="4.55"/><circle cx="1016.2" cy="980.7" r="4.55"/><circle cx="1018.9" cy="983.7" r="4.55"/><circle cx="1020.2" cy="985.3" r="4.55"/><circle cx="1021.5" cy="988.3" r="4.55"/><circle cx="1022.8" cy="993.3" r="4.55"/><circle cx="1024.1" cy="1000.9" r="4.55"/><circle cx="1025.4" cy="1003.0" r="4.55"/><circle cx="1027.1" cy="1003.2" r="4.55"/><circle cx="1029.8" cy="1003.0" r="4.55"/><circle cx="1032.5" cy="1002.7" r="4.55"/><circle cx="1035.2" cy="1002.5" r="4.55"/><circle cx="1037.9" cy="1002.6" r="4.55"/><circle cx="1040.7" cy="1002.8" r="4.55"/><circle cx="1043.4" cy="1003.2" r="4.55"/><circle cx="1046.1" cy="1004.6" r="4.55"/><circle cx="1048.8" cy="1006.6" r="4.55"/><circle cx="1051.5" cy="1008.4" r="4.55"/><circle cx="1054.2" cy="1010.4" r="4.55"/><circle cx="1057.0" cy="1012.0" r="4.55"/><circle cx="1059.7" cy="1012.6" r="4.55"/><circle cx="1062.4" cy="1012.4" r="4.55"/><circle cx="1065.1" cy="1011.8" r="4.55"/><circle cx="1067.8" cy="1011.2" r="4.55"/><circle cx="1070.5" cy="1010.7" r="4.55"/><circle cx="1073.2" cy="1010.7" r="4.55"/><circle cx="1076.0" cy="1011.3" r="4.55"/><circle cx="1078.7" cy="1012.0" r="4.55"/><circle cx="1081.4" cy="1012.7" r="4.55"/><circle cx="1084.1" cy="1013.5" r="4.55"/><circle cx="1086.8" cy="1014.5" r="4.55"/><circle cx="1089.5" cy="1015.5" r="4.55"/><circle cx="1092.2" cy="1016.4" r="4.55"/><circle cx="1095.0" cy="1016.8" r="4.55"/><circle cx="1097.7" cy="1016.7" r="4.55"/><circle cx="1100.4" cy="1016.4" r="4.55"/><circle cx="1103.1" cy="1016.1" r="4.55"/><circle cx="1105.8" cy="1015.8" r="4.55"/><circle cx="1108.5" cy="1015.6" r="4.55"/><circle cx="1111.2" cy="1015.4" r="4.55"/><circle cx="1114.0" cy="1015.6" r="4.55"/><circle cx="1116.7" cy="1016.3" r="4.55"/><circle cx="1119.4" cy="1017.2" r="4.55"/><circle cx="1122.1" cy="1018.0" r="4.55"/><circle cx="1124.8" cy="1018.3" r="4.55"/><circle cx="1127.5" cy="1018.5" r="4.55"/><circle cx="1130.2" cy="1018.6" r="4.55"/><circle cx="1133.0" cy="1018.7" r="4.55"/><circle cx="1135.7" cy="1018.8" r="4.55"/><circle cx="1138.4" cy="1018.8" r="4.55"/><circle cx="1141.1" cy="1018.9" r="4.55"/><circle cx="1143.8" cy="1019.0" r="4.55"/><circle cx="1146.5" cy="1019.1" r="4.55"/><circle cx="1149.3" cy="1019.2" r="4.55"/><circle cx="1152.0" cy="1019.4" r="4.55"/><circle cx="1154.7" cy="1019.6" r="4.55"/><circle cx="1157.4" cy="1019.8" r="4.55"/><circle cx="1160.1" cy="1020.0" r="4.55"/><circle cx="1162.8" cy="1020.3" r="4.55"/><circle cx="1165.5" cy="1020.5" r="4.55"/><circle cx="1168.3" cy="1020.7" r="4.55"/><circle cx="1171.0" cy="1021.0" r="4.55"/><circle cx="1173.7" cy="1021.2" r="4.55"/><circle cx="1176.4" cy="1021.4" r="4.55"/><circle cx="1179.1" cy="1021.6" r="4.55"/><circle cx="1181.8" cy="1021.8" r="4.55"/><circle cx="1184.5" cy="1022.0" r="4.55"/><circle cx="1187.3" cy="1022.2" r="4.55"/><circle cx="1190.0" cy="1022.4" r="4.55"/><circle cx="1192.7" cy="1022.5" r="4.55"/><circle cx="1195.4" cy="1022.7" r="4.55"/><circle cx="1198.1" cy="1022.8" r="4.55"/><circle cx="1200.8" cy="1022.9" r="4.55"/><circle cx="1203.5" cy="1023.1" r="4.55"/><circle cx="1206.3" cy="1023.2" r="4.55"/><circle cx="1209.0" cy="1023.3" r="4.55"/><circle cx="1211.7" cy="1023.4" r="4.55"/><circle cx="1214.4" cy="1023.6" r="4.55"/><circle cx="1217.1" cy="1023.7" r="4.55"/><circle cx="1219.8" cy="1023.8" r="4.55"/><circle cx="1222.5" cy="1023.9" r="4.55"/><circle cx="1225.3" cy="1024.1" r="4.55"/><circle cx="1228.0" cy="1024.2" r="4.55"/><circle cx="1230.7" cy="1024.4" r="4.55"/><circle cx="1233.4" cy="1024.5" r="4.55"/><circle cx="1236.1" cy="1024.7" r="4.55"/><circle cx="1238.8" cy="1024.8" r="4.55"/><circle cx="1241.6" cy="1025.0" r="4.55"/><circle cx="1244.3" cy="1025.2" r="4.55"/><circle cx="1247.0" cy="1025.3" r="4.55"/><circle cx="1249.7" cy="1025.5" r="4.55"/><circle cx="1252.4" cy="1025.6" r="4.55"/><circle cx="1255.1" cy="1025.8" r="4.55"/><circle cx="1257.8" cy="1025.9" r="4.55"/><circle cx="1260.6" cy="1026.0" r="4.55"/><circle cx="1263.3" cy="1026.1" r="4.55"/><circle cx="1266.0" cy="1026.2" r="4.55"/><circle cx="1268.7" cy="1026.2" r="4.55"/><circle cx="1271.4" cy="1026.3" r="4.55"/><circle cx="1274.1" cy="1026.4" r="4.55"/><circle cx="1276.8" cy="1026.4" r="4.55"/><circle cx="1279.6" cy="1026.4" r="4.55"/><circle cx="1282.3" cy="1026.5" r="4.55"/><circle cx="1285.0" cy="1026.5" r="4.55"/><circle cx="1287.7" cy="1026.5" r="4.55"/><circle cx="1290.4" cy="1026.6" r="4.55"/><circle cx="1293.1" cy="1026.6" r="4.55"/><circle cx="1295.8" cy="1026.7" r="4.55"/><circle cx="1298.6" cy="1026.7" r="4.55"/><circle cx="1301.3" cy="1026.8" r="4.55"/><circle cx="1304.0" cy="1026.8" r="4.55"/><circle cx="1306.7" cy="1026.9" r="4.55"/><circle cx="1309.4" cy="1027.0" r="4.55"/><circle cx="1312.1" cy="1027.0" r="4.55"/><circle cx="1314.8" cy="1027.1" r="4.55"/><circle cx="1317.6" cy="1027.2" r="4.55"/><circle cx="1320.3" cy="1027.3" r="4.55"/><circle cx="1323.0" cy="1027.4" r="4.55"/><circle cx="1325.7" cy="1027.4" r="4.55"/><circle cx="1328.4" cy="1027.5" r="4.55"/><circle cx="1331.1" cy="1027.6" r="4.55"/><circle cx="1333.9" cy="1027.7" r="4.55"/><circle cx="1336.6" cy="1027.8" r="4.55"/><circle cx="1339.3" cy="1027.9" r="4.55"/><circle cx="1342.0" cy="1028.0" r="4.55"/></g>
<g clip-path="url(#clipC)">
<polyline points="807.2,997.1 808.7,997.2 810.2,997.4 811.7,997.5 813.2,997.6 814.6,997.7 816.1,997.8 817.6,997.8 819.1,997.8 820.6,997.8 822.1,997.8 823.6,997.7 825.1,997.6 826.6,997.5 828.1,997.4 829.5,997.2 831.0,997.0 832.5,996.8 834.0,996.5 835.5,996.2 837.0,995.8 838.5,995.4 840.0,994.8 841.5,994.1 843.0,993.4 844.4,992.7 845.9,992.0 847.4,991.4 848.9,990.8 850.4,990.2 851.9,989.6 853.4,989.0 854.9,988.6 856.4,988.2 857.8,988.1 859.3,988.1 860.8,988.3 862.3,988.6 863.8,989.0 865.3,989.4 866.8,989.8 868.3,990.0 869.8,990.2 871.3,990.4 872.7,990.4 874.2,990.4 875.7,990.3 877.2,989.8 878.7,989.0 880.2,987.8 881.7,986.5 883.2,985.2 884.7,983.6 886.2,981.7 887.6,979.6 889.1,977.4 890.6,975.2 892.1,973.1 893.6,971.4 895.1,969.8 896.6,968.2 898.1,966.8 899.6,965.3 901.0,963.9 902.5,962.5 904.0,961.0 905.5,959.6 907.0,958.2 908.5,956.7 910.0,955.1 911.5,952.9 913.0,949.9 914.5,946.4 915.9,942.2 917.4,935.8 918.9,928.1 920.4,919.0 921.9,909.5 923.4,900.4 924.9,892.2 926.4,884.3 927.9,876.7 929.4,869.4 930.8,862.6 932.3,856.0 933.8,849.6 935.3,843.6 936.8,838.1 938.3,833.3 939.8,828.7 941.3,824.6 942.8,821.1 944.2,818.6 945.7,816.6 947.2,815.0 948.7,813.9 950.2,813.5 951.7,814.1 953.2,815.7 954.7,817.9 956.2,820.5 957.7,823.6 959.1,828.2 960.6,834.1 962.1,840.5 963.6,847.2 965.1,854.6 966.6,862.5 968.1,870.3 969.6,878.2 971.1,886.4 972.5,895.1 974.0,904.7 975.5,915.6 977.0,926.7 978.5,936.8 980.0,946.4 981.5,955.5 983.0,963.4 984.5,969.9 986.0,975.8 987.4,980.7 988.9,984.8 990.4,988.8 991.9,991.4 993.4,991.6 994.9,991.0 996.4,990.3 997.9,989.5 999.4,988.7 1000.9,987.7 1002.3,986.7 1003.8,985.9 1005.3,985.3 1006.8,985.5 1008.3,986.4 1009.8,987.8 1011.3,989.5 1012.8,991.5 1014.3,994.5 1015.7,997.9 1017.2,1001.1 1018.7,1003.7 1020.2,1005.9 1021.7,1007.7 1023.2,1009.2 1024.7,1010.2 1026.2,1011.2 1027.7,1011.9 1029.2,1012.1 1030.6,1011.8 1032.1,1011.1 1033.6,1010.3 1035.1,1009.4 1036.6,1008.5 1038.1,1007.8 1039.6,1007.5 1041.1,1007.5 1042.6,1007.7 1044.1,1008.1 1045.5,1008.6 1047.0,1009.3 1048.5,1010.0 1050.0,1010.7 1051.5,1011.6 1053.0,1012.6 1054.5,1013.7 1056.0,1014.9 1057.5,1015.9 1058.9,1016.9 1060.4,1017.6 1061.9,1018.3 1063.4,1018.8 1064.9,1019.2 1066.4,1019.3 1067.9,1019.1 1069.4,1018.7 1070.9,1018.1 1072.4,1017.4 1073.8,1016.6 1075.3,1016.0 1076.8,1015.4 1078.3,1015.0 1079.8,1014.9 1081.3,1015.1 1082.8,1015.3 1084.3,1015.6 1085.8,1016.0 1087.3,1016.4 1088.7,1016.9 1090.2,1017.4 1091.7,1017.8 1093.2,1018.3 1094.7,1018.7 1096.2,1019.3 1097.7,1019.8 1099.2,1020.4 1100.7,1020.8 1102.1,1021.1 1103.6,1021.3 1105.1,1021.3 1106.6,1021.1 1108.1,1020.8 1109.6,1020.4 1111.1,1020.1 1112.6,1019.7 1114.1,1019.5 1115.6,1019.3 1117.0,1019.3 1118.5,1019.4 1120.0,1019.5 1121.5,1019.7 1123.0,1019.8 1124.5,1020.0 1126.0,1020.2 1127.5,1020.4 1129.0,1020.6 1130.5,1020.8 1131.9,1021.1 1133.4,1021.3 1134.9,1021.5 1136.4,1021.7 1137.9,1021.9 1139.4,1022.1 1140.9,1022.2 1142.4,1022.4 1143.9,1022.5 1145.3,1022.6 1146.8,1022.7 1148.3,1022.8 1149.8,1022.9 1151.3,1023.0 1152.8,1023.1 1154.3,1023.2 1155.8,1023.3 1157.3,1023.3 1158.8,1023.4 1160.2,1023.5 1161.7,1023.6 1163.2,1023.6 1164.7,1023.7 1166.2,1023.7 1167.7,1023.8 1169.2,1023.8 1170.7,1023.9 1172.2,1023.9 1173.7,1023.9 1175.1,1023.9 1176.6,1024.0 1178.1,1024.0 1179.6,1024.0 1181.1,1024.0 1182.6,1024.0 1184.1,1024.0 1185.6,1024.1 1187.1,1024.1 1188.5,1024.1 1190.0,1024.1 1191.5,1024.2 1193.0,1024.2 1194.5,1024.3 1196.0,1024.3 1197.5,1024.4 1199.0,1024.5 1200.5,1024.6 1202.0,1024.7 1203.4,1024.7 1204.9,1024.8 1206.4,1024.9 1207.9,1025.0 1209.4,1025.2 1210.9,1025.3 1212.4,1025.4 1213.9,1025.5 1215.4,1025.6 1216.9,1025.7 1218.3,1025.8 1219.8,1025.8 1221.3,1025.9 1222.8,1026.0 1224.3,1026.1 1225.8,1026.1 1227.3,1026.2 1228.8,1026.2 1230.3,1026.3 1231.7,1026.3 1233.2,1026.4 1234.7,1026.4 1236.2,1026.4 1237.7,1026.5 1239.2,1026.5 1240.7,1026.6 1242.2,1026.6 1243.7,1026.6 1245.2,1026.7 1246.6,1026.7 1248.1,1026.8 1249.6,1026.8 1251.1,1026.8 1252.6,1026.9 1254.1,1026.9 1255.6,1026.9 1257.1,1026.9 1258.6,1027.0 1260.0,1027.0 1261.5,1027.0 1263.0,1027.0 1264.5,1027.1 1266.0,1027.1 1267.5,1027.1 1269.0,1027.1 1270.5,1027.1 1272.0,1027.1 1273.5,1027.2 1274.9,1027.2 1276.4,1027.2 1277.9,1027.2 1279.4,1027.2 1280.9,1027.2 1282.4,1027.2 1283.9,1027.2 1285.4,1027.3 1286.9,1027.3 1288.4,1027.3 1289.8,1027.3 1291.3,1027.3 1292.8,1027.3 1294.3,1027.3 1295.8,1027.3 1297.3,1027.3 1298.8,1027.4 1300.3,1027.4 1301.8,1027.4 1303.2,1027.4 1304.7,1027.4 1306.2,1027.4 1307.7,1027.4 1309.2,1027.4 1310.7,1027.4 1312.2,1027.4 1313.7,1027.4 1315.2,1027.4 1316.7,1027.5 1318.1,1027.5 1319.6,1027.5 1321.1,1027.5 1322.6,1027.5 1324.1,1027.5 1325.6,1027.5 1327.1,1027.5 1328.6,1027.5 1330.1,1027.5 1331.6,1027.5 1333.0,1027.5 1334.5,1027.5 1336.0,1027.5 1337.5,1027.5 1339.0,1027.5 1340.5,1027.5 1342.0,1027.5" fill="none" stroke="#008000" stroke-width="3.4" stroke-linejoin="round"/>
<polyline points="807.2,1022.5 808.7,1022.1 810.2,1021.8 811.7,1021.5 813.2,1021.2 814.6,1021.0 816.1,1020.7 817.6,1020.5 819.1,1020.2 820.6,1020.0 822.1,1019.9 823.6,1019.8 825.1,1019.7 826.6,1019.6 828.1,1019.6 829.5,1019.7 831.0,1019.9 832.5,1020.1 834.0,1020.3 835.5,1020.6 837.0,1020.8 838.5,1021.0 840.0,1021.2 841.5,1021.3 843.0,1021.3 844.4,1021.2 845.9,1021.0 847.4,1020.7 848.9,1020.3 850.4,1019.9 851.9,1019.4 853.4,1018.8 854.9,1018.3 856.4,1017.7 857.8,1017.2 859.3,1016.7 860.8,1016.2 862.3,1015.8 863.8,1015.5 865.3,1015.2 866.8,1015.2 868.3,1015.3 869.8,1015.5 871.3,1015.8 872.7,1016.2 874.2,1016.6 875.7,1017.0 877.2,1017.4 878.7,1017.8 880.2,1018.0 881.7,1018.1 883.2,1018.1 884.7,1017.9 886.2,1017.4 887.6,1016.7 889.1,1015.9 890.6,1015.0 892.1,1014.1 893.6,1013.2 895.1,1012.4 896.6,1011.6 898.1,1010.8 899.6,1010.0 901.0,1009.2 902.5,1008.4 904.0,1007.7 905.5,1007.0 907.0,1006.5 908.5,1006.1 910.0,1005.8 911.5,1005.6 913.0,1005.5 914.5,1005.4 915.9,1005.1 917.4,1004.7 918.9,1004.0 920.4,1003.1 921.9,1002.0 923.4,1000.7 924.9,999.1 926.4,996.9 927.9,994.3 929.4,991.5 930.8,988.5 932.3,985.4 933.8,982.0 935.3,978.2 936.8,974.4 938.3,970.6 939.8,967.2 941.3,964.0 942.8,960.7 944.2,957.7 945.7,954.8 947.2,952.4 948.7,950.4 950.2,948.7 951.7,947.1 953.2,945.7 954.7,944.5 956.2,943.6 957.7,942.9 959.1,942.5 960.6,942.5 962.1,942.8 963.6,943.6 965.1,944.5 966.6,945.7 968.1,947.3 969.6,949.6 971.1,952.6 972.5,955.9 974.0,959.4 975.5,962.8 977.0,966.5 978.5,970.4 980.0,974.4 981.5,978.5 983.0,982.5 984.5,986.4 986.0,990.5 987.4,994.6 988.9,998.6 990.4,1002.2 991.9,1005.3 993.4,1008.2 994.9,1010.7 996.4,1012.9 997.9,1014.5 999.4,1015.7 1000.9,1016.6 1002.3,1016.4 1003.8,1015.8 1005.3,1015.0 1006.8,1014.2 1008.3,1013.5 1009.8,1012.7 1011.3,1012.0 1012.8,1011.4 1014.3,1011.3 1015.7,1011.6 1017.2,1012.3 1018.7,1013.3 1020.2,1014.4 1021.7,1015.5 1023.2,1016.5 1024.7,1017.4 1026.2,1018.4 1027.7,1019.3 1029.2,1020.2 1030.6,1021.1 1032.1,1021.8 1033.6,1022.4 1035.1,1022.9 1036.6,1023.2 1038.1,1023.3 1039.6,1023.0 1041.1,1022.6 1042.6,1022.1 1044.1,1021.5 1045.5,1021.0 1047.0,1020.6 1048.5,1020.3 1050.0,1020.3 1051.5,1020.4 1053.0,1020.7 1054.5,1021.0 1056.0,1021.3 1057.5,1021.7 1058.9,1022.1 1060.4,1022.5 1061.9,1022.9 1063.4,1023.3 1064.9,1023.7 1066.4,1024.2 1067.9,1024.6 1069.4,1025.1 1070.9,1025.5 1072.4,1025.9 1073.8,1026.2 1075.3,1026.3 1076.8,1026.3 1078.3,1026.1 1079.8,1025.8 1081.3,1025.4 1082.8,1025.0 1084.3,1024.5 1085.8,1024.1 1087.3,1023.8 1088.7,1023.7 1090.2,1023.6 1091.7,1023.7 1093.2,1023.9 1094.7,1024.2 1096.2,1024.5 1097.7,1024.9 1099.2,1025.2 1100.7,1025.5 1102.1,1025.8 1103.6,1026.1 1105.1,1026.2 1106.6,1026.3 1108.1,1026.3 1109.6,1026.2 1111.1,1026.0 1112.6,1025.9 1114.1,1025.7 1115.6,1025.5 1117.0,1025.3 1118.5,1025.2 1120.0,1025.1 1121.5,1025.0 1123.0,1024.9 1124.5,1025.0 1126.0,1025.1 1127.5,1025.2 1129.0,1025.3 1130.5,1025.4 1131.9,1025.6 1133.4,1025.8 1134.9,1025.9 1136.4,1026.1 1137.9,1026.3 1139.4,1026.4 1140.9,1026.5 1142.4,1026.6 1143.9,1026.7 1145.3,1026.8 1146.8,1026.8 1148.3,1026.8 1149.8,1026.9 1151.3,1026.9 1152.8,1026.9 1154.3,1026.9 1155.8,1026.9 1157.3,1026.9 1158.8,1027.0 1160.2,1027.0 1161.7,1027.0 1163.2,1027.0 1164.7,1027.0 1166.2,1027.0 1167.7,1027.1 1169.2,1027.1 1170.7,1027.1 1172.2,1027.1 1173.7,1027.1 1175.1,1027.1 1176.6,1027.1 1178.1,1027.1 1179.6,1027.1 1181.1,1027.1 1182.6,1027.1 1184.1,1027.1 1185.6,1027.1 1187.1,1027.1 1188.5,1027.1 1190.0,1027.2 1191.5,1027.2 1193.0,1027.2 1194.5,1027.2 1196.0,1027.2 1197.5,1027.2 1199.0,1027.2 1200.5,1027.2 1202.0,1027.2 1203.4,1027.2 1204.9,1027.2 1206.4,1027.2 1207.9,1027.2 1209.4,1027.2 1210.9,1027.2 1212.4,1027.2 1213.9,1027.2 1215.4,1027.2 1216.9,1027.2 1218.3,1027.2 1219.8,1027.2 1221.3,1027.2 1222.8,1027.3 1224.3,1027.3 1225.8,1027.3 1227.3,1027.3 1228.8,1027.3 1230.3,1027.3 1231.7,1027.3 1233.2,1027.3 1234.7,1027.3 1236.2,1027.3 1237.7,1027.3 1239.2,1027.3 1240.7,1027.3 1242.2,1027.3 1243.7,1027.3 1245.2,1027.3 1246.6,1027.3 1248.1,1027.3 1249.6,1027.3 1251.1,1027.3 1252.6,1027.3 1254.1,1027.4 1255.6,1027.4 1257.1,1027.4 1258.6,1027.4 1260.0,1027.4 1261.5,1027.4 1263.0,1027.4 1264.5,1027.4 1266.0,1027.4 1267.5,1027.4 1269.0,1027.4 1270.5,1027.4 1272.0,1027.4 1273.5,1027.4 1274.9,1027.4 1276.4,1027.4 1277.9,1027.4 1279.4,1027.4 1280.9,1027.4 1282.4,1027.4 1283.9,1027.4 1285.4,1027.4 1286.9,1027.4 1288.4,1027.4 1289.8,1027.4 1291.3,1027.4 1292.8,1027.4 1294.3,1027.4 1295.8,1027.4 1297.3,1027.5 1298.8,1027.5 1300.3,1027.5 1301.8,1027.5 1303.2,1027.5 1304.7,1027.5 1306.2,1027.5 1307.7,1027.5 1309.2,1027.5 1310.7,1027.5 1312.2,1027.5 1313.7,1027.5 1315.2,1027.5 1316.7,1027.5 1318.1,1027.5 1319.6,1027.5 1321.1,1027.5 1322.6,1027.5 1324.1,1027.5 1325.6,1027.5 1327.1,1027.5 1328.6,1027.5 1330.1,1027.5 1331.6,1027.5 1333.0,1027.5 1334.5,1027.5 1336.0,1027.5 1337.5,1027.5 1339.0,1027.5 1340.5,1027.5 1342.0,1027.5" fill="none" stroke="#ff7f00" stroke-width="3.4" stroke-linejoin="round"/>
</g>
<line x1="1127.0" y1="102.8" x2="1196.4" y2="102.8" stroke="#0000ff" stroke-width="3.5" />
<text transform="translate(1205.5 113.0) scale(1.02 1)" font-size="30" text-anchor="start" fill="#000" ><tspan font-style="italic">ex situ</tspan></text>
<circle cx="1161.7" cy="140.4" r="5.1" fill="#fff" stroke="#ff0000" stroke-width="1.2"/>
<text transform="translate(1205.5 150.6) scale(1.02 1)" font-size="30" text-anchor="start" fill="#000" >fit</text>
<line x1="1131.2" y1="424.3" x2="1200.6" y2="424.3" stroke="#0000ff" stroke-width="3.5" />
<text transform="translate(1209.2 434.5) scale(1.02 1)" font-size="30" text-anchor="start" fill="#000" >1.30 V</text>
<circle cx="1165.9" cy="462.2" r="5.1" fill="#fff" stroke="#ff0000" stroke-width="1.2"/>
<text transform="translate(1209.2 472.4) scale(1.02 1)" font-size="30" text-anchor="start" fill="#000" >fit</text>
<line x1="1131.2" y1="500.0" x2="1200.6" y2="500.0" stroke="#7f00ff" stroke-width="3.5" />
<text transform="translate(1209.2 510.2) scale(1.02 1)" font-size="30" text-anchor="start" fill="#000" >Ir-O<tspan font-size="18" dy="8">1</tspan></text>
<line x1="1131.2" y1="544.7" x2="1200.6" y2="544.7" stroke="#ff7f00" stroke-width="3.5" />
<text transform="translate(1209.2 554.9) scale(1.02 1)" font-size="30" text-anchor="start" fill="#000" >Ir-O<tspan font-size="18" dy="8">2</tspan></text>
<line x1="1141.0" y1="758.9" x2="1208.8" y2="758.9" stroke="#0000ff" stroke-width="3.5" />
<text transform="translate(1219.6 769.1) scale(1.02 1)" font-size="30" text-anchor="start" fill="#000" >1.43 V</text>
<circle cx="1174.9" cy="796.4" r="5.1" fill="#fff" stroke="#ff0000" stroke-width="1.2"/>
<text transform="translate(1219.6 806.6) scale(1.02 1)" font-size="30" text-anchor="start" fill="#000" >fit</text>
<line x1="1141.0" y1="834.7" x2="1208.8" y2="834.7" stroke="#008000" stroke-width="3.5" />
<text transform="translate(1219.6 844.9) scale(1.02 1)" font-size="30" text-anchor="start" fill="#000" >Ir-O<tspan font-size="18" dy="8">1</tspan></text>
<line x1="1141.0" y1="878.7" x2="1208.8" y2="878.7" stroke="#ff7f00" stroke-width="3.5" />
<text transform="translate(1219.6 888.9) scale(1.02 1)" font-size="30" text-anchor="start" fill="#000" >Ir-O<tspan font-size="18" dy="8">2</tspan></text>
</g>
<g id="panel_d">
<defs><radialGradient id="gO" cx="0.5" cy="0.5" r="0.52" fx="0.58" fy="0.46"><stop offset="0" stop-color="#ff9080"/><stop offset="0.08" stop-color="#f43a30"/><stop offset="0.5" stop-color="#e41c1c"/><stop offset="0.8" stop-color="#c81616"/><stop offset="0.94" stop-color="#9a0e0e"/><stop offset="1" stop-color="#6c0808"/></radialGradient><radialGradient id="gI" cx="0.5" cy="0.5" r="0.52" fx="0.58" fy="0.46"><stop offset="0" stop-color="#ece6ff"/><stop offset="0.09" stop-color="#b4aadf"/><stop offset="0.5" stop-color="#9186c6"/><stop offset="0.8" stop-color="#7c71b0"/><stop offset="0.94" stop-color="#5e558c"/><stop offset="1" stop-color="#464070"/></radialGradient><radialGradient id="gM" cx="0.5" cy="0.5" r="0.52" fx="0.58" fy="0.46"><stop offset="0" stop-color="#d0fff4"/><stop offset="0.09" stop-color="#66f0c6"/><stop offset="0.5" stop-color="#38d8a8"/><stop offset="0.8" stop-color="#2cbc90"/><stop offset="0.94" stop-color="#1c8c6a"/><stop offset="1" stop-color="#12664c"/></radialGradient><radialGradient id="gH" cx="0.5" cy="0.5" r="0.52" fx="0.58" fy="0.46"><stop offset="0" stop-color="#a0b0ff"/><stop offset="0.1" stop-color="#4060f0"/><stop offset="0.5" stop-color="#2848d8"/><stop offset="0.8" stop-color="#1c34a8"/><stop offset="1" stop-color="#0e1c6c"/></radialGradient><radialGradient id="gGlow"><stop offset="0" stop-color="#fff6ee" stop-opacity="0.95"/><stop offset="0.22" stop-color="#fbd8bc" stop-opacity="0.95"/><stop offset="0.5" stop-color="#f6b88c" stop-opacity="0.85"/><stop offset="0.75" stop-color="#f8c8a4" stop-opacity="0.5"/><stop offset="1" stop-color="#fbdcc4" stop-opacity="0"/></radialGradient></defs>
<text transform="translate(1385.5 37.5) scale(1.03 1)" font-size="44" text-anchor="start" fill="#000" >d</text>
<filter id="soft" x="-2%" y="-2%" width="104%" height="104%"><feGaussianBlur stdDeviation="0.7"/></filter>
<clipPath id="cd1"><rect x="1424" y="37" width="571.7" height="307.4"/></clipPath>
<g clip-path="url(#cd1)"><g fill="none" stroke-linecap="butt" filter="url(#soft)"><path d="M1421.0 117.8L1480.8 106.6" stroke="#665c98" stroke-width="12"/><path d="M1421.0 117.8L1480.8 106.6" stroke="#887dc0" stroke-width="9.1"/><path d="M1421.0 117.8L1480.8 106.6" stroke="#a096d6" stroke-width="5.0"/><path d="M1480.8 106.6L1540.7 95.4" stroke="#9c1010" stroke-width="12"/><path d="M1480.8 106.6L1540.7 95.4" stroke="#d81a1a" stroke-width="9.1"/><path d="M1480.8 106.6L1540.7 95.4" stroke="#f22626" stroke-width="5.0"/><path d="M1421.0 117.8L1455.0 160.4" stroke="#665c98" stroke-width="12"/><path d="M1421.0 117.8L1455.0 160.4" stroke="#887dc0" stroke-width="9.1"/><path d="M1421.0 117.8L1455.0 160.4" stroke="#a096d6" stroke-width="5.0"/><path d="M1455.0 160.4L1489.0 203.0" stroke="#665c98" stroke-width="12"/><path d="M1455.0 160.4L1489.0 203.0" stroke="#887dc0" stroke-width="9.1"/><path d="M1455.0 160.4L1489.0 203.0" stroke="#a096d6" stroke-width="5.0"/><path d="M1421.0 117.8L1432.8 180.6" stroke="#665c98" stroke-width="12"/><path d="M1421.0 117.8L1432.8 180.6" stroke="#887dc0" stroke-width="9.1"/><path d="M1421.0 117.8L1432.8 180.6" stroke="#a096d6" stroke-width="5.0"/><path d="M1432.8 180.6L1444.5 243.4" stroke="#9c1010" stroke-width="12"/><path d="M1432.8 180.6L1444.5 243.4" stroke="#d81a1a" stroke-width="9.1"/><path d="M1432.8 180.6L1444.5 243.4" stroke="#f22626" stroke-width="5.0"/><path d="M1924.6 64.7L1995.8 42.4" stroke="#9c1010" stroke-width="12"/><path d="M1924.6 64.7L1995.8 42.4" stroke="#d81a1a" stroke-width="9.1"/><path d="M1924.6 64.7L1995.8 42.4" stroke="#f22626" stroke-width="5.0"/><path d="M1995.8 42.4L2067.0 20.0" stroke="#665c98" stroke-width="12"/><path d="M1995.8 42.4L2067.0 20.0" stroke="#887dc0" stroke-width="9.1"/><path d="M1995.8 42.4L2067.0 20.0" stroke="#a096d6" stroke-width="5.0"/><path d="M1950.0 180.0L1995.0 112.5" stroke="#665c98" stroke-width="7"/><path d="M1950.0 180.0L1995.0 112.5" stroke="#887dc0" stroke-width="5.3"/><path d="M1950.0 180.0L1995.0 112.5" stroke="#a096d6" stroke-width="2.9"/><path d="M1995.0 112.5L2040.0 45.0" stroke="#665c98" stroke-width="7"/><path d="M1995.0 112.5L2040.0 45.0" stroke="#887dc0" stroke-width="5.3"/><path d="M1995.0 112.5L2040.0 45.0" stroke="#a096d6" stroke-width="2.9"/><path d="M1489.0 203.0L1431.8 222.4" stroke="#665c98" stroke-width="12"/><path d="M1489.0 203.0L1431.8 222.4" stroke="#887dc0" stroke-width="9.1"/><path d="M1489.0 203.0L1431.8 222.4" stroke="#a096d6" stroke-width="5.0"/><path d="M1431.8 222.4L1374.6 241.9" stroke="#9c1010" stroke-width="12"/><path d="M1431.8 222.4L1374.6 241.9" stroke="#d81a1a" stroke-width="9.1"/><path d="M1431.8 222.4L1374.6 241.9" stroke="#f22626" stroke-width="5.0"/><path d="M1489.0 203.0L1427.5 235.5" stroke="#665c98" stroke-width="12"/><path d="M1489.0 203.0L1427.5 235.5" stroke="#887dc0" stroke-width="9.1"/><path d="M1489.0 203.0L1427.5 235.5" stroke="#a096d6" stroke-width="5.0"/><path d="M1427.5 235.5L1366.0 268.0" stroke="#9c1010" stroke-width="12"/><path d="M1427.5 235.5L1366.0 268.0" stroke="#d81a1a" stroke-width="9.1"/><path d="M1427.5 235.5L1366.0 268.0" stroke="#f22626" stroke-width="5.0"/><path d="M1489.0 203.0L1444.5 274.0" stroke="#665c98" stroke-width="12"/><path d="M1489.0 203.0L1444.5 274.0" stroke="#887dc0" stroke-width="9.1"/><path d="M1489.0 203.0L1444.5 274.0" stroke="#a096d6" stroke-width="5.0"/><path d="M1444.5 274.0L1400.0 345.0" stroke="#665c98" stroke-width="12"/><path d="M1444.5 274.0L1400.0 345.0" stroke="#887dc0" stroke-width="9.1"/><path d="M1444.5 274.0L1400.0 345.0" stroke="#a096d6" stroke-width="5.0"/><path d="M1592.4 250.9L1614.5 311.4" stroke="#9c1010" stroke-width="12"/><path d="M1592.4 250.9L1614.5 311.4" stroke="#d81a1a" stroke-width="9.1"/><path d="M1592.4 250.9L1614.5 311.4" stroke="#f22626" stroke-width="5.0"/><path d="M1614.5 311.4L1636.6 372.0" stroke="#665c98" stroke-width="12"/><path d="M1614.5 311.4L1636.6 372.0" stroke="#887dc0" stroke-width="9.1"/><path d="M1614.5 311.4L1636.6 372.0" stroke="#a096d6" stroke-width="5.0"/><path d="M1560.2 288.3L1566.1 319.1" stroke="#665c98" stroke-width="12"/><path d="M1560.2 288.3L1566.1 319.1" stroke="#887dc0" stroke-width="9.1"/><path d="M1560.2 288.3L1566.1 319.1" stroke="#a096d6" stroke-width="5.0"/><path d="M1566.1 319.1L1572.0 350.0" stroke="#665c98" stroke-width="12"/><path d="M1566.1 319.1L1572.0 350.0" stroke="#887dc0" stroke-width="9.1"/><path d="M1566.1 319.1L1572.0 350.0" stroke="#a096d6" stroke-width="5.0"/><path d="M1560.2 288.3L1582.1 319.1" stroke="#665c98" stroke-width="12"/><path d="M1560.2 288.3L1582.1 319.1" stroke="#887dc0" stroke-width="9.1"/><path d="M1560.2 288.3L1582.1 319.1" stroke="#a096d6" stroke-width="5.0"/><path d="M1582.1 319.1L1604.0 350.0" stroke="#665c98" stroke-width="12"/><path d="M1582.1 319.1L1604.0 350.0" stroke="#887dc0" stroke-width="9.1"/><path d="M1582.1 319.1L1604.0 350.0" stroke="#a096d6" stroke-width="5.0"/><path d="M1901.3 288.3L1962.0 276.3" stroke="#9c1010" stroke-width="12"/><path d="M1901.3 288.3L1962.0 276.3" stroke="#d81a1a" stroke-width="9.1"/><path d="M1901.3 288.3L1962.0 276.3" stroke="#f22626" stroke-width="5.0"/><path d="M1962.0 276.3L2022.7 264.3" stroke="#665c98" stroke-width="12"/><path d="M1962.0 276.3L2022.7 264.3" stroke="#887dc0" stroke-width="9.1"/><path d="M1962.0 276.3L2022.7 264.3" stroke="#a096d6" stroke-width="5.0"/><path d="M1950.0 180.0L1990.0 215.0" stroke="#665c98" stroke-width="12"/><path d="M1950.0 180.0L1990.0 215.0" stroke="#887dc0" stroke-width="9.1"/><path d="M1950.0 180.0L1990.0 215.0" stroke="#a096d6" stroke-width="5.0"/><path d="M1990.0 215.0L2030.0 250.0" stroke="#665c98" stroke-width="12"/><path d="M1990.0 215.0L2030.0 250.0" stroke="#887dc0" stroke-width="9.1"/><path d="M1990.0 215.0L2030.0 250.0" stroke="#a096d6" stroke-width="5.0"/><path d="M1795.8 288.3L1800.9 320.1" stroke="#665c98" stroke-width="12"/><path d="M1795.8 288.3L1800.9 320.1" stroke="#887dc0" stroke-width="9.1"/><path d="M1795.8 288.3L1800.9 320.1" stroke="#a096d6" stroke-width="5.0"/><path d="M1800.9 320.1L1806.0 352.0" stroke="#665c98" stroke-width="12"/><path d="M1800.9 320.1L1806.0 352.0" stroke="#887dc0" stroke-width="9.1"/><path d="M1800.9 320.1L1806.0 352.0" stroke="#a096d6" stroke-width="5.0"/><path d="M1795.8 288.3L1818.9 319.1" stroke="#665c98" stroke-width="12"/><path d="M1795.8 288.3L1818.9 319.1" stroke="#887dc0" stroke-width="9.1"/><path d="M1795.8 288.3L1818.9 319.1" stroke="#a096d6" stroke-width="5.0"/><path d="M1818.9 319.1L1842.0 350.0" stroke="#665c98" stroke-width="12"/><path d="M1818.9 319.1L1842.0 350.0" stroke="#887dc0" stroke-width="9.1"/><path d="M1818.9 319.1L1842.0 350.0" stroke="#a096d6" stroke-width="5.0"/><path d="M1933.5 322.7L1959.2 333.9" stroke="#665c98" stroke-width="12"/><path d="M1933.5 322.7L1959.2 333.9" stroke="#887dc0" stroke-width="9.1"/><path d="M1933.5 322.7L1959.2 333.9" stroke="#a096d6" stroke-width="5.0"/><path d="M1959.2 333.9L1985.0 345.0" stroke="#665c98" stroke-width="12"/><path d="M1959.2 333.9L1985.0 345.0" stroke="#887dc0" stroke-width="9.1"/><path d="M1959.2 333.9L1985.0 345.0" stroke="#a096d6" stroke-width="5.0"/><path d="M1908.8 324.2L1919.4 338.1" stroke="#9c1010" stroke-width="12"/><path d="M1908.8 324.2L1919.4 338.1" stroke="#d81a1a" stroke-width="9.1"/><path d="M1908.8 324.2L1919.4 338.1" stroke="#f22626" stroke-width="5.0"/><path d="M1919.4 338.1L1930.0 352.0" stroke="#9c1010" stroke-width="12"/><path d="M1919.4 338.1L1930.0 352.0" stroke="#d81a1a" stroke-width="9.1"/><path d="M1919.4 338.1L1930.0 352.0" stroke="#f22626" stroke-width="5.0"/><path d="M1984.4 300.3L1987.2 325.1" stroke="#9c1010" stroke-width="12"/><path d="M1984.4 300.3L1987.2 325.1" stroke="#d81a1a" stroke-width="9.1"/><path d="M1984.4 300.3L1987.2 325.1" stroke="#f22626" stroke-width="5.0"/><path d="M1987.2 325.1L1990.0 350.0" stroke="#9c1010" stroke-width="12"/><path d="M1987.2 325.1L1990.0 350.0" stroke="#d81a1a" stroke-width="9.1"/><path d="M1987.2 325.1L1990.0 350.0" stroke="#f22626" stroke-width="5.0"/><path d="M1716.5 295.8L1708.2 322.9" stroke="#9c1010" stroke-width="12"/><path d="M1716.5 295.8L1708.2 322.9" stroke="#d81a1a" stroke-width="9.1"/><path d="M1716.5 295.8L1708.2 322.9" stroke="#f22626" stroke-width="5.0"/><path d="M1708.2 322.9L1700.0 350.0" stroke="#9c1010" stroke-width="12"/><path d="M1708.2 322.9L1700.0 350.0" stroke="#d81a1a" stroke-width="9.1"/><path d="M1708.2 322.9L1700.0 350.0" stroke="#f22626" stroke-width="5.0"/><path d="M1861.7 338.0L1880.8 345.0" stroke="#665c98" stroke-width="12"/><path d="M1861.7 338.0L1880.8 345.0" stroke="#887dc0" stroke-width="9.1"/><path d="M1861.7 338.0L1880.8 345.0" stroke="#a096d6" stroke-width="5.0"/><path d="M1880.8 345.0L1900.0 352.0" stroke="#665c98" stroke-width="12"/><path d="M1880.8 345.0L1900.0 352.0" stroke="#887dc0" stroke-width="9.1"/><path d="M1880.8 345.0L1900.0 352.0" stroke="#a096d6" stroke-width="5.0"/><circle cx="1421.0" cy="117.8" r="26.0" fill="url(#gI)"/><path d="M1540.7 95.4L1598.3 107.8" stroke="#9c1010" stroke-width="12"/><path d="M1540.7 95.4L1598.3 107.8" stroke="#d81a1a" stroke-width="9.1"/><path d="M1540.7 95.4L1598.3 107.8" stroke="#f22626" stroke-width="5.0"/><path d="M1598.3 107.8L1656.0 120.1" stroke="#665c98" stroke-width="12"/><path d="M1598.3 107.8L1656.0 120.1" stroke="#887dc0" stroke-width="9.1"/><path d="M1598.3 107.8L1656.0 120.1" stroke="#a096d6" stroke-width="5.0"/><path d="M1700.5 72.5L1708.2 131.2" stroke="#9c1010" stroke-width="12"/><path d="M1700.5 72.5L1708.2 131.2" stroke="#d81a1a" stroke-width="9.1"/><path d="M1700.5 72.5L1708.2 131.2" stroke="#f22626" stroke-width="5.0"/><path d="M1708.2 131.2L1716.0 190.0" stroke="#665c98" stroke-width="12"/><path d="M1708.2 131.2L1716.0 190.0" stroke="#887dc0" stroke-width="9.1"/><path d="M1708.2 131.2L1716.0 190.0" stroke="#a096d6" stroke-width="5.0"/><path d="M1716.0 190.0L1773.8 197.2" stroke="#665c98" stroke-width="12"/><path d="M1716.0 190.0L1773.8 197.2" stroke="#887dc0" stroke-width="9.1"/><path d="M1716.0 190.0L1773.8 197.2" stroke="#a096d6" stroke-width="5.0"/><path d="M1773.8 197.2L1831.7 204.5" stroke="#9c1010" stroke-width="12"/><path d="M1773.8 197.2L1831.7 204.5" stroke="#d81a1a" stroke-width="9.1"/><path d="M1773.8 197.2L1831.7 204.5" stroke="#f22626" stroke-width="5.0"/><path d="M1489.0 203.0L1506.5 260.5" stroke="#665c98" stroke-width="12"/><path d="M1489.0 203.0L1506.5 260.5" stroke="#887dc0" stroke-width="9.1"/><path d="M1489.0 203.0L1506.5 260.5" stroke="#a096d6" stroke-width="5.0"/><path d="M1506.5 260.5L1524.0 318.0" stroke="#9c1010" stroke-width="12"/><path d="M1506.5 260.5L1524.0 318.0" stroke="#d81a1a" stroke-width="9.1"/><path d="M1506.5 260.5L1524.0 318.0" stroke="#f22626" stroke-width="5.0"/><path d="M1718.0 212.0L1717.2 253.9" stroke="#665c98" stroke-width="12"/><path d="M1718.0 212.0L1717.2 253.9" stroke="#887dc0" stroke-width="9.1"/><path d="M1718.0 212.0L1717.2 253.9" stroke="#a096d6" stroke-width="5.0"/><path d="M1717.2 253.9L1716.5 295.8" stroke="#9c1010" stroke-width="12"/><path d="M1717.2 253.9L1716.5 295.8" stroke="#d81a1a" stroke-width="9.1"/><path d="M1717.2 253.9L1716.5 295.8" stroke="#f22626" stroke-width="5.0"/><path d="M1445.0 324.0L1484.5 321.0" stroke="#9c1010" stroke-width="12"/><path d="M1445.0 324.0L1484.5 321.0" stroke="#d81a1a" stroke-width="9.1"/><path d="M1445.0 324.0L1484.5 321.0" stroke="#f22626" stroke-width="5.0"/><path d="M1484.5 321.0L1524.0 318.0" stroke="#9c1010" stroke-width="12"/><path d="M1484.5 321.0L1524.0 318.0" stroke="#d81a1a" stroke-width="9.1"/><path d="M1484.5 321.0L1524.0 318.0" stroke="#f22626" stroke-width="5.0"/><path d="M1489.0 203.0L1466.8 223.2" stroke="#665c98" stroke-width="12"/><path d="M1489.0 203.0L1466.8 223.2" stroke="#887dc0" stroke-width="9.1"/><path d="M1489.0 203.0L1466.8 223.2" stroke="#a096d6" stroke-width="5.0"/><path d="M1466.8 223.2L1444.5 243.4" stroke="#9c1010" stroke-width="12"/><path d="M1466.8 223.2L1444.5 243.4" stroke="#d81a1a" stroke-width="9.1"/><path d="M1466.8 223.2L1444.5 243.4" stroke="#f22626" stroke-width="5.0"/><circle cx="1540.7" cy="95.4" r="19.5" fill="url(#gO)"/><circle cx="1444.5" cy="243.4" r="17.0" fill="url(#gO)"/><circle cx="1445.0" cy="324.0" r="16.0" fill="url(#gO)"/><circle cx="1524.0" cy="318.0" r="15.0" fill="url(#gO)"/><path d="M1656.0 120.1L1678.2 96.3" stroke="#665c98" stroke-width="12"/><path d="M1656.0 120.1L1678.2 96.3" stroke="#887dc0" stroke-width="9.1"/><path d="M1656.0 120.1L1678.2 96.3" stroke="#a096d6" stroke-width="5.0"/><path d="M1678.2 96.3L1700.5 72.5" stroke="#9c1010" stroke-width="12"/><path d="M1678.2 96.3L1700.5 72.5" stroke="#d81a1a" stroke-width="9.1"/><path d="M1678.2 96.3L1700.5 72.5" stroke="#f22626" stroke-width="5.0"/><path d="M1452.4 85.6L1470.7 144.3" stroke="#9c1010" stroke-width="12"/><path d="M1452.4 85.6L1470.7 144.3" stroke="#d81a1a" stroke-width="9.1"/><path d="M1452.4 85.6L1470.7 144.3" stroke="#f22626" stroke-width="5.0"/><path d="M1470.7 144.3L1489.0 203.0" stroke="#665c98" stroke-width="12"/><path d="M1470.7 144.3L1489.0 203.0" stroke="#887dc0" stroke-width="9.1"/><path d="M1470.7 144.3L1489.0 203.0" stroke="#a096d6" stroke-width="5.0"/><path d="M1656.0 120.1L1665.8 174.2" stroke="#665c98" stroke-width="12"/><path d="M1656.0 120.1L1665.8 174.2" stroke="#887dc0" stroke-width="9.1"/><path d="M1656.0 120.1L1665.8 174.2" stroke="#a096d6" stroke-width="5.0"/><path d="M1665.8 174.2L1675.5 228.4" stroke="#9c1010" stroke-width="12"/><path d="M1665.8 174.2L1675.5 228.4" stroke="#d81a1a" stroke-width="9.1"/><path d="M1665.8 174.2L1675.5 228.4" stroke="#f22626" stroke-width="5.0"/><path d="M1656.0 120.1L1720.7 189.2" stroke="#665c98" stroke-width="12"/><path d="M1656.0 120.1L1720.7 189.2" stroke="#887dc0" stroke-width="9.1"/><path d="M1656.0 120.1L1720.7 189.2" stroke="#a096d6" stroke-width="5.0"/><path d="M1720.7 189.2L1785.3 258.4" stroke="#665c98" stroke-width="12"/><path d="M1720.7 189.2L1785.3 258.4" stroke="#887dc0" stroke-width="9.1"/><path d="M1720.7 189.2L1785.3 258.4" stroke="#a096d6" stroke-width="5.0"/><path d="M1769.6 156.7L1777.4 207.5" stroke="#9c1010" stroke-width="12"/><path d="M1769.6 156.7L1777.4 207.5" stroke="#d81a1a" stroke-width="9.1"/><path d="M1769.6 156.7L1777.4 207.5" stroke="#f22626" stroke-width="5.0"/><path d="M1777.4 207.5L1785.3 258.4" stroke="#665c98" stroke-width="12"/><path d="M1777.4 207.5L1785.3 258.4" stroke="#887dc0" stroke-width="9.1"/><path d="M1777.4 207.5L1785.3 258.4" stroke="#a096d6" stroke-width="5.0"/><path d="M1489.0 203.0L1524.6 245.7" stroke="#665c98" stroke-width="12"/><path d="M1489.0 203.0L1524.6 245.7" stroke="#887dc0" stroke-width="9.1"/><path d="M1489.0 203.0L1524.6 245.7" stroke="#a096d6" stroke-width="5.0"/><path d="M1524.6 245.7L1560.2 288.3" stroke="#665c98" stroke-width="12"/><path d="M1524.6 245.7L1560.2 288.3" stroke="#887dc0" stroke-width="9.1"/><path d="M1524.6 245.7L1560.2 288.3" stroke="#a096d6" stroke-width="5.0"/><path d="M1522.0 171.0L1541.1 229.7" stroke="#9c1010" stroke-width="12"/><path d="M1522.0 171.0L1541.1 229.7" stroke="#d81a1a" stroke-width="9.1"/><path d="M1522.0 171.0L1541.1 229.7" stroke="#f22626" stroke-width="5.0"/><path d="M1541.1 229.7L1560.2 288.3" stroke="#665c98" stroke-width="12"/><path d="M1541.1 229.7L1560.2 288.3" stroke="#887dc0" stroke-width="9.1"/><path d="M1541.1 229.7L1560.2 288.3" stroke="#a096d6" stroke-width="5.0"/><path d="M1560.2 288.3L1576.3 269.6" stroke="#665c98" stroke-width="12"/><path d="M1560.2 288.3L1576.3 269.6" stroke="#887dc0" stroke-width="9.1"/><path d="M1560.2 288.3L1576.3 269.6" stroke="#a096d6" stroke-width="5.0"/><path d="M1576.3 269.6L1592.4 250.9" stroke="#9c1010" stroke-width="12"/><path d="M1576.3 269.6L1592.4 250.9" stroke="#d81a1a" stroke-width="9.1"/><path d="M1576.3 269.6L1592.4 250.9" stroke="#f22626" stroke-width="5.0"/><path d="M1560.2 288.3L1620.8 276.3" stroke="#665c98" stroke-width="12"/><path d="M1560.2 288.3L1620.8 276.3" stroke="#887dc0" stroke-width="9.1"/><path d="M1560.2 288.3L1620.8 276.3" stroke="#a096d6" stroke-width="5.0"/><path d="M1620.8 276.3L1681.5 264.3" stroke="#9c1010" stroke-width="12"/><path d="M1620.8 276.3L1681.5 264.3" stroke="#d81a1a" stroke-width="9.1"/><path d="M1620.8 276.3L1681.5 264.3" stroke="#f22626" stroke-width="5.0"/><path d="M1838.5 240.4L1850.1 289.2" stroke="#9c1010" stroke-width="12"/><path d="M1838.5 240.4L1850.1 289.2" stroke="#d81a1a" stroke-width="9.1"/><path d="M1838.5 240.4L1850.1 289.2" stroke="#f22626" stroke-width="5.0"/><path d="M1850.1 289.2L1861.7 338.0" stroke="#665c98" stroke-width="12"/><path d="M1850.1 289.2L1861.7 338.0" stroke="#887dc0" stroke-width="9.1"/><path d="M1850.1 289.2L1861.7 338.0" stroke="#a096d6" stroke-width="5.0"/><path d="M1785.3 258.4L1843.3 273.4" stroke="#665c98" stroke-width="12"/><path d="M1785.3 258.4L1843.3 273.4" stroke="#887dc0" stroke-width="9.1"/><path d="M1785.3 258.4L1843.3 273.4" stroke="#a096d6" stroke-width="5.0"/><path d="M1843.3 273.4L1901.3 288.3" stroke="#9c1010" stroke-width="12"/><path d="M1843.3 273.4L1901.3 288.3" stroke="#d81a1a" stroke-width="9.1"/><path d="M1843.3 273.4L1901.3 288.3" stroke="#f22626" stroke-width="5.0"/><path d="M1785.3 258.4L1730.4 243.4" stroke="#665c98" stroke-width="12"/><path d="M1785.3 258.4L1730.4 243.4" stroke="#887dc0" stroke-width="9.1"/><path d="M1785.3 258.4L1730.4 243.4" stroke="#a096d6" stroke-width="5.0"/><path d="M1730.4 243.4L1675.5 228.4" stroke="#9c1010" stroke-width="12"/><path d="M1730.4 243.4L1675.5 228.4" stroke="#d81a1a" stroke-width="9.1"/><path d="M1730.4 243.4L1675.5 228.4" stroke="#f22626" stroke-width="5.0"/><path d="M1795.8 288.3L1828.8 313.1" stroke="#665c98" stroke-width="12"/><path d="M1795.8 288.3L1828.8 313.1" stroke="#887dc0" stroke-width="9.1"/><path d="M1795.8 288.3L1828.8 313.1" stroke="#a096d6" stroke-width="5.0"/><path d="M1828.8 313.1L1861.7 338.0" stroke="#665c98" stroke-width="12"/><path d="M1828.8 313.1L1861.7 338.0" stroke="#887dc0" stroke-width="9.1"/><path d="M1828.8 313.1L1861.7 338.0" stroke="#a096d6" stroke-width="5.0"/><circle cx="1452.4" cy="85.6" r="19.5" fill="url(#gO)"/><circle cx="1700.5" cy="72.5" r="20.0" fill="url(#gO)"/><circle cx="1675.5" cy="228.4" r="18.7" fill="url(#gO)"/><circle cx="1560.2" cy="288.3" r="24.0" fill="url(#gI)"/><circle cx="1785.3" cy="258.4" r="24.0" fill="url(#gI)"/><circle cx="1861.7" cy="338.0" r="19.0" fill="url(#gI)"/><path d="M1656.0 120.1L1633.3 150.1" stroke="#665c98" stroke-width="12"/><path d="M1656.0 120.1L1633.3 150.1" stroke="#887dc0" stroke-width="9.1"/><path d="M1656.0 120.1L1633.3 150.1" stroke="#a096d6" stroke-width="5.0"/><path d="M1633.3 150.1L1610.7 180.0" stroke="#9c1010" stroke-width="12"/><path d="M1633.3 150.1L1610.7 180.0" stroke="#d81a1a" stroke-width="9.1"/><path d="M1633.3 150.1L1610.7 180.0" stroke="#f22626" stroke-width="5.0"/><path d="M1656.0 120.1L1725.9 204.2" stroke="#665c98" stroke-width="12"/><path d="M1656.0 120.1L1725.9 204.2" stroke="#887dc0" stroke-width="9.1"/><path d="M1656.0 120.1L1725.9 204.2" stroke="#a096d6" stroke-width="5.0"/><path d="M1725.9 204.2L1795.8 288.3" stroke="#665c98" stroke-width="12"/><path d="M1725.9 204.2L1795.8 288.3" stroke="#887dc0" stroke-width="9.1"/><path d="M1725.9 204.2L1795.8 288.3" stroke="#a096d6" stroke-width="5.0"/><path d="M1656.0 120.1L1712.8 138.4" stroke="#665c98" stroke-width="12"/><path d="M1656.0 120.1L1712.8 138.4" stroke="#887dc0" stroke-width="9.1"/><path d="M1656.0 120.1L1712.8 138.4" stroke="#a096d6" stroke-width="5.0"/><path d="M1712.8 138.4L1769.6 156.7" stroke="#9c1010" stroke-width="12"/><path d="M1712.8 138.4L1769.6 156.7" stroke="#d81a1a" stroke-width="9.1"/><path d="M1712.8 138.4L1769.6 156.7" stroke="#f22626" stroke-width="5.0"/><path d="M1489.0 203.0L1549.8 191.5" stroke="#665c98" stroke-width="12"/><path d="M1489.0 203.0L1549.8 191.5" stroke="#887dc0" stroke-width="9.1"/><path d="M1489.0 203.0L1549.8 191.5" stroke="#a096d6" stroke-width="5.0"/><path d="M1549.8 191.5L1610.7 180.0" stroke="#9c1010" stroke-width="12"/><path d="M1549.8 191.5L1610.7 180.0" stroke="#d81a1a" stroke-width="9.1"/><path d="M1549.8 191.5L1610.7 180.0" stroke="#f22626" stroke-width="5.0"/><path d="M1489.0 203.0L1505.5 187.0" stroke="#665c98" stroke-width="12"/><path d="M1489.0 203.0L1505.5 187.0" stroke="#887dc0" stroke-width="9.1"/><path d="M1489.0 203.0L1505.5 187.0" stroke="#a096d6" stroke-width="5.0"/><path d="M1505.5 187.0L1522.0 171.0" stroke="#9c1010" stroke-width="12"/><path d="M1505.5 187.0L1522.0 171.0" stroke="#d81a1a" stroke-width="9.1"/><path d="M1505.5 187.0L1522.0 171.0" stroke="#f22626" stroke-width="5.0"/><path d="M1924.6 64.7L1937.3 122.3" stroke="#9c1010" stroke-width="12"/><path d="M1924.6 64.7L1937.3 122.3" stroke="#d81a1a" stroke-width="9.1"/><path d="M1924.6 64.7L1937.3 122.3" stroke="#f22626" stroke-width="5.0"/><path d="M1937.3 122.3L1950.0 180.0" stroke="#665c98" stroke-width="12"/><path d="M1937.3 122.3L1950.0 180.0" stroke="#887dc0" stroke-width="9.1"/><path d="M1937.3 122.3L1950.0 180.0" stroke="#a096d6" stroke-width="5.0"/><path d="M1950.0 180.0L1890.8 192.2" stroke="#665c98" stroke-width="12"/><path d="M1950.0 180.0L1890.8 192.2" stroke="#887dc0" stroke-width="9.1"/><path d="M1950.0 180.0L1890.8 192.2" stroke="#a096d6" stroke-width="5.0"/><path d="M1890.8 192.2L1831.7 204.5" stroke="#9c1010" stroke-width="12"/><path d="M1890.8 192.2L1831.7 204.5" stroke="#d81a1a" stroke-width="9.1"/><path d="M1890.8 192.2L1831.7 204.5" stroke="#f22626" stroke-width="5.0"/><path d="M1920.0 214.9L1926.8 268.8" stroke="#9c1010" stroke-width="12"/><path d="M1920.0 214.9L1926.8 268.8" stroke="#d81a1a" stroke-width="9.1"/><path d="M1920.0 214.9L1926.8 268.8" stroke="#f22626" stroke-width="5.0"/><path d="M1926.8 268.8L1933.5 322.7" stroke="#665c98" stroke-width="12"/><path d="M1926.8 268.8L1933.5 322.7" stroke="#887dc0" stroke-width="9.1"/><path d="M1926.8 268.8L1933.5 322.7" stroke="#a096d6" stroke-width="5.0"/><path d="M1950.0 180.0L1935.0 197.4" stroke="#665c98" stroke-width="12"/><path d="M1950.0 180.0L1935.0 197.4" stroke="#887dc0" stroke-width="9.1"/><path d="M1950.0 180.0L1935.0 197.4" stroke="#a096d6" stroke-width="5.0"/><path d="M1935.0 197.4L1920.0 214.9" stroke="#9c1010" stroke-width="12"/><path d="M1935.0 197.4L1920.0 214.9" stroke="#d81a1a" stroke-width="9.1"/><path d="M1935.0 197.4L1920.0 214.9" stroke="#f22626" stroke-width="5.0"/><path d="M1795.8 288.3L1756.2 292.1" stroke="#665c98" stroke-width="12"/><path d="M1795.8 288.3L1756.2 292.1" stroke="#887dc0" stroke-width="9.1"/><path d="M1795.8 288.3L1756.2 292.1" stroke="#a096d6" stroke-width="5.0"/><path d="M1756.2 292.1L1716.5 295.8" stroke="#9c1010" stroke-width="12"/><path d="M1756.2 292.1L1716.5 295.8" stroke="#d81a1a" stroke-width="9.1"/><path d="M1756.2 292.1L1716.5 295.8" stroke="#f22626" stroke-width="5.0"/><path d="M1432 108L1447 97" stroke="#181420" stroke-width="9" stroke-linecap="round"/><circle cx="1656.0" cy="120.1" r="25.6" fill="url(#gI)"/><circle cx="1924.6" cy="64.7" r="19.5" fill="url(#gO)"/><circle cx="1769.6" cy="156.7" r="18.9" fill="url(#gO)"/><circle cx="1489.0" cy="203.0" r="25.6" fill="url(#gI)"/><circle cx="1831.7" cy="204.5" r="18.2" fill="url(#gO)"/><circle cx="1920.0" cy="214.9" r="19.5" fill="url(#gO)"/><circle cx="1933.5" cy="322.7" r="21.0" fill="url(#gI)"/><circle cx="1716.5" cy="295.8" r="18.0" fill="url(#gO)"/><path d="M1610.7 180.0L1664.6 182.8" stroke="#9c1010" stroke-width="12"/><path d="M1610.7 180.0L1664.6 182.8" stroke="#d81a1a" stroke-width="9.1"/><path d="M1610.7 180.0L1664.6 182.8" stroke="#f22626" stroke-width="5.0"/><path d="M1664.6 182.8L1718.5 185.5" stroke="#229a76" stroke-width="12"/><path d="M1664.6 182.8L1718.5 185.5" stroke="#34cfa2" stroke-width="9.1"/><path d="M1664.6 182.8L1718.5 185.5" stroke="#48e6b8" stroke-width="5.0"/><path d="M1718.5 185.5L1778.5 212.9" stroke="#229a76" stroke-width="12"/><path d="M1718.5 185.5L1778.5 212.9" stroke="#34cfa2" stroke-width="9.1"/><path d="M1718.5 185.5L1778.5 212.9" stroke="#48e6b8" stroke-width="5.0"/><path d="M1778.5 212.9L1838.5 240.4" stroke="#9c1010" stroke-width="12"/><path d="M1778.5 212.9L1838.5 240.4" stroke="#d81a1a" stroke-width="9.1"/><path d="M1778.5 212.9L1838.5 240.4" stroke="#f22626" stroke-width="5.0"/><path d="M1838.5 240.4L1817.2 264.4" stroke="#9c1010" stroke-width="12"/><path d="M1838.5 240.4L1817.2 264.4" stroke="#d81a1a" stroke-width="9.1"/><path d="M1838.5 240.4L1817.2 264.4" stroke="#f22626" stroke-width="5.0"/><path d="M1817.2 264.4L1795.8 288.3" stroke="#665c98" stroke-width="12"/><path d="M1817.2 264.4L1795.8 288.3" stroke="#887dc0" stroke-width="9.1"/><path d="M1817.2 264.4L1795.8 288.3" stroke="#a096d6" stroke-width="5.0"/><path d="M1795.8 288.3L1852.3 306.2" stroke="#665c98" stroke-width="12"/><path d="M1795.8 288.3L1852.3 306.2" stroke="#887dc0" stroke-width="9.1"/><path d="M1795.8 288.3L1852.3 306.2" stroke="#a096d6" stroke-width="5.0"/><path d="M1852.3 306.2L1908.8 324.2" stroke="#9c1010" stroke-width="12"/><path d="M1852.3 306.2L1908.8 324.2" stroke="#d81a1a" stroke-width="9.1"/><path d="M1852.3 306.2L1908.8 324.2" stroke="#f22626" stroke-width="5.0"/><path d="M1950.0 180.0L1967.2 240.2" stroke="#665c98" stroke-width="12"/><path d="M1950.0 180.0L1967.2 240.2" stroke="#887dc0" stroke-width="9.1"/><path d="M1950.0 180.0L1967.2 240.2" stroke="#a096d6" stroke-width="5.0"/><path d="M1967.2 240.2L1984.4 300.3" stroke="#9c1010" stroke-width="12"/><path d="M1967.2 240.2L1984.4 300.3" stroke="#d81a1a" stroke-width="9.1"/><path d="M1967.2 240.2L1984.4 300.3" stroke="#f22626" stroke-width="5.0"/><path d="M1795.8 288.3L1738.7 276.3" stroke="#665c98" stroke-width="12"/><path d="M1795.8 288.3L1738.7 276.3" stroke="#887dc0" stroke-width="9.1"/><path d="M1795.8 288.3L1738.7 276.3" stroke="#a096d6" stroke-width="5.0"/><path d="M1738.7 276.3L1681.5 264.3" stroke="#9c1010" stroke-width="12"/><path d="M1738.7 276.3L1681.5 264.3" stroke="#d81a1a" stroke-width="9.1"/><path d="M1738.7 276.3L1681.5 264.3" stroke="#f22626" stroke-width="5.0"/><path d="M1795.8 288.3L1770.3 300.2" stroke="#665c98" stroke-width="12"/><path d="M1795.8 288.3L1770.3 300.2" stroke="#887dc0" stroke-width="9.1"/><path d="M1795.8 288.3L1770.3 300.2" stroke="#a096d6" stroke-width="5.0"/><path d="M1770.3 300.2L1744.9 312.2" stroke="#9c1010" stroke-width="12"/><path d="M1770.3 300.2L1744.9 312.2" stroke="#d81a1a" stroke-width="9.1"/><path d="M1770.3 300.2L1744.9 312.2" stroke="#f22626" stroke-width="5.0"/><path d="M1795.8 288.3L1774.1 314.5" stroke="#665c98" stroke-width="12"/><path d="M1795.8 288.3L1774.1 314.5" stroke="#887dc0" stroke-width="9.1"/><path d="M1795.8 288.3L1774.1 314.5" stroke="#a096d6" stroke-width="5.0"/><path d="M1774.1 314.5L1752.4 340.7" stroke="#9c1010" stroke-width="12"/><path d="M1774.1 314.5L1752.4 340.7" stroke="#d81a1a" stroke-width="9.1"/><path d="M1774.1 314.5L1752.4 340.7" stroke="#f22626" stroke-width="5.0"/><path d="M1574 272L1584 262" stroke="#181420" stroke-width="8" stroke-linecap="round"/><circle cx="1610.7" cy="180.0" r="18.7" fill="url(#gO)"/><circle cx="1592.4" cy="250.9" r="19.5" fill="url(#gO)"/><circle cx="1838.5" cy="240.4" r="18.7" fill="url(#gO)"/><circle cx="1795.8" cy="288.3" r="25.6" fill="url(#gI)"/><circle cx="1984.4" cy="300.3" r="16.5" fill="url(#gO)"/><path d="M1950.0 180.0L1971.7 166.1" stroke="#665c98" stroke-width="12"/><path d="M1950.0 180.0L1971.7 166.1" stroke="#887dc0" stroke-width="9.1"/><path d="M1950.0 180.0L1971.7 166.1" stroke="#a096d6" stroke-width="5.0"/><path d="M1971.7 166.1L1993.4 152.2" stroke="#9c1010" stroke-width="12"/><path d="M1971.7 166.1L1993.4 152.2" stroke="#d81a1a" stroke-width="9.1"/><path d="M1971.7 166.1L1993.4 152.2" stroke="#f22626" stroke-width="5.0"/><path d="M1718.5 185.5L1700.0 224.9" stroke="#229a76" stroke-width="12"/><path d="M1718.5 185.5L1700.0 224.9" stroke="#34cfa2" stroke-width="9.1"/><path d="M1718.5 185.5L1700.0 224.9" stroke="#48e6b8" stroke-width="5.0"/><path d="M1700.0 224.9L1681.5 264.3" stroke="#9c1010" stroke-width="12"/><path d="M1700.0 224.9L1681.5 264.3" stroke="#d81a1a" stroke-width="9.1"/><path d="M1700.0 224.9L1681.5 264.3" stroke="#f22626" stroke-width="5.0"/><path d="M1744.9 312.2L1748.7 326.4" stroke="#9c1010" stroke-width="12"/><path d="M1744.9 312.2L1748.7 326.4" stroke="#d81a1a" stroke-width="9.1"/><path d="M1744.9 312.2L1748.7 326.4" stroke="#f22626" stroke-width="5.0"/><path d="M1748.7 326.4L1752.4 340.7" stroke="#9c1010" stroke-width="12"/><path d="M1748.7 326.4L1752.4 340.7" stroke="#d81a1a" stroke-width="9.1"/><path d="M1748.7 326.4L1752.4 340.7" stroke="#f22626" stroke-width="5.0"/><path d="M1500 196L1513 186" stroke="#181420" stroke-width="8" stroke-linecap="round"/><path d="M1938 196L1928 204" stroke="#181420" stroke-width="8" stroke-linecap="round"/><circle cx="1522.0" cy="171.0" r="19.5" fill="url(#gO)"/><circle cx="1681.5" cy="264.3" r="19.3" fill="url(#gO)"/><circle cx="1950.0" cy="180.0" r="26.0" fill="url(#gI)"/><circle cx="1901.3" cy="288.3" r="18.2" fill="url(#gO)"/><circle cx="1744.9" cy="312.2" r="18.0" fill="url(#gO)"/><path d="M1962 176L1983 163" stroke="#201c28" stroke-width="8" stroke-linecap="round"/><circle cx="1718.5" cy="185.5" r="32.0" fill="url(#gM)"/><circle cx="1993.4" cy="152.2" r="17.0" fill="url(#gO)"/><circle cx="1908.8" cy="324.2" r="18.7" fill="url(#gO)"/><circle cx="1752.4" cy="340.7" r="17.0" fill="url(#gO)"/></g></g>
<rect x="1424" y="267" width="187.1" height="73.7" fill="#fbe8da" fill-opacity="0.86"/><text x="1454.6" y="313" font-size="30.5" fill="#1800ff" font-style="italic">ex situ</text>
<rect x="1438.2" y="28.4" width="32.7" height="8.3" fill="#2200ee"/><rect x="1495.2" y="28.4" width="32.7" height="8.3" fill="#2200ee"/><rect x="1552.3" y="28.4" width="32.7" height="8.3" fill="#2200ee"/><rect x="1609.3" y="28.4" width="32.7" height="8.3" fill="#2200ee"/><rect x="1666.4" y="28.4" width="32.7" height="8.3" fill="#2200ee"/><rect x="1723.4" y="28.4" width="32.7" height="8.3" fill="#2200ee"/><rect x="1780.5" y="28.4" width="32.7" height="8.3" fill="#2200ee"/><rect x="1837.5" y="28.4" width="32.7" height="8.3" fill="#2200ee"/><rect x="1894.6" y="28.4" width="32.7" height="8.3" fill="#2200ee"/><rect x="1951.6" y="28.4" width="32.7" height="8.3" fill="#2200ee"/><rect x="1420.0" y="345.7" width="32.7" height="8.3" fill="#2200ee"/><rect x="1477.0" y="345.7" width="32.7" height="8.3" fill="#2200ee"/><rect x="1534.1" y="345.7" width="32.7" height="8.3" fill="#2200ee"/><rect x="1591.1" y="345.7" width="32.7" height="8.3" fill="#2200ee"/><rect x="1648.2" y="345.7" width="32.7" height="8.3" fill="#2200ee"/><rect x="1705.2" y="345.7" width="32.7" height="8.3" fill="#2200ee"/><rect x="1762.3" y="345.7" width="32.7" height="8.3" fill="#2200ee"/><rect x="1819.3" y="345.7" width="32.7" height="8.3" fill="#2200ee"/><rect x="1876.4" y="345.7" width="32.7" height="8.3" fill="#2200ee"/><rect x="1933.4" y="345.7" width="32.7" height="8.3" fill="#2200ee"/><rect x="1990.5" y="345.7" width="13.5" height="8.3" fill="#2200ee"/><rect x="1415.6" y="38.5" width="8.3" height="32.7" fill="#2200ee"/><rect x="1415.6" y="95.5" width="8.3" height="32.7" fill="#2200ee"/><rect x="1415.6" y="152.6" width="8.3" height="32.7" fill="#2200ee"/><rect x="1415.6" y="209.6" width="8.3" height="32.7" fill="#2200ee"/><rect x="1415.6" y="266.7" width="8.3" height="32.7" fill="#2200ee"/><rect x="1415.6" y="323.8" width="8.3" height="30.2" fill="#2200ee"/><rect x="1995.8" y="41.8" width="8.3" height="32.7" fill="#2200ee"/><rect x="1995.8" y="98.8" width="8.3" height="32.7" fill="#2200ee"/><rect x="1995.8" y="155.9" width="8.3" height="32.7" fill="#2200ee"/><rect x="1995.8" y="212.9" width="8.3" height="32.7" fill="#2200ee"/><rect x="1995.8" y="270.0" width="8.3" height="32.7" fill="#2200ee"/><rect x="1995.8" y="327.1" width="8.3" height="26.9" fill="#2200ee"/>
<clipPath id="cd2"><rect x="1424" y="397.3" width="571.7" height="307.1"/></clipPath>
<g clip-path="url(#cd2)"><g fill="none" stroke-linecap="butt" filter="url(#soft)"><path d="M1392.0 492.0L1436.8 544.5" stroke="#665c98" stroke-width="12"/><path d="M1392.0 492.0L1436.8 544.5" stroke="#887dc0" stroke-width="9.1"/><path d="M1392.0 492.0L1436.8 544.5" stroke="#a096d6" stroke-width="5.0"/><path d="M1436.8 544.5L1481.7 597.0" stroke="#665c98" stroke-width="12"/><path d="M1436.8 544.5L1481.7 597.0" stroke="#887dc0" stroke-width="9.1"/><path d="M1436.8 544.5L1481.7 597.0" stroke="#a096d6" stroke-width="5.0"/><path d="M1938.5 405.0L1974.2 390.0" stroke="#9c1010" stroke-width="12"/><path d="M1938.5 405.0L1974.2 390.0" stroke="#d81a1a" stroke-width="9.1"/><path d="M1938.5 405.0L1974.2 390.0" stroke="#f22626" stroke-width="5.0"/><path d="M1974.2 390.0L2010.0 375.0" stroke="#9c1010" stroke-width="12"/><path d="M1974.2 390.0L2010.0 375.0" stroke="#d81a1a" stroke-width="9.1"/><path d="M1974.2 390.0L2010.0 375.0" stroke="#f22626" stroke-width="5.0"/><path d="M1971.0 520.0L2005.5 457.5" stroke="#665c98" stroke-width="7"/><path d="M1971.0 520.0L2005.5 457.5" stroke="#887dc0" stroke-width="5.3"/><path d="M1971.0 520.0L2005.5 457.5" stroke="#a096d6" stroke-width="2.9"/><path d="M2005.5 457.5L2040.0 395.0" stroke="#665c98" stroke-width="7"/><path d="M2005.5 457.5L2040.0 395.0" stroke="#887dc0" stroke-width="5.3"/><path d="M2005.5 457.5L2040.0 395.0" stroke="#a096d6" stroke-width="2.9"/><path d="M1930.8 650.0L1995.4 643.0" stroke="#9c1010" stroke-width="12"/><path d="M1930.8 650.0L1995.4 643.0" stroke="#d81a1a" stroke-width="9.1"/><path d="M1930.8 650.0L1995.4 643.0" stroke="#f22626" stroke-width="5.0"/><path d="M1995.4 643.0L2060.0 636.0" stroke="#665c98" stroke-width="12"/><path d="M1995.4 643.0L2060.0 636.0" stroke="#887dc0" stroke-width="9.1"/><path d="M1995.4 643.0L2060.0 636.0" stroke="#a096d6" stroke-width="5.0"/><path d="M1930.8 650.0L1911.9 687.5" stroke="#9c1010" stroke-width="12"/><path d="M1930.8 650.0L1911.9 687.5" stroke="#d81a1a" stroke-width="9.1"/><path d="M1930.8 650.0L1911.9 687.5" stroke="#f22626" stroke-width="5.0"/><path d="M1911.9 687.5L1893.0 725.0" stroke="#9c1010" stroke-width="12"/><path d="M1911.9 687.5L1893.0 725.0" stroke="#d81a1a" stroke-width="9.1"/><path d="M1911.9 687.5L1893.0 725.0" stroke="#f22626" stroke-width="5.0"/><path d="M1930.8 650.0L1941.4 687.5" stroke="#9c1010" stroke-width="12"/><path d="M1930.8 650.0L1941.4 687.5" stroke="#d81a1a" stroke-width="9.1"/><path d="M1930.8 650.0L1941.4 687.5" stroke="#f22626" stroke-width="5.0"/><path d="M1941.4 687.5L1952.0 725.0" stroke="#9c1010" stroke-width="12"/><path d="M1941.4 687.5L1952.0 725.0" stroke="#d81a1a" stroke-width="9.1"/><path d="M1941.4 687.5L1952.0 725.0" stroke="#f22626" stroke-width="5.0"/><path d="M1936.3 628.0L1975.7 666.5" stroke="#665c98" stroke-width="12"/><path d="M1936.3 628.0L1975.7 666.5" stroke="#887dc0" stroke-width="9.1"/><path d="M1936.3 628.0L1975.7 666.5" stroke="#a096d6" stroke-width="5.0"/><path d="M1975.7 666.5L2015.0 705.0" stroke="#665c98" stroke-width="12"/><path d="M1975.7 666.5L2015.0 705.0" stroke="#887dc0" stroke-width="9.1"/><path d="M1975.7 666.5L2015.0 705.0" stroke="#a096d6" stroke-width="5.0"/><path d="M1936.3 628.0L1983.2 658.0" stroke="#665c98" stroke-width="12"/><path d="M1936.3 628.0L1983.2 658.0" stroke="#887dc0" stroke-width="9.1"/><path d="M1936.3 628.0L1983.2 658.0" stroke="#a096d6" stroke-width="5.0"/><path d="M1983.2 658.0L2030.0 688.0" stroke="#665c98" stroke-width="12"/><path d="M1983.2 658.0L2030.0 688.0" stroke="#887dc0" stroke-width="9.1"/><path d="M1983.2 658.0L2030.0 688.0" stroke="#a096d6" stroke-width="5.0"/><path d="M1971.0 520.0L1998.0 555.0" stroke="#665c98" stroke-width="12"/><path d="M1971.0 520.0L1998.0 555.0" stroke="#887dc0" stroke-width="9.1"/><path d="M1971.0 520.0L1998.0 555.0" stroke="#a096d6" stroke-width="5.0"/><path d="M1998.0 555.0L2025.0 590.0" stroke="#665c98" stroke-width="12"/><path d="M1998.0 555.0L2025.0 590.0" stroke="#887dc0" stroke-width="9.1"/><path d="M1998.0 555.0L2025.0 590.0" stroke="#a096d6" stroke-width="5.0"/><path d="M1971.0 520.0L1991.5 572.5" stroke="#665c98" stroke-width="12"/><path d="M1971.0 520.0L1991.5 572.5" stroke="#887dc0" stroke-width="9.1"/><path d="M1971.0 520.0L1991.5 572.5" stroke="#a096d6" stroke-width="5.0"/><path d="M1991.5 572.5L2012.0 625.0" stroke="#665c98" stroke-width="12"/><path d="M1991.5 572.5L2012.0 625.0" stroke="#887dc0" stroke-width="9.1"/><path d="M1991.5 572.5L2012.0 625.0" stroke="#a096d6" stroke-width="5.0"/><path d="M1481.7 597.0L1435.8 609.5" stroke="#665c98" stroke-width="12"/><path d="M1481.7 597.0L1435.8 609.5" stroke="#887dc0" stroke-width="9.1"/><path d="M1481.7 597.0L1435.8 609.5" stroke="#a096d6" stroke-width="5.0"/><path d="M1435.8 609.5L1390.0 622.0" stroke="#9c1010" stroke-width="12"/><path d="M1435.8 609.5L1390.0 622.0" stroke="#d81a1a" stroke-width="9.1"/><path d="M1435.8 609.5L1390.0 622.0" stroke="#f22626" stroke-width="5.0"/><path d="M1481.7 597.0L1436.8 618.5" stroke="#665c98" stroke-width="12"/><path d="M1481.7 597.0L1436.8 618.5" stroke="#887dc0" stroke-width="9.1"/><path d="M1481.7 597.0L1436.8 618.5" stroke="#a096d6" stroke-width="5.0"/><path d="M1436.8 618.5L1392.0 640.0" stroke="#9c1010" stroke-width="12"/><path d="M1436.8 618.5L1392.0 640.0" stroke="#d81a1a" stroke-width="9.1"/><path d="M1436.8 618.5L1392.0 640.0" stroke="#f22626" stroke-width="5.0"/><path d="M1481.7 597.0L1451.8 659.5" stroke="#665c98" stroke-width="12"/><path d="M1481.7 597.0L1451.8 659.5" stroke="#887dc0" stroke-width="9.1"/><path d="M1481.7 597.0L1451.8 659.5" stroke="#a096d6" stroke-width="5.0"/><path d="M1451.8 659.5L1422.0 722.0" stroke="#665c98" stroke-width="12"/><path d="M1451.8 659.5L1422.0 722.0" stroke="#887dc0" stroke-width="9.1"/><path d="M1451.8 659.5L1422.0 722.0" stroke="#a096d6" stroke-width="5.0"/><path d="M1481.7 597.0L1466.8 659.5" stroke="#665c98" stroke-width="12"/><path d="M1481.7 597.0L1466.8 659.5" stroke="#887dc0" stroke-width="9.1"/><path d="M1481.7 597.0L1466.8 659.5" stroke="#a096d6" stroke-width="5.0"/><path d="M1466.8 659.5L1452.0 722.0" stroke="#665c98" stroke-width="12"/><path d="M1466.8 659.5L1452.0 722.0" stroke="#887dc0" stroke-width="9.1"/><path d="M1466.8 659.5L1452.0 722.0" stroke="#a096d6" stroke-width="5.0"/><path d="M1481.7 597.0L1496.8 659.5" stroke="#665c98" stroke-width="12"/><path d="M1481.7 597.0L1496.8 659.5" stroke="#887dc0" stroke-width="9.1"/><path d="M1481.7 597.0L1496.8 659.5" stroke="#a096d6" stroke-width="5.0"/><path d="M1496.8 659.5L1512.0 722.0" stroke="#9c1010" stroke-width="12"/><path d="M1496.8 659.5L1512.0 722.0" stroke="#d81a1a" stroke-width="9.1"/><path d="M1496.8 659.5L1512.0 722.0" stroke="#f22626" stroke-width="5.0"/><path d="M1574.0 687.5L1567.0 704.8" stroke="#665c98" stroke-width="12"/><path d="M1574.0 687.5L1567.0 704.8" stroke="#887dc0" stroke-width="9.1"/><path d="M1574.0 687.5L1567.0 704.8" stroke="#a096d6" stroke-width="5.0"/><path d="M1567.0 704.8L1560.0 722.0" stroke="#665c98" stroke-width="12"/><path d="M1567.0 704.8L1560.0 722.0" stroke="#887dc0" stroke-width="9.1"/><path d="M1567.0 704.8L1560.0 722.0" stroke="#a096d6" stroke-width="5.0"/><path d="M1574.0 687.5L1587.0 704.8" stroke="#665c98" stroke-width="12"/><path d="M1574.0 687.5L1587.0 704.8" stroke="#887dc0" stroke-width="9.1"/><path d="M1574.0 687.5L1587.0 704.8" stroke="#a096d6" stroke-width="5.0"/><path d="M1587.0 704.8L1600.0 722.0" stroke="#665c98" stroke-width="12"/><path d="M1587.0 704.8L1600.0 722.0" stroke="#887dc0" stroke-width="9.1"/><path d="M1587.0 704.8L1600.0 722.0" stroke="#a096d6" stroke-width="5.0"/><path d="M1614.0 682.0L1627.0 706.0" stroke="#9c1010" stroke-width="12"/><path d="M1614.0 682.0L1627.0 706.0" stroke="#d81a1a" stroke-width="9.1"/><path d="M1614.0 682.0L1627.0 706.0" stroke="#f22626" stroke-width="5.0"/><path d="M1627.0 706.0L1640.0 730.0" stroke="#9c1010" stroke-width="12"/><path d="M1627.0 706.0L1640.0 730.0" stroke="#d81a1a" stroke-width="9.1"/><path d="M1627.0 706.0L1640.0 730.0" stroke="#f22626" stroke-width="5.0"/><path d="M1831.7 691.0L1840.8 715.5" stroke="#665c98" stroke-width="12"/><path d="M1831.7 691.0L1840.8 715.5" stroke="#887dc0" stroke-width="9.1"/><path d="M1831.7 691.0L1840.8 715.5" stroke="#a096d6" stroke-width="5.0"/><path d="M1840.8 715.5L1850.0 740.0" stroke="#665c98" stroke-width="12"/><path d="M1840.8 715.5L1850.0 740.0" stroke="#887dc0" stroke-width="9.1"/><path d="M1840.8 715.5L1850.0 740.0" stroke="#a096d6" stroke-width="5.0"/><path d="M1755.5 687.5L1762.8 708.8" stroke="#9c1010" stroke-width="12"/><path d="M1755.5 687.5L1762.8 708.8" stroke="#d81a1a" stroke-width="9.1"/><path d="M1755.5 687.5L1762.8 708.8" stroke="#f22626" stroke-width="5.0"/><path d="M1762.8 708.8L1770.0 730.0" stroke="#9c1010" stroke-width="12"/><path d="M1762.8 708.8L1770.0 730.0" stroke="#d81a1a" stroke-width="9.1"/><path d="M1762.8 708.8L1770.0 730.0" stroke="#f22626" stroke-width="5.0"/><path d="M1870.5 630.6L1881.2 676.3" stroke="#9c1010" stroke-width="12"/><path d="M1870.5 630.6L1881.2 676.3" stroke="#d81a1a" stroke-width="9.1"/><path d="M1870.5 630.6L1881.2 676.3" stroke="#f22626" stroke-width="5.0"/><path d="M1881.2 676.3L1892.0 722.0" stroke="#665c98" stroke-width="12"/><path d="M1881.2 676.3L1892.0 722.0" stroke="#887dc0" stroke-width="9.1"/><path d="M1881.2 676.3L1892.0 722.0" stroke="#a096d6" stroke-width="5.0"/><path d="M1439.0 483.8L1482.4 475.6" stroke="#9c1010" stroke-width="12"/><path d="M1439.0 483.8L1482.4 475.6" stroke="#d81a1a" stroke-width="9.1"/><path d="M1439.0 483.8L1482.4 475.6" stroke="#f22626" stroke-width="5.0"/><path d="M1482.4 475.6L1525.8 467.3" stroke="#9c1010" stroke-width="12"/><path d="M1482.4 475.6L1525.8 467.3" stroke="#d81a1a" stroke-width="9.1"/><path d="M1482.4 475.6L1525.8 467.3" stroke="#f22626" stroke-width="5.0"/><path d="M1525.8 467.3L1590.9 479.9" stroke="#9c1010" stroke-width="12"/><path d="M1525.8 467.3L1590.9 479.9" stroke="#d81a1a" stroke-width="9.1"/><path d="M1525.8 467.3L1590.9 479.9" stroke="#f22626" stroke-width="5.0"/><path d="M1590.9 479.9L1656.0 492.5" stroke="#665c98" stroke-width="12"/><path d="M1590.9 479.9L1656.0 492.5" stroke="#887dc0" stroke-width="9.1"/><path d="M1590.9 479.9L1656.0 492.5" stroke="#a096d6" stroke-width="5.0"/><path d="M1696.0 431.5L1704.7 487.6" stroke="#9c1010" stroke-width="12"/><path d="M1696.0 431.5L1704.7 487.6" stroke="#d81a1a" stroke-width="9.1"/><path d="M1696.0 431.5L1704.7 487.6" stroke="#f22626" stroke-width="5.0"/><path d="M1704.7 487.6L1713.4 543.7" stroke="#665c98" stroke-width="12"/><path d="M1704.7 487.6L1713.4 543.7" stroke="#887dc0" stroke-width="9.1"/><path d="M1704.7 487.6L1713.4 543.7" stroke="#a096d6" stroke-width="5.0"/><path d="M1713.4 543.7L1778.7 546.6" stroke="#665c98" stroke-width="12"/><path d="M1713.4 543.7L1778.7 546.6" stroke="#887dc0" stroke-width="9.1"/><path d="M1713.4 543.7L1778.7 546.6" stroke="#a096d6" stroke-width="5.0"/><path d="M1778.7 546.6L1844.0 549.5" stroke="#9c1010" stroke-width="12"/><path d="M1778.7 546.6L1844.0 549.5" stroke="#d81a1a" stroke-width="9.1"/><path d="M1778.7 546.6L1844.0 549.5" stroke="#f22626" stroke-width="5.0"/><circle cx="1525.8" cy="467.3" r="19.5" fill="url(#gO)"/><circle cx="1433.0" cy="605.0" r="16.0" fill="url(#gO)"/><path d="M1656.0 492.5L1676.0 462.0" stroke="#665c98" stroke-width="12"/><path d="M1656.0 492.5L1676.0 462.0" stroke="#887dc0" stroke-width="9.1"/><path d="M1656.0 492.5L1676.0 462.0" stroke="#a096d6" stroke-width="5.0"/><path d="M1676.0 462.0L1696.0 431.5" stroke="#9c1010" stroke-width="12"/><path d="M1676.0 462.0L1696.0 431.5" stroke="#d81a1a" stroke-width="9.1"/><path d="M1676.0 462.0L1696.0 431.5" stroke="#f22626" stroke-width="5.0"/><path d="M1439.0 483.8L1460.3 540.4" stroke="#9c1010" stroke-width="12"/><path d="M1439.0 483.8L1460.3 540.4" stroke="#d81a1a" stroke-width="9.1"/><path d="M1439.0 483.8L1460.3 540.4" stroke="#f22626" stroke-width="5.0"/><path d="M1460.3 540.4L1481.7 597.0" stroke="#665c98" stroke-width="12"/><path d="M1460.3 540.4L1481.7 597.0" stroke="#887dc0" stroke-width="9.1"/><path d="M1460.3 540.4L1481.7 597.0" stroke="#a096d6" stroke-width="5.0"/><path d="M1936.3 628.0L1932.4 580.8" stroke="#665c98" stroke-width="12"/><path d="M1936.3 628.0L1932.4 580.8" stroke="#887dc0" stroke-width="9.1"/><path d="M1936.3 628.0L1932.4 580.8" stroke="#a096d6" stroke-width="5.0"/><path d="M1932.4 580.8L1928.5 533.5" stroke="#9c1010" stroke-width="12"/><path d="M1932.4 580.8L1928.5 533.5" stroke="#d81a1a" stroke-width="9.1"/><path d="M1932.4 580.8L1928.5 533.5" stroke="#f22626" stroke-width="5.0"/><path d="M1525.5 582.8L1549.8 635.1" stroke="#9c1010" stroke-width="12"/><path d="M1525.5 582.8L1549.8 635.1" stroke="#d81a1a" stroke-width="9.1"/><path d="M1525.5 582.8L1549.8 635.1" stroke="#f22626" stroke-width="5.0"/><path d="M1549.8 635.1L1574.0 687.5" stroke="#665c98" stroke-width="12"/><path d="M1549.8 635.1L1574.0 687.5" stroke="#887dc0" stroke-width="9.1"/><path d="M1549.8 635.1L1574.0 687.5" stroke="#a096d6" stroke-width="5.0"/><path d="M1481.7 597.0L1527.8 642.2" stroke="#665c98" stroke-width="12"/><path d="M1481.7 597.0L1527.8 642.2" stroke="#887dc0" stroke-width="9.1"/><path d="M1481.7 597.0L1527.8 642.2" stroke="#a096d6" stroke-width="5.0"/><path d="M1527.8 642.2L1574.0 687.5" stroke="#665c98" stroke-width="12"/><path d="M1527.8 642.2L1574.0 687.5" stroke="#887dc0" stroke-width="9.1"/><path d="M1527.8 642.2L1574.0 687.5" stroke="#a096d6" stroke-width="5.0"/><path d="M1574.0 687.5L1639.0 677.0" stroke="#665c98" stroke-width="12"/><path d="M1574.0 687.5L1639.0 677.0" stroke="#887dc0" stroke-width="9.1"/><path d="M1574.0 687.5L1639.0 677.0" stroke="#a096d6" stroke-width="5.0"/><path d="M1639.0 677.0L1704.0 666.5" stroke="#9c1010" stroke-width="12"/><path d="M1639.0 677.0L1704.0 666.5" stroke="#d81a1a" stroke-width="9.1"/><path d="M1639.0 677.0L1704.0 666.5" stroke="#f22626" stroke-width="5.0"/><path d="M1574.0 687.5L1594.0 684.8" stroke="#665c98" stroke-width="12"/><path d="M1574.0 687.5L1594.0 684.8" stroke="#887dc0" stroke-width="9.1"/><path d="M1574.0 687.5L1594.0 684.8" stroke="#a096d6" stroke-width="5.0"/><path d="M1594.0 684.8L1614.0 682.0" stroke="#9c1010" stroke-width="12"/><path d="M1594.0 684.8L1614.0 682.0" stroke="#d81a1a" stroke-width="9.1"/><path d="M1594.0 684.8L1614.0 682.0" stroke="#f22626" stroke-width="5.0"/><path d="M1831.7 691.0L1809.8 694.0" stroke="#665c98" stroke-width="12"/><path d="M1831.7 691.0L1809.8 694.0" stroke="#887dc0" stroke-width="9.1"/><path d="M1831.7 691.0L1809.8 694.0" stroke="#a096d6" stroke-width="5.0"/><path d="M1809.8 694.0L1788.0 697.0" stroke="#9c1010" stroke-width="12"/><path d="M1809.8 694.0L1788.0 697.0" stroke="#d81a1a" stroke-width="9.1"/><path d="M1809.8 694.0L1788.0 697.0" stroke="#f22626" stroke-width="5.0"/><path d="M1831.7 691.0L1860.8 694.0" stroke="#665c98" stroke-width="12"/><path d="M1831.7 691.0L1860.8 694.0" stroke="#887dc0" stroke-width="9.1"/><path d="M1831.7 691.0L1860.8 694.0" stroke="#a096d6" stroke-width="5.0"/><path d="M1860.8 694.0L1890.0 697.0" stroke="#9c1010" stroke-width="12"/><path d="M1860.8 694.0L1890.0 697.0" stroke="#d81a1a" stroke-width="9.1"/><path d="M1860.8 694.0L1890.0 697.0" stroke="#f22626" stroke-width="5.0"/><circle cx="1439.0" cy="483.8" r="17.2" fill="url(#gO)"/><circle cx="1696.0" cy="431.5" r="20.0" fill="url(#gO)"/><circle cx="1928.5" cy="533.5" r="17.0" fill="url(#gO)"/><circle cx="1574.0" cy="687.5" r="21.0" fill="url(#gI)"/><circle cx="1788.0" cy="697.0" r="15.0" fill="url(#gO)"/><circle cx="1890.0" cy="697.0" r="13.0" fill="url(#gO)"/><path d="M1656.0 492.5L1634.1 528.8" stroke="#665c98" stroke-width="12"/><path d="M1656.0 492.5L1634.1 528.8" stroke="#887dc0" stroke-width="9.1"/><path d="M1656.0 492.5L1634.1 528.8" stroke="#a096d6" stroke-width="5.0"/><path d="M1634.1 528.8L1612.2 565.0" stroke="#9c1010" stroke-width="12"/><path d="M1634.1 528.8L1612.2 565.0" stroke="#d81a1a" stroke-width="9.1"/><path d="M1634.1 528.8L1612.2 565.0" stroke="#f22626" stroke-width="5.0"/><path d="M1656.0 492.5L1665.5 539.1" stroke="#665c98" stroke-width="12"/><path d="M1656.0 492.5L1665.5 539.1" stroke="#887dc0" stroke-width="9.1"/><path d="M1656.0 492.5L1665.5 539.1" stroke="#a096d6" stroke-width="5.0"/><path d="M1665.5 539.1L1675.0 585.8" stroke="#9c1010" stroke-width="12"/><path d="M1665.5 539.1L1675.0 585.8" stroke="#d81a1a" stroke-width="9.1"/><path d="M1665.5 539.1L1675.0 585.8" stroke="#f22626" stroke-width="5.0"/><path d="M1656.0 492.5L1728.9 557.9" stroke="#665c98" stroke-width="12"/><path d="M1656.0 492.5L1728.9 557.9" stroke="#887dc0" stroke-width="9.1"/><path d="M1656.0 492.5L1728.9 557.9" stroke="#a096d6" stroke-width="5.0"/><path d="M1728.9 557.9L1801.8 623.2" stroke="#665c98" stroke-width="12"/><path d="M1728.9 557.9L1801.8 623.2" stroke="#887dc0" stroke-width="9.1"/><path d="M1728.9 557.9L1801.8 623.2" stroke="#a096d6" stroke-width="5.0"/><path d="M1656.0 492.5L1743.8 591.8" stroke="#665c98" stroke-width="12"/><path d="M1656.0 492.5L1743.8 591.8" stroke="#887dc0" stroke-width="9.1"/><path d="M1656.0 492.5L1743.8 591.8" stroke="#a096d6" stroke-width="5.0"/><path d="M1743.8 591.8L1831.7 691.0" stroke="#665c98" stroke-width="12"/><path d="M1743.8 591.8L1831.7 691.0" stroke="#887dc0" stroke-width="9.1"/><path d="M1743.8 591.8L1831.7 691.0" stroke="#a096d6" stroke-width="5.0"/><path d="M1656.0 492.5L1720.5 512.2" stroke="#665c98" stroke-width="12"/><path d="M1656.0 492.5L1720.5 512.2" stroke="#887dc0" stroke-width="9.1"/><path d="M1656.0 492.5L1720.5 512.2" stroke="#a096d6" stroke-width="5.0"/><path d="M1720.5 512.2L1785.0 532.0" stroke="#9c1010" stroke-width="12"/><path d="M1720.5 512.2L1785.0 532.0" stroke="#d81a1a" stroke-width="9.1"/><path d="M1720.5 512.2L1785.0 532.0" stroke="#f22626" stroke-width="5.0"/><path d="M1481.7 597.0L1547.0 581.0" stroke="#665c98" stroke-width="12"/><path d="M1481.7 597.0L1547.0 581.0" stroke="#887dc0" stroke-width="9.1"/><path d="M1481.7 597.0L1547.0 581.0" stroke="#a096d6" stroke-width="5.0"/><path d="M1547.0 581.0L1612.2 565.0" stroke="#9c1010" stroke-width="12"/><path d="M1547.0 581.0L1612.2 565.0" stroke="#d81a1a" stroke-width="9.1"/><path d="M1547.0 581.0L1612.2 565.0" stroke="#f22626" stroke-width="5.0"/><path d="M1481.7 597.0L1503.6 589.9" stroke="#665c98" stroke-width="12"/><path d="M1481.7 597.0L1503.6 589.9" stroke="#887dc0" stroke-width="9.1"/><path d="M1481.7 597.0L1503.6 589.9" stroke="#a096d6" stroke-width="5.0"/><path d="M1503.6 589.9L1525.5 582.8" stroke="#9c1010" stroke-width="12"/><path d="M1503.6 589.9L1525.5 582.8" stroke="#d81a1a" stroke-width="9.1"/><path d="M1503.6 589.9L1525.5 582.8" stroke="#f22626" stroke-width="5.0"/><path d="M1734.2 543.8L1740.3 498.8" stroke="#229a76" stroke-width="12"/><path d="M1734.2 543.8L1740.3 498.8" stroke="#34cfa2" stroke-width="9.1"/><path d="M1734.2 543.8L1740.3 498.8" stroke="#48e6b8" stroke-width="5.0"/><path d="M1740.3 498.8L1746.4 453.9" stroke="#9c1010" stroke-width="12"/><path d="M1740.3 498.8L1746.4 453.9" stroke="#d81a1a" stroke-width="9.1"/><path d="M1740.3 498.8L1746.4 453.9" stroke="#f22626" stroke-width="5.0"/><path d="M1746.4 453.9L1771.5 447.7" stroke="#9c1010" stroke-width="12"/><path d="M1746.4 453.9L1771.5 447.7" stroke="#d81a1a" stroke-width="9.1"/><path d="M1746.4 453.9L1771.5 447.7" stroke="#f22626" stroke-width="5.0"/><path d="M1771.5 447.7L1796.6 441.5" stroke="#1a2a9a" stroke-width="12"/><path d="M1771.5 447.7L1796.6 441.5" stroke="#2844cc" stroke-width="9.1"/><path d="M1771.5 447.7L1796.6 441.5" stroke="#3458e8" stroke-width="5.0"/><path d="M1938.5 405.0L1954.8 462.5" stroke="#9c1010" stroke-width="12"/><path d="M1938.5 405.0L1954.8 462.5" stroke="#d81a1a" stroke-width="9.1"/><path d="M1938.5 405.0L1954.8 462.5" stroke="#f22626" stroke-width="5.0"/><path d="M1954.8 462.5L1971.0 520.0" stroke="#665c98" stroke-width="12"/><path d="M1954.8 462.5L1971.0 520.0" stroke="#887dc0" stroke-width="9.1"/><path d="M1954.8 462.5L1971.0 520.0" stroke="#a096d6" stroke-width="5.0"/><path d="M1844.0 549.5L1822.9 586.4" stroke="#9c1010" stroke-width="12"/><path d="M1844.0 549.5L1822.9 586.4" stroke="#d81a1a" stroke-width="9.1"/><path d="M1844.0 549.5L1822.9 586.4" stroke="#f22626" stroke-width="5.0"/><path d="M1822.9 586.4L1801.8 623.2" stroke="#665c98" stroke-width="12"/><path d="M1822.9 586.4L1801.8 623.2" stroke="#887dc0" stroke-width="9.1"/><path d="M1822.9 586.4L1801.8 623.2" stroke="#a096d6" stroke-width="5.0"/><path d="M1801.8 623.2L1738.4 604.5" stroke="#665c98" stroke-width="12"/><path d="M1801.8 623.2L1738.4 604.5" stroke="#887dc0" stroke-width="9.1"/><path d="M1801.8 623.2L1738.4 604.5" stroke="#a096d6" stroke-width="5.0"/><path d="M1738.4 604.5L1675.0 585.8" stroke="#9c1010" stroke-width="12"/><path d="M1738.4 604.5L1675.0 585.8" stroke="#d81a1a" stroke-width="9.1"/><path d="M1738.4 604.5L1675.0 585.8" stroke="#f22626" stroke-width="5.0"/><path d="M1801.8 623.2L1816.8 657.1" stroke="#665c98" stroke-width="12"/><path d="M1801.8 623.2L1816.8 657.1" stroke="#887dc0" stroke-width="9.1"/><path d="M1801.8 623.2L1816.8 657.1" stroke="#a096d6" stroke-width="5.0"/><path d="M1816.8 657.1L1831.7 691.0" stroke="#665c98" stroke-width="12"/><path d="M1816.8 657.1L1831.7 691.0" stroke="#887dc0" stroke-width="9.1"/><path d="M1816.8 657.1L1831.7 691.0" stroke="#a096d6" stroke-width="5.0"/><path d="M1716.0 620.5L1710.0 643.5" stroke="#9c1010" stroke-width="12"/><path d="M1716.0 620.5L1710.0 643.5" stroke="#d81a1a" stroke-width="9.1"/><path d="M1716.0 620.5L1710.0 643.5" stroke="#f22626" stroke-width="5.0"/><path d="M1710.0 643.5L1704.0 666.5" stroke="#9c1010" stroke-width="12"/><path d="M1710.0 643.5L1704.0 666.5" stroke="#d81a1a" stroke-width="9.1"/><path d="M1710.0 643.5L1704.0 666.5" stroke="#f22626" stroke-width="5.0"/><path d="M1801.8 623.2L1758.9 621.9" stroke="#665c98" stroke-width="12"/><path d="M1801.8 623.2L1758.9 621.9" stroke="#887dc0" stroke-width="9.1"/><path d="M1801.8 623.2L1758.9 621.9" stroke="#a096d6" stroke-width="5.0"/><path d="M1758.9 621.9L1716.0 620.5" stroke="#9c1010" stroke-width="12"/><path d="M1758.9 621.9L1716.0 620.5" stroke="#d81a1a" stroke-width="9.1"/><path d="M1758.9 621.9L1716.0 620.5" stroke="#f22626" stroke-width="5.0"/><path d="M1801.8 623.2L1836.2 626.9" stroke="#665c98" stroke-width="12"/><path d="M1801.8 623.2L1836.2 626.9" stroke="#887dc0" stroke-width="9.1"/><path d="M1801.8 623.2L1836.2 626.9" stroke="#a096d6" stroke-width="5.0"/><path d="M1836.2 626.9L1870.5 630.6" stroke="#9c1010" stroke-width="12"/><path d="M1836.2 626.9L1870.5 630.6" stroke="#d81a1a" stroke-width="9.1"/><path d="M1836.2 626.9L1870.5 630.6" stroke="#f22626" stroke-width="5.0"/><circle cx="1656.0" cy="492.5" r="26.5" fill="url(#gI)"/><circle cx="1746.4" cy="453.9" r="20.5" fill="url(#gO)"/><circle cx="1938.5" cy="405.0" r="20.5" fill="url(#gO)"/><circle cx="1481.7" cy="597.0" r="27.0" fill="url(#gI)"/><circle cx="1716.0" cy="620.5" r="18.0" fill="url(#gO)"/><circle cx="1614.0" cy="682.0" r="18.0" fill="url(#gO)"/><circle cx="1801.8" cy="623.2" r="27.0" fill="url(#gI)"/><circle cx="1936.3" cy="628.0" r="25.0" fill="url(#gI)"/><path d="M1612.2 565.0L1673.2 554.4" stroke="#9c1010" stroke-width="12"/><path d="M1612.2 565.0L1673.2 554.4" stroke="#d81a1a" stroke-width="9.1"/><path d="M1612.2 565.0L1673.2 554.4" stroke="#f22626" stroke-width="5.0"/><path d="M1673.2 554.4L1734.2 543.8" stroke="#229a76" stroke-width="12"/><path d="M1673.2 554.4L1734.2 543.8" stroke="#34cfa2" stroke-width="9.1"/><path d="M1673.2 554.4L1734.2 543.8" stroke="#48e6b8" stroke-width="5.0"/><path d="M1971.0 520.0L1907.5 534.8" stroke="#665c98" stroke-width="12"/><path d="M1971.0 520.0L1907.5 534.8" stroke="#887dc0" stroke-width="9.1"/><path d="M1971.0 520.0L1907.5 534.8" stroke="#a096d6" stroke-width="5.0"/><path d="M1907.5 534.8L1844.0 549.5" stroke="#9c1010" stroke-width="12"/><path d="M1907.5 534.8L1844.0 549.5" stroke="#d81a1a" stroke-width="9.1"/><path d="M1907.5 534.8L1844.0 549.5" stroke="#f22626" stroke-width="5.0"/><path d="M1831.7 691.0L1793.6 689.2" stroke="#665c98" stroke-width="12"/><path d="M1831.7 691.0L1793.6 689.2" stroke="#887dc0" stroke-width="9.1"/><path d="M1831.7 691.0L1793.6 689.2" stroke="#a096d6" stroke-width="5.0"/><path d="M1793.6 689.2L1755.5 687.5" stroke="#9c1010" stroke-width="12"/><path d="M1793.6 689.2L1755.5 687.5" stroke="#d81a1a" stroke-width="9.1"/><path d="M1793.6 689.2L1755.5 687.5" stroke="#f22626" stroke-width="5.0"/><path d="M1831.7 691.0L1767.8 678.8" stroke="#665c98" stroke-width="12"/><path d="M1831.7 691.0L1767.8 678.8" stroke="#887dc0" stroke-width="9.1"/><path d="M1831.7 691.0L1767.8 678.8" stroke="#a096d6" stroke-width="5.0"/><path d="M1767.8 678.8L1704.0 666.5" stroke="#9c1010" stroke-width="12"/><path d="M1767.8 678.8L1704.0 666.5" stroke="#d81a1a" stroke-width="9.1"/><path d="M1767.8 678.8L1704.0 666.5" stroke="#f22626" stroke-width="5.0"/><path d="M1704.0 666.5L1729.8 677.0" stroke="#9c1010" stroke-width="12"/><path d="M1704.0 666.5L1729.8 677.0" stroke="#d81a1a" stroke-width="9.1"/><path d="M1704.0 666.5L1729.8 677.0" stroke="#f22626" stroke-width="5.0"/><path d="M1729.8 677.0L1755.5 687.5" stroke="#9c1010" stroke-width="12"/><path d="M1729.8 677.0L1755.5 687.5" stroke="#d81a1a" stroke-width="9.1"/><path d="M1729.8 677.0L1755.5 687.5" stroke="#f22626" stroke-width="5.0"/><circle cx="1796.6" cy="441.5" r="12.7" fill="url(#gH)"/><circle cx="1844.0" cy="549.5" r="19.0" fill="url(#gO)"/><circle cx="1612.2" cy="565.0" r="19.5" fill="url(#gO)"/><circle cx="1755.5" cy="687.5" r="17.0" fill="url(#gO)"/><circle cx="1831.7" cy="691.0" r="25.0" fill="url(#gI)"/><path d="M1734.2 543.8L1719.1 605.1" stroke="#229a76" stroke-width="12"/><path d="M1734.2 543.8L1719.1 605.1" stroke="#34cfa2" stroke-width="9.1"/><path d="M1734.2 543.8L1719.1 605.1" stroke="#48e6b8" stroke-width="5.0"/><path d="M1719.1 605.1L1704.0 666.5" stroke="#9c1010" stroke-width="12"/><path d="M1719.1 605.1L1704.0 666.5" stroke="#d81a1a" stroke-width="9.1"/><path d="M1719.1 605.1L1704.0 666.5" stroke="#f22626" stroke-width="5.0"/><path d="M1971.0 520.0L1983.5 512.5" stroke="#665c98" stroke-width="12"/><path d="M1971.0 520.0L1983.5 512.5" stroke="#887dc0" stroke-width="9.1"/><path d="M1971.0 520.0L1983.5 512.5" stroke="#a096d6" stroke-width="5.0"/><path d="M1983.5 512.5L1996.0 505.0" stroke="#9c1010" stroke-width="12"/><path d="M1983.5 512.5L1996.0 505.0" stroke="#d81a1a" stroke-width="9.1"/><path d="M1983.5 512.5L1996.0 505.0" stroke="#f22626" stroke-width="5.0"/><path d="M1734.2 543.8L1802.3 587.2" stroke="#229a76" stroke-width="12"/><path d="M1734.2 543.8L1802.3 587.2" stroke="#34cfa2" stroke-width="9.1"/><path d="M1734.2 543.8L1802.3 587.2" stroke="#48e6b8" stroke-width="5.0"/><path d="M1802.3 587.2L1870.5 630.6" stroke="#9c1010" stroke-width="12"/><path d="M1802.3 587.2L1870.5 630.6" stroke="#d81a1a" stroke-width="9.1"/><path d="M1802.3 587.2L1870.5 630.6" stroke="#f22626" stroke-width="5.0"/><path d="M1870.5 630.6L1900.7 640.3" stroke="#9c1010" stroke-width="12"/><path d="M1870.5 630.6L1900.7 640.3" stroke="#d81a1a" stroke-width="9.1"/><path d="M1870.5 630.6L1900.7 640.3" stroke="#f22626" stroke-width="5.0"/><path d="M1900.7 640.3L1930.8 650.0" stroke="#9c1010" stroke-width="12"/><path d="M1900.7 640.3L1930.8 650.0" stroke="#d81a1a" stroke-width="9.1"/><path d="M1900.7 640.3L1930.8 650.0" stroke="#f22626" stroke-width="5.0"/><path d="M1497 588L1510 585" stroke="#181420" stroke-width="8" stroke-linecap="round"/><circle cx="1785.0" cy="532.0" r="18.7" fill="url(#gO)"/><circle cx="1971.0" cy="520.0" r="25.5" fill="url(#gI)"/><circle cx="1525.5" cy="582.8" r="19.5" fill="url(#gO)"/><circle cx="1675.0" cy="585.8" r="20.0" fill="url(#gO)"/><circle cx="1704.0" cy="666.5" r="19.5" fill="url(#gO)"/><circle cx="1870.5" cy="630.6" r="19.5" fill="url(#gO)"/><path d="M1988 517L1974 516" stroke="#181420" stroke-width="8" stroke-linecap="round"/><circle cx="1734.2" cy="543.8" r="34.5" fill="url(#gM)"/><circle cx="1930.8" cy="650.0" r="19.5" fill="url(#gO)"/><circle cx="1996.0" cy="505.0" r="15.0" fill="url(#gO)"/></g></g>
<rect x="1424" y="629.3" width="187.1" height="73.6" fill="#fbe8da" fill-opacity="0.86"/><text x="1453.6" y="674.5" font-size="30.5" fill="#1800ff">1.30 V</text>
<rect x="1437.8" y="388.9" width="32.7" height="8.3" fill="#2200ee"/><rect x="1494.8" y="388.9" width="32.7" height="8.3" fill="#2200ee"/><rect x="1551.9" y="388.9" width="32.7" height="8.3" fill="#2200ee"/><rect x="1608.9" y="388.9" width="32.7" height="8.3" fill="#2200ee"/><rect x="1666.0" y="388.9" width="32.7" height="8.3" fill="#2200ee"/><rect x="1723.0" y="388.9" width="32.7" height="8.3" fill="#2200ee"/><rect x="1780.1" y="388.9" width="32.7" height="8.3" fill="#2200ee"/><rect x="1837.1" y="388.9" width="32.7" height="8.3" fill="#2200ee"/><rect x="1894.2" y="388.9" width="32.7" height="8.3" fill="#2200ee"/><rect x="1951.2" y="388.9" width="32.7" height="8.3" fill="#2200ee"/><rect x="1420.0" y="706.2" width="32.7" height="8.3" fill="#2200ee"/><rect x="1477.0" y="706.2" width="32.7" height="8.3" fill="#2200ee"/><rect x="1534.1" y="706.2" width="32.7" height="8.3" fill="#2200ee"/><rect x="1591.1" y="706.2" width="32.7" height="8.3" fill="#2200ee"/><rect x="1648.2" y="706.2" width="32.7" height="8.3" fill="#2200ee"/><rect x="1705.2" y="706.2" width="32.7" height="8.3" fill="#2200ee"/><rect x="1762.3" y="706.2" width="32.7" height="8.3" fill="#2200ee"/><rect x="1819.3" y="706.2" width="32.7" height="8.3" fill="#2200ee"/><rect x="1876.4" y="706.2" width="32.7" height="8.3" fill="#2200ee"/><rect x="1933.4" y="706.2" width="32.7" height="8.3" fill="#2200ee"/><rect x="1990.5" y="706.2" width="13.5" height="8.3" fill="#2200ee"/><rect x="1415.6" y="399.5" width="8.3" height="32.7" fill="#2200ee"/><rect x="1415.6" y="456.6" width="8.3" height="32.7" fill="#2200ee"/><rect x="1415.6" y="513.6" width="8.3" height="32.7" fill="#2200ee"/><rect x="1415.6" y="570.6" width="8.3" height="32.7" fill="#2200ee"/><rect x="1415.6" y="627.7" width="8.3" height="32.7" fill="#2200ee"/><rect x="1415.6" y="684.7" width="8.3" height="29.8" fill="#2200ee"/><rect x="1995.8" y="401.8" width="8.3" height="32.7" fill="#2200ee"/><rect x="1995.8" y="458.9" width="8.3" height="32.7" fill="#2200ee"/><rect x="1995.8" y="515.9" width="8.3" height="32.7" fill="#2200ee"/><rect x="1995.8" y="572.9" width="8.3" height="32.7" fill="#2200ee"/><rect x="1995.8" y="630.0" width="8.3" height="32.7" fill="#2200ee"/><rect x="1995.8" y="687.0" width="8.3" height="27.5" fill="#2200ee"/>
<clipPath id="cd3"><rect x="1424" y="758.6" width="571.7" height="312.6"/></clipPath>
<g clip-path="url(#cd3)"><g fill="none" stroke-linecap="butt" filter="url(#soft)"><path d="M1392.0 858.0L1440.4 908.0" stroke="#665c98" stroke-width="12"/><path d="M1392.0 858.0L1440.4 908.0" stroke="#887dc0" stroke-width="9.1"/><path d="M1392.0 858.0L1440.4 908.0" stroke="#a096d6" stroke-width="5.0"/><path d="M1440.4 908.0L1488.8 958.0" stroke="#665c98" stroke-width="12"/><path d="M1440.4 908.0L1488.8 958.0" stroke="#887dc0" stroke-width="9.1"/><path d="M1440.4 908.0L1488.8 958.0" stroke="#a096d6" stroke-width="5.0"/><path d="M1925.0 772.6L1967.5 756.8" stroke="#9c1010" stroke-width="12"/><path d="M1925.0 772.6L1967.5 756.8" stroke="#d81a1a" stroke-width="9.1"/><path d="M1925.0 772.6L1967.5 756.8" stroke="#f22626" stroke-width="5.0"/><path d="M1967.5 756.8L2010.0 741.0" stroke="#9c1010" stroke-width="12"/><path d="M1967.5 756.8L2010.0 741.0" stroke="#d81a1a" stroke-width="9.1"/><path d="M1967.5 756.8L2010.0 741.0" stroke="#f22626" stroke-width="5.0"/><path d="M1957.5 885.0L1998.8 823.0" stroke="#665c98" stroke-width="7"/><path d="M1957.5 885.0L1998.8 823.0" stroke="#887dc0" stroke-width="5.3"/><path d="M1957.5 885.0L1998.8 823.0" stroke="#a096d6" stroke-width="2.9"/><path d="M1998.8 823.0L2040.0 761.0" stroke="#665c98" stroke-width="7"/><path d="M1998.8 823.0L2040.0 761.0" stroke="#887dc0" stroke-width="5.3"/><path d="M1998.8 823.0L2040.0 761.0" stroke="#a096d6" stroke-width="2.9"/><path d="M1919.5 1012.8L1989.8 1007.4" stroke="#9c1010" stroke-width="12"/><path d="M1919.5 1012.8L1989.8 1007.4" stroke="#d81a1a" stroke-width="9.1"/><path d="M1919.5 1012.8L1989.8 1007.4" stroke="#f22626" stroke-width="5.0"/><path d="M1989.8 1007.4L2060.0 1002.0" stroke="#665c98" stroke-width="12"/><path d="M1989.8 1007.4L2060.0 1002.0" stroke="#887dc0" stroke-width="9.1"/><path d="M1989.8 1007.4L2060.0 1002.0" stroke="#a096d6" stroke-width="5.0"/><path d="M1919.5 1012.8L1906.2 1051.9" stroke="#9c1010" stroke-width="12"/><path d="M1919.5 1012.8L1906.2 1051.9" stroke="#d81a1a" stroke-width="9.1"/><path d="M1919.5 1012.8L1906.2 1051.9" stroke="#f22626" stroke-width="5.0"/><path d="M1906.2 1051.9L1893.0 1091.0" stroke="#9c1010" stroke-width="12"/><path d="M1906.2 1051.9L1893.0 1091.0" stroke="#d81a1a" stroke-width="9.1"/><path d="M1906.2 1051.9L1893.0 1091.0" stroke="#f22626" stroke-width="5.0"/><path d="M1919.5 1012.8L1935.8 1051.9" stroke="#9c1010" stroke-width="12"/><path d="M1919.5 1012.8L1935.8 1051.9" stroke="#d81a1a" stroke-width="9.1"/><path d="M1919.5 1012.8L1935.8 1051.9" stroke="#f22626" stroke-width="5.0"/><path d="M1935.8 1051.9L1952.0 1091.0" stroke="#9c1010" stroke-width="12"/><path d="M1935.8 1051.9L1952.0 1091.0" stroke="#d81a1a" stroke-width="9.1"/><path d="M1935.8 1051.9L1952.0 1091.0" stroke="#f22626" stroke-width="5.0"/><path d="M1922.0 990.0L1968.5 1030.5" stroke="#665c98" stroke-width="12"/><path d="M1922.0 990.0L1968.5 1030.5" stroke="#887dc0" stroke-width="9.1"/><path d="M1922.0 990.0L1968.5 1030.5" stroke="#a096d6" stroke-width="5.0"/><path d="M1968.5 1030.5L2015.0 1071.0" stroke="#665c98" stroke-width="12"/><path d="M1968.5 1030.5L2015.0 1071.0" stroke="#887dc0" stroke-width="9.1"/><path d="M1968.5 1030.5L2015.0 1071.0" stroke="#a096d6" stroke-width="5.0"/><path d="M1922.0 990.0L1976.0 1022.0" stroke="#665c98" stroke-width="12"/><path d="M1922.0 990.0L1976.0 1022.0" stroke="#887dc0" stroke-width="9.1"/><path d="M1922.0 990.0L1976.0 1022.0" stroke="#a096d6" stroke-width="5.0"/><path d="M1976.0 1022.0L2030.0 1054.0" stroke="#665c98" stroke-width="12"/><path d="M1976.0 1022.0L2030.0 1054.0" stroke="#887dc0" stroke-width="9.1"/><path d="M1976.0 1022.0L2030.0 1054.0" stroke="#a096d6" stroke-width="5.0"/><path d="M1957.5 885.0L1991.2 920.5" stroke="#665c98" stroke-width="12"/><path d="M1957.5 885.0L1991.2 920.5" stroke="#887dc0" stroke-width="9.1"/><path d="M1957.5 885.0L1991.2 920.5" stroke="#a096d6" stroke-width="5.0"/><path d="M1991.2 920.5L2025.0 956.0" stroke="#665c98" stroke-width="12"/><path d="M1991.2 920.5L2025.0 956.0" stroke="#887dc0" stroke-width="9.1"/><path d="M1991.2 920.5L2025.0 956.0" stroke="#a096d6" stroke-width="5.0"/><path d="M1957.5 885.0L1984.8 938.0" stroke="#665c98" stroke-width="12"/><path d="M1957.5 885.0L1984.8 938.0" stroke="#887dc0" stroke-width="9.1"/><path d="M1957.5 885.0L1984.8 938.0" stroke="#a096d6" stroke-width="5.0"/><path d="M1984.8 938.0L2012.0 991.0" stroke="#665c98" stroke-width="12"/><path d="M1984.8 938.0L2012.0 991.0" stroke="#887dc0" stroke-width="9.1"/><path d="M1984.8 938.0L2012.0 991.0" stroke="#a096d6" stroke-width="5.0"/><path d="M1488.8 958.0L1439.4 973.0" stroke="#665c98" stroke-width="12"/><path d="M1488.8 958.0L1439.4 973.0" stroke="#887dc0" stroke-width="9.1"/><path d="M1488.8 958.0L1439.4 973.0" stroke="#a096d6" stroke-width="5.0"/><path d="M1439.4 973.0L1390.0 988.0" stroke="#9c1010" stroke-width="12"/><path d="M1439.4 973.0L1390.0 988.0" stroke="#d81a1a" stroke-width="9.1"/><path d="M1439.4 973.0L1390.0 988.0" stroke="#f22626" stroke-width="5.0"/><path d="M1488.8 958.0L1440.4 982.0" stroke="#665c98" stroke-width="12"/><path d="M1488.8 958.0L1440.4 982.0" stroke="#887dc0" stroke-width="9.1"/><path d="M1488.8 958.0L1440.4 982.0" stroke="#a096d6" stroke-width="5.0"/><path d="M1440.4 982.0L1392.0 1006.0" stroke="#9c1010" stroke-width="12"/><path d="M1440.4 982.0L1392.0 1006.0" stroke="#d81a1a" stroke-width="9.1"/><path d="M1440.4 982.0L1392.0 1006.0" stroke="#f22626" stroke-width="5.0"/><path d="M1488.8 958.0L1455.4 1023.0" stroke="#665c98" stroke-width="12"/><path d="M1488.8 958.0L1455.4 1023.0" stroke="#887dc0" stroke-width="9.1"/><path d="M1488.8 958.0L1455.4 1023.0" stroke="#a096d6" stroke-width="5.0"/><path d="M1455.4 1023.0L1422.0 1088.0" stroke="#665c98" stroke-width="12"/><path d="M1455.4 1023.0L1422.0 1088.0" stroke="#887dc0" stroke-width="9.1"/><path d="M1455.4 1023.0L1422.0 1088.0" stroke="#a096d6" stroke-width="5.0"/><path d="M1488.8 958.0L1470.4 1023.0" stroke="#665c98" stroke-width="12"/><path d="M1488.8 958.0L1470.4 1023.0" stroke="#887dc0" stroke-width="9.1"/><path d="M1488.8 958.0L1470.4 1023.0" stroke="#a096d6" stroke-width="5.0"/><path d="M1470.4 1023.0L1452.0 1088.0" stroke="#665c98" stroke-width="12"/><path d="M1470.4 1023.0L1452.0 1088.0" stroke="#887dc0" stroke-width="9.1"/><path d="M1470.4 1023.0L1452.0 1088.0" stroke="#a096d6" stroke-width="5.0"/><path d="M1488.8 958.0L1500.4 1023.0" stroke="#665c98" stroke-width="12"/><path d="M1488.8 958.0L1500.4 1023.0" stroke="#887dc0" stroke-width="9.1"/><path d="M1488.8 958.0L1500.4 1023.0" stroke="#a096d6" stroke-width="5.0"/><path d="M1500.4 1023.0L1512.0 1088.0" stroke="#9c1010" stroke-width="12"/><path d="M1500.4 1023.0L1512.0 1088.0" stroke="#d81a1a" stroke-width="9.1"/><path d="M1500.4 1023.0L1512.0 1088.0" stroke="#f22626" stroke-width="5.0"/><path d="M1573.3 1052.2L1566.7 1070.1" stroke="#665c98" stroke-width="12"/><path d="M1573.3 1052.2L1566.7 1070.1" stroke="#887dc0" stroke-width="9.1"/><path d="M1573.3 1052.2L1566.7 1070.1" stroke="#a096d6" stroke-width="5.0"/><path d="M1566.7 1070.1L1560.0 1088.0" stroke="#665c98" stroke-width="12"/><path d="M1566.7 1070.1L1560.0 1088.0" stroke="#887dc0" stroke-width="9.1"/><path d="M1566.7 1070.1L1560.0 1088.0" stroke="#a096d6" stroke-width="5.0"/><path d="M1573.3 1052.2L1586.7 1070.1" stroke="#665c98" stroke-width="12"/><path d="M1573.3 1052.2L1586.7 1070.1" stroke="#887dc0" stroke-width="9.1"/><path d="M1573.3 1052.2L1586.7 1070.1" stroke="#a096d6" stroke-width="5.0"/><path d="M1586.7 1070.1L1600.0 1088.0" stroke="#665c98" stroke-width="12"/><path d="M1586.7 1070.1L1600.0 1088.0" stroke="#887dc0" stroke-width="9.1"/><path d="M1586.7 1070.1L1600.0 1088.0" stroke="#a096d6" stroke-width="5.0"/><path d="M1617.0 1046.5L1628.5 1071.2" stroke="#9c1010" stroke-width="12"/><path d="M1617.0 1046.5L1628.5 1071.2" stroke="#d81a1a" stroke-width="9.1"/><path d="M1617.0 1046.5L1628.5 1071.2" stroke="#f22626" stroke-width="5.0"/><path d="M1628.5 1071.2L1640.0 1096.0" stroke="#9c1010" stroke-width="12"/><path d="M1628.5 1071.2L1640.0 1096.0" stroke="#d81a1a" stroke-width="9.1"/><path d="M1628.5 1071.2L1640.0 1096.0" stroke="#f22626" stroke-width="5.0"/><path d="M1826.0 1054.0L1838.0 1080.0" stroke="#665c98" stroke-width="12"/><path d="M1826.0 1054.0L1838.0 1080.0" stroke="#887dc0" stroke-width="9.1"/><path d="M1826.0 1054.0L1838.0 1080.0" stroke="#a096d6" stroke-width="5.0"/><path d="M1838.0 1080.0L1850.0 1106.0" stroke="#665c98" stroke-width="12"/><path d="M1838.0 1080.0L1850.0 1106.0" stroke="#887dc0" stroke-width="9.1"/><path d="M1838.0 1080.0L1850.0 1106.0" stroke="#a096d6" stroke-width="5.0"/><path d="M1750.7 1054.5L1760.3 1075.2" stroke="#9c1010" stroke-width="12"/><path d="M1750.7 1054.5L1760.3 1075.2" stroke="#d81a1a" stroke-width="9.1"/><path d="M1750.7 1054.5L1760.3 1075.2" stroke="#f22626" stroke-width="5.0"/><path d="M1760.3 1075.2L1770.0 1096.0" stroke="#9c1010" stroke-width="12"/><path d="M1760.3 1075.2L1770.0 1096.0" stroke="#d81a1a" stroke-width="9.1"/><path d="M1760.3 1075.2L1770.0 1096.0" stroke="#f22626" stroke-width="5.0"/><circle cx="1413.0" cy="868.0" r="22.0" fill="url(#gI)"/><path d="M1448.0 850.2L1490.5 842.0" stroke="#9c1010" stroke-width="12"/><path d="M1448.0 850.2L1490.5 842.0" stroke="#d81a1a" stroke-width="9.1"/><path d="M1448.0 850.2L1490.5 842.0" stroke="#f22626" stroke-width="5.0"/><path d="M1490.5 842.0L1533.0 833.7" stroke="#9c1010" stroke-width="12"/><path d="M1490.5 842.0L1533.0 833.7" stroke="#d81a1a" stroke-width="9.1"/><path d="M1490.5 842.0L1533.0 833.7" stroke="#f22626" stroke-width="5.0"/><path d="M1533.0 833.7L1594.5 846.6" stroke="#9c1010" stroke-width="12"/><path d="M1533.0 833.7L1594.5 846.6" stroke="#d81a1a" stroke-width="9.1"/><path d="M1533.0 833.7L1594.5 846.6" stroke="#f22626" stroke-width="5.0"/><path d="M1594.5 846.6L1656.0 859.5" stroke="#665c98" stroke-width="12"/><path d="M1594.5 846.6L1656.0 859.5" stroke="#887dc0" stroke-width="9.1"/><path d="M1594.5 846.6L1656.0 859.5" stroke="#a096d6" stroke-width="5.0"/><path d="M1693.8 800.6L1703.6 855.2" stroke="#9c1010" stroke-width="12"/><path d="M1693.8 800.6L1703.6 855.2" stroke="#d81a1a" stroke-width="9.1"/><path d="M1693.8 800.6L1703.6 855.2" stroke="#f22626" stroke-width="5.0"/><path d="M1703.6 855.2L1713.4 909.7" stroke="#665c98" stroke-width="12"/><path d="M1703.6 855.2L1713.4 909.7" stroke="#887dc0" stroke-width="9.1"/><path d="M1703.6 855.2L1713.4 909.7" stroke="#a096d6" stroke-width="5.0"/><path d="M1713.4 909.7L1775.0 912.9" stroke="#665c98" stroke-width="12"/><path d="M1713.4 909.7L1775.0 912.9" stroke="#887dc0" stroke-width="9.1"/><path d="M1713.4 909.7L1775.0 912.9" stroke="#a096d6" stroke-width="5.0"/><path d="M1775.0 912.9L1836.5 916.0" stroke="#9c1010" stroke-width="12"/><path d="M1775.0 912.9L1836.5 916.0" stroke="#d81a1a" stroke-width="9.1"/><path d="M1775.0 912.9L1836.5 916.0" stroke="#f22626" stroke-width="5.0"/><circle cx="1533.0" cy="833.7" r="19.5" fill="url(#gO)"/><circle cx="1438.5" cy="976.4" r="17.0" fill="url(#gO)"/><path d="M1656.0 859.5L1674.9 830.0" stroke="#665c98" stroke-width="12"/><path d="M1656.0 859.5L1674.9 830.0" stroke="#887dc0" stroke-width="9.1"/><path d="M1656.0 859.5L1674.9 830.0" stroke="#a096d6" stroke-width="5.0"/><path d="M1674.9 830.0L1693.8 800.6" stroke="#9c1010" stroke-width="12"/><path d="M1674.9 830.0L1693.8 800.6" stroke="#d81a1a" stroke-width="9.1"/><path d="M1674.9 830.0L1693.8 800.6" stroke="#f22626" stroke-width="5.0"/><path d="M1448.0 850.2L1468.4 904.1" stroke="#9c1010" stroke-width="12"/><path d="M1448.0 850.2L1468.4 904.1" stroke="#d81a1a" stroke-width="9.1"/><path d="M1448.0 850.2L1468.4 904.1" stroke="#f22626" stroke-width="5.0"/><path d="M1468.4 904.1L1488.8 958.0" stroke="#665c98" stroke-width="12"/><path d="M1468.4 904.1L1488.8 958.0" stroke="#887dc0" stroke-width="9.1"/><path d="M1468.4 904.1L1488.8 958.0" stroke="#a096d6" stroke-width="5.0"/><path d="M1922.0 990.0L1920.5 943.8" stroke="#665c98" stroke-width="12"/><path d="M1922.0 990.0L1920.5 943.8" stroke="#887dc0" stroke-width="9.1"/><path d="M1922.0 990.0L1920.5 943.8" stroke="#a096d6" stroke-width="5.0"/><path d="M1920.5 943.8L1919.0 897.5" stroke="#9c1010" stroke-width="12"/><path d="M1920.5 943.8L1919.0 897.5" stroke="#d81a1a" stroke-width="9.1"/><path d="M1920.5 943.8L1919.0 897.5" stroke="#f22626" stroke-width="5.0"/><path d="M1532.2 948.0L1552.8 1000.1" stroke="#9c1010" stroke-width="12"/><path d="M1532.2 948.0L1552.8 1000.1" stroke="#d81a1a" stroke-width="9.1"/><path d="M1532.2 948.0L1552.8 1000.1" stroke="#f22626" stroke-width="5.0"/><path d="M1552.8 1000.1L1573.3 1052.2" stroke="#665c98" stroke-width="12"/><path d="M1552.8 1000.1L1573.3 1052.2" stroke="#887dc0" stroke-width="9.1"/><path d="M1552.8 1000.1L1573.3 1052.2" stroke="#a096d6" stroke-width="5.0"/><path d="M1488.8 958.0L1531.0 1005.1" stroke="#665c98" stroke-width="12"/><path d="M1488.8 958.0L1531.0 1005.1" stroke="#887dc0" stroke-width="9.1"/><path d="M1488.8 958.0L1531.0 1005.1" stroke="#a096d6" stroke-width="5.0"/><path d="M1531.0 1005.1L1573.3 1052.2" stroke="#665c98" stroke-width="12"/><path d="M1531.0 1005.1L1573.3 1052.2" stroke="#887dc0" stroke-width="9.1"/><path d="M1531.0 1005.1L1573.3 1052.2" stroke="#a096d6" stroke-width="5.0"/><path d="M1573.3 1052.2L1636.5 1041.3" stroke="#665c98" stroke-width="12"/><path d="M1573.3 1052.2L1636.5 1041.3" stroke="#887dc0" stroke-width="9.1"/><path d="M1573.3 1052.2L1636.5 1041.3" stroke="#a096d6" stroke-width="5.0"/><path d="M1636.5 1041.3L1699.8 1030.5" stroke="#9c1010" stroke-width="12"/><path d="M1636.5 1041.3L1699.8 1030.5" stroke="#d81a1a" stroke-width="9.1"/><path d="M1636.5 1041.3L1699.8 1030.5" stroke="#f22626" stroke-width="5.0"/><path d="M1573.3 1052.2L1595.2 1049.3" stroke="#665c98" stroke-width="12"/><path d="M1573.3 1052.2L1595.2 1049.3" stroke="#887dc0" stroke-width="9.1"/><path d="M1573.3 1052.2L1595.2 1049.3" stroke="#a096d6" stroke-width="5.0"/><path d="M1595.2 1049.3L1617.0 1046.5" stroke="#9c1010" stroke-width="12"/><path d="M1595.2 1049.3L1617.0 1046.5" stroke="#d81a1a" stroke-width="9.1"/><path d="M1595.2 1049.3L1617.0 1046.5" stroke="#f22626" stroke-width="5.0"/><path d="M1826.0 1054.0L1805.0 1058.0" stroke="#665c98" stroke-width="12"/><path d="M1826.0 1054.0L1805.0 1058.0" stroke="#887dc0" stroke-width="9.1"/><path d="M1826.0 1054.0L1805.0 1058.0" stroke="#a096d6" stroke-width="5.0"/><path d="M1805.0 1058.0L1784.0 1062.0" stroke="#9c1010" stroke-width="12"/><path d="M1805.0 1058.0L1784.0 1062.0" stroke="#d81a1a" stroke-width="9.1"/><path d="M1805.0 1058.0L1784.0 1062.0" stroke="#f22626" stroke-width="5.0"/><path d="M1826.0 1054.0L1851.2 1056.0" stroke="#665c98" stroke-width="12"/><path d="M1826.0 1054.0L1851.2 1056.0" stroke="#887dc0" stroke-width="9.1"/><path d="M1826.0 1054.0L1851.2 1056.0" stroke="#a096d6" stroke-width="5.0"/><path d="M1851.2 1056.0L1876.5 1058.0" stroke="#9c1010" stroke-width="12"/><path d="M1851.2 1056.0L1876.5 1058.0" stroke="#d81a1a" stroke-width="9.1"/><path d="M1851.2 1056.0L1876.5 1058.0" stroke="#f22626" stroke-width="5.0"/><path d="M1428 842L1436 838" stroke="#181420" stroke-width="8" stroke-linecap="round"/><circle cx="1448.0" cy="850.2" r="19.5" fill="url(#gO)"/><circle cx="1693.8" cy="800.6" r="20.0" fill="url(#gO)"/><circle cx="1919.0" cy="897.5" r="16.5" fill="url(#gO)"/><circle cx="1573.3" cy="1052.2" r="21.0" fill="url(#gI)"/><circle cx="1784.0" cy="1062.0" r="15.0" fill="url(#gO)"/><circle cx="1876.5" cy="1058.0" r="13.0" fill="url(#gO)"/><path d="M1656.0 859.5L1635.8 895.8" stroke="#665c98" stroke-width="12"/><path d="M1656.0 859.5L1635.8 895.8" stroke="#887dc0" stroke-width="9.1"/><path d="M1656.0 859.5L1635.8 895.8" stroke="#a096d6" stroke-width="5.0"/><path d="M1635.8 895.8L1615.6 932.0" stroke="#9c1010" stroke-width="12"/><path d="M1635.8 895.8L1615.6 932.0" stroke="#d81a1a" stroke-width="9.1"/><path d="M1635.8 895.8L1615.6 932.0" stroke="#f22626" stroke-width="5.0"/><path d="M1656.0 859.5L1665.3 905.6" stroke="#665c98" stroke-width="12"/><path d="M1656.0 859.5L1665.3 905.6" stroke="#887dc0" stroke-width="9.1"/><path d="M1656.0 859.5L1665.3 905.6" stroke="#a096d6" stroke-width="5.0"/><path d="M1665.3 905.6L1674.6 951.8" stroke="#9c1010" stroke-width="12"/><path d="M1665.3 905.6L1674.6 951.8" stroke="#d81a1a" stroke-width="9.1"/><path d="M1665.3 905.6L1674.6 951.8" stroke="#f22626" stroke-width="5.0"/><path d="M1656.0 859.5L1725.8 922.5" stroke="#665c98" stroke-width="12"/><path d="M1656.0 859.5L1725.8 922.5" stroke="#887dc0" stroke-width="9.1"/><path d="M1656.0 859.5L1725.8 922.5" stroke="#a096d6" stroke-width="5.0"/><path d="M1725.8 922.5L1795.5 985.4" stroke="#665c98" stroke-width="12"/><path d="M1725.8 922.5L1795.5 985.4" stroke="#887dc0" stroke-width="9.1"/><path d="M1725.8 922.5L1795.5 985.4" stroke="#a096d6" stroke-width="5.0"/><path d="M1656.0 859.5L1741.0 956.8" stroke="#665c98" stroke-width="12"/><path d="M1656.0 859.5L1741.0 956.8" stroke="#887dc0" stroke-width="9.1"/><path d="M1656.0 859.5L1741.0 956.8" stroke="#a096d6" stroke-width="5.0"/><path d="M1741.0 956.8L1826.0 1054.0" stroke="#665c98" stroke-width="12"/><path d="M1741.0 956.8L1826.0 1054.0" stroke="#887dc0" stroke-width="9.1"/><path d="M1741.0 956.8L1826.0 1054.0" stroke="#a096d6" stroke-width="5.0"/><path d="M1656.0 859.5L1717.6 878.2" stroke="#665c98" stroke-width="12"/><path d="M1656.0 859.5L1717.6 878.2" stroke="#887dc0" stroke-width="9.1"/><path d="M1656.0 859.5L1717.6 878.2" stroke="#a096d6" stroke-width="5.0"/><path d="M1717.6 878.2L1779.2 897.0" stroke="#9c1010" stroke-width="12"/><path d="M1717.6 878.2L1779.2 897.0" stroke="#d81a1a" stroke-width="9.1"/><path d="M1717.6 878.2L1779.2 897.0" stroke="#f22626" stroke-width="5.0"/><path d="M1488.8 958.0L1552.2 945.0" stroke="#665c98" stroke-width="12"/><path d="M1488.8 958.0L1552.2 945.0" stroke="#887dc0" stroke-width="9.1"/><path d="M1488.8 958.0L1552.2 945.0" stroke="#a096d6" stroke-width="5.0"/><path d="M1552.2 945.0L1615.6 932.0" stroke="#9c1010" stroke-width="12"/><path d="M1552.2 945.0L1615.6 932.0" stroke="#d81a1a" stroke-width="9.1"/><path d="M1552.2 945.0L1615.6 932.0" stroke="#f22626" stroke-width="5.0"/><path d="M1488.8 958.0L1510.5 953.0" stroke="#665c98" stroke-width="12"/><path d="M1488.8 958.0L1510.5 953.0" stroke="#887dc0" stroke-width="9.1"/><path d="M1488.8 958.0L1510.5 953.0" stroke="#a096d6" stroke-width="5.0"/><path d="M1510.5 953.0L1532.2 948.0" stroke="#9c1010" stroke-width="12"/><path d="M1510.5 953.0L1532.2 948.0" stroke="#d81a1a" stroke-width="9.1"/><path d="M1510.5 953.0L1532.2 948.0" stroke="#f22626" stroke-width="5.0"/><path d="M1730.9 910.5L1736.8 865.9" stroke="#229a76" stroke-width="12"/><path d="M1730.9 910.5L1736.8 865.9" stroke="#34cfa2" stroke-width="9.1"/><path d="M1730.9 910.5L1736.8 865.9" stroke="#48e6b8" stroke-width="5.0"/><path d="M1736.8 865.9L1742.6 821.2" stroke="#9c1010" stroke-width="12"/><path d="M1736.8 865.9L1742.6 821.2" stroke="#d81a1a" stroke-width="9.1"/><path d="M1736.8 865.9L1742.6 821.2" stroke="#f22626" stroke-width="5.0"/><path d="M1742.6 821.2L1768.0 831.7" stroke="#9c1010" stroke-width="12"/><path d="M1742.6 821.2L1768.0 831.7" stroke="#d81a1a" stroke-width="9.1"/><path d="M1742.6 821.2L1768.0 831.7" stroke="#f22626" stroke-width="5.0"/><path d="M1768.0 831.7L1793.4 842.2" stroke="#9c1010" stroke-width="12"/><path d="M1768.0 831.7L1793.4 842.2" stroke="#d81a1a" stroke-width="9.1"/><path d="M1768.0 831.7L1793.4 842.2" stroke="#f22626" stroke-width="5.0"/><path d="M1925.0 772.6L1941.2 828.8" stroke="#9c1010" stroke-width="12"/><path d="M1925.0 772.6L1941.2 828.8" stroke="#d81a1a" stroke-width="9.1"/><path d="M1925.0 772.6L1941.2 828.8" stroke="#f22626" stroke-width="5.0"/><path d="M1941.2 828.8L1957.5 885.0" stroke="#665c98" stroke-width="12"/><path d="M1941.2 828.8L1957.5 885.0" stroke="#887dc0" stroke-width="9.1"/><path d="M1941.2 828.8L1957.5 885.0" stroke="#a096d6" stroke-width="5.0"/><path d="M1836.5 916.0L1816.0 950.7" stroke="#9c1010" stroke-width="12"/><path d="M1836.5 916.0L1816.0 950.7" stroke="#d81a1a" stroke-width="9.1"/><path d="M1836.5 916.0L1816.0 950.7" stroke="#f22626" stroke-width="5.0"/><path d="M1816.0 950.7L1795.5 985.4" stroke="#665c98" stroke-width="12"/><path d="M1816.0 950.7L1795.5 985.4" stroke="#887dc0" stroke-width="9.1"/><path d="M1816.0 950.7L1795.5 985.4" stroke="#a096d6" stroke-width="5.0"/><path d="M1795.5 985.4L1735.0 968.6" stroke="#665c98" stroke-width="12"/><path d="M1795.5 985.4L1735.0 968.6" stroke="#887dc0" stroke-width="9.1"/><path d="M1795.5 985.4L1735.0 968.6" stroke="#a096d6" stroke-width="5.0"/><path d="M1735.0 968.6L1674.6 951.8" stroke="#9c1010" stroke-width="12"/><path d="M1735.0 968.6L1674.6 951.8" stroke="#d81a1a" stroke-width="9.1"/><path d="M1735.0 968.6L1674.6 951.8" stroke="#f22626" stroke-width="5.0"/><path d="M1795.5 985.4L1810.8 1019.7" stroke="#665c98" stroke-width="12"/><path d="M1795.5 985.4L1810.8 1019.7" stroke="#887dc0" stroke-width="9.1"/><path d="M1795.5 985.4L1810.8 1019.7" stroke="#a096d6" stroke-width="5.0"/><path d="M1810.8 1019.7L1826.0 1054.0" stroke="#665c98" stroke-width="12"/><path d="M1810.8 1019.7L1826.0 1054.0" stroke="#887dc0" stroke-width="9.1"/><path d="M1810.8 1019.7L1826.0 1054.0" stroke="#a096d6" stroke-width="5.0"/><path d="M1712.7 986.6L1706.2 1008.5" stroke="#9c1010" stroke-width="12"/><path d="M1712.7 986.6L1706.2 1008.5" stroke="#d81a1a" stroke-width="9.1"/><path d="M1712.7 986.6L1706.2 1008.5" stroke="#f22626" stroke-width="5.0"/><path d="M1706.2 1008.5L1699.8 1030.5" stroke="#9c1010" stroke-width="12"/><path d="M1706.2 1008.5L1699.8 1030.5" stroke="#d81a1a" stroke-width="9.1"/><path d="M1706.2 1008.5L1699.8 1030.5" stroke="#f22626" stroke-width="5.0"/><path d="M1795.5 985.4L1754.1 986.0" stroke="#665c98" stroke-width="12"/><path d="M1795.5 985.4L1754.1 986.0" stroke="#887dc0" stroke-width="9.1"/><path d="M1795.5 985.4L1754.1 986.0" stroke="#a096d6" stroke-width="5.0"/><path d="M1754.1 986.0L1712.7 986.6" stroke="#9c1010" stroke-width="12"/><path d="M1754.1 986.0L1712.7 986.6" stroke="#d81a1a" stroke-width="9.1"/><path d="M1754.1 986.0L1712.7 986.6" stroke="#f22626" stroke-width="5.0"/><path d="M1795.5 985.4L1857.5 999.1" stroke="#665c98" stroke-width="12"/><path d="M1795.5 985.4L1857.5 999.1" stroke="#887dc0" stroke-width="9.1"/><path d="M1795.5 985.4L1857.5 999.1" stroke="#a096d6" stroke-width="5.0"/><path d="M1857.5 999.1L1919.5 1012.8" stroke="#9c1010" stroke-width="12"/><path d="M1857.5 999.1L1919.5 1012.8" stroke="#d81a1a" stroke-width="9.1"/><path d="M1857.5 999.1L1919.5 1012.8" stroke="#f22626" stroke-width="5.0"/><circle cx="1656.0" cy="859.5" r="26.0" fill="url(#gI)"/><circle cx="1742.6" cy="821.2" r="20.0" fill="url(#gO)"/><circle cx="1925.0" cy="772.6" r="20.0" fill="url(#gO)"/><circle cx="1488.8" cy="958.0" r="27.0" fill="url(#gI)"/><circle cx="1712.7" cy="986.6" r="19.0" fill="url(#gO)"/><circle cx="1617.0" cy="1046.5" r="18.0" fill="url(#gO)"/><circle cx="1795.5" cy="985.4" r="26.0" fill="url(#gI)"/><circle cx="1922.0" cy="990.0" r="25.0" fill="url(#gI)"/><path d="M1615.6 932.0L1673.2 921.2" stroke="#9c1010" stroke-width="12"/><path d="M1615.6 932.0L1673.2 921.2" stroke="#d81a1a" stroke-width="9.1"/><path d="M1615.6 932.0L1673.2 921.2" stroke="#f22626" stroke-width="5.0"/><path d="M1673.2 921.2L1730.9 910.5" stroke="#229a76" stroke-width="12"/><path d="M1673.2 921.2L1730.9 910.5" stroke="#34cfa2" stroke-width="9.1"/><path d="M1673.2 921.2L1730.9 910.5" stroke="#48e6b8" stroke-width="5.0"/><path d="M1957.5 885.0L1897.0 900.5" stroke="#665c98" stroke-width="12"/><path d="M1957.5 885.0L1897.0 900.5" stroke="#887dc0" stroke-width="9.1"/><path d="M1957.5 885.0L1897.0 900.5" stroke="#a096d6" stroke-width="5.0"/><path d="M1897.0 900.5L1836.5 916.0" stroke="#9c1010" stroke-width="12"/><path d="M1897.0 900.5L1836.5 916.0" stroke="#d81a1a" stroke-width="9.1"/><path d="M1897.0 900.5L1836.5 916.0" stroke="#f22626" stroke-width="5.0"/><path d="M1826.0 1054.0L1788.3 1054.2" stroke="#665c98" stroke-width="12"/><path d="M1826.0 1054.0L1788.3 1054.2" stroke="#887dc0" stroke-width="9.1"/><path d="M1826.0 1054.0L1788.3 1054.2" stroke="#a096d6" stroke-width="5.0"/><path d="M1788.3 1054.2L1750.7 1054.5" stroke="#9c1010" stroke-width="12"/><path d="M1788.3 1054.2L1750.7 1054.5" stroke="#d81a1a" stroke-width="9.1"/><path d="M1788.3 1054.2L1750.7 1054.5" stroke="#f22626" stroke-width="5.0"/><path d="M1826.0 1054.0L1762.9 1042.2" stroke="#665c98" stroke-width="12"/><path d="M1826.0 1054.0L1762.9 1042.2" stroke="#887dc0" stroke-width="9.1"/><path d="M1826.0 1054.0L1762.9 1042.2" stroke="#a096d6" stroke-width="5.0"/><path d="M1762.9 1042.2L1699.8 1030.5" stroke="#9c1010" stroke-width="12"/><path d="M1762.9 1042.2L1699.8 1030.5" stroke="#d81a1a" stroke-width="9.1"/><path d="M1762.9 1042.2L1699.8 1030.5" stroke="#f22626" stroke-width="5.0"/><path d="M1699.8 1030.5L1725.2 1042.5" stroke="#9c1010" stroke-width="12"/><path d="M1699.8 1030.5L1725.2 1042.5" stroke="#d81a1a" stroke-width="9.1"/><path d="M1699.8 1030.5L1725.2 1042.5" stroke="#f22626" stroke-width="5.0"/><path d="M1725.2 1042.5L1750.7 1054.5" stroke="#9c1010" stroke-width="12"/><path d="M1725.2 1042.5L1750.7 1054.5" stroke="#d81a1a" stroke-width="9.1"/><path d="M1725.2 1042.5L1750.7 1054.5" stroke="#f22626" stroke-width="5.0"/><circle cx="1793.4" cy="842.2" r="20.0" fill="url(#gO)"/><circle cx="1836.5" cy="916.0" r="19.0" fill="url(#gO)"/><circle cx="1615.6" cy="932.0" r="20.5" fill="url(#gO)"/><circle cx="1750.7" cy="1054.5" r="17.0" fill="url(#gO)"/><circle cx="1826.0" cy="1054.0" r="25.0" fill="url(#gI)"/><path d="M1730.9 910.5L1715.3 970.5" stroke="#229a76" stroke-width="12"/><path d="M1730.9 910.5L1715.3 970.5" stroke="#34cfa2" stroke-width="9.1"/><path d="M1730.9 910.5L1715.3 970.5" stroke="#48e6b8" stroke-width="5.0"/><path d="M1715.3 970.5L1699.8 1030.5" stroke="#9c1010" stroke-width="12"/><path d="M1715.3 970.5L1699.8 1030.5" stroke="#d81a1a" stroke-width="9.1"/><path d="M1715.3 970.5L1699.8 1030.5" stroke="#f22626" stroke-width="5.0"/><path d="M1957.5 885.0L1975.5 878.6" stroke="#665c98" stroke-width="12"/><path d="M1957.5 885.0L1975.5 878.6" stroke="#887dc0" stroke-width="9.1"/><path d="M1957.5 885.0L1975.5 878.6" stroke="#a096d6" stroke-width="5.0"/><path d="M1975.5 878.6L1993.4 872.2" stroke="#9c1010" stroke-width="12"/><path d="M1975.5 878.6L1993.4 872.2" stroke="#d81a1a" stroke-width="9.1"/><path d="M1975.5 878.6L1993.4 872.2" stroke="#f22626" stroke-width="5.0"/><path d="M1503 950L1517 947" stroke="#181420" stroke-width="8" stroke-linecap="round"/><circle cx="1779.2" cy="897.0" r="18.0" fill="url(#gO)"/><circle cx="1957.5" cy="885.0" r="25.5" fill="url(#gI)"/><circle cx="1532.2" cy="948.0" r="19.8" fill="url(#gO)"/><circle cx="1674.6" cy="951.8" r="20.5" fill="url(#gO)"/><circle cx="1699.8" cy="1030.5" r="20.5" fill="url(#gO)"/><path d="M1968 880L1985 872" stroke="#181420" stroke-width="8" stroke-linecap="round"/><circle cx="1730.9" cy="910.5" r="33.0" fill="url(#gM)"/><circle cx="1919.5" cy="1012.8" r="19.5" fill="url(#gO)"/><circle cx="1993.4" cy="872.2" r="16.0" fill="url(#gO)"/></g><circle cx="1864.6" cy="988.9" r="42" fill="url(#gGlow)"/><circle cx="1864.6" cy="988.9" r="20" fill="none" stroke="#ff0000" stroke-width="8.7" stroke-dasharray="11.4 6.55" transform="rotate(-62 1864.6 988.9)"/><path d="M1759 920L1849 979.7" stroke="#2a9070" stroke-width="13.6" stroke-dasharray="14 16.7" fill="none"/><path d="M1879.8 966C1887 940 1888 915 1873 891C1864 878 1852 868 1840 862" stroke="#2200ee" stroke-width="8" fill="none" stroke-dasharray="27 8.5"/><polygon points="1822.6,851.4 1849.5,852.6 1837.2,874.2" fill="#2200ee"/><text x="1796.2" y="1024.6" font-size="15.5" font-weight="bold" fill="#7ac943">Lattice O</text></g>
<rect x="1424" y="994.9" width="187.1" height="73.9" fill="#fbe8da" fill-opacity="0.86"/><text x="1453.2" y="1040.7" font-size="30.5" fill="#1800ff">1.43 V</text>
<rect x="1441.9" y="750.1" width="32.7" height="8.3" fill="#2200ee"/><rect x="1499.0" y="750.1" width="32.7" height="8.3" fill="#2200ee"/><rect x="1556.0" y="750.1" width="32.7" height="8.3" fill="#2200ee"/><rect x="1613.0" y="750.1" width="32.7" height="8.3" fill="#2200ee"/><rect x="1670.1" y="750.1" width="32.7" height="8.3" fill="#2200ee"/><rect x="1727.1" y="750.1" width="32.7" height="8.3" fill="#2200ee"/><rect x="1784.2" y="750.1" width="32.7" height="8.3" fill="#2200ee"/><rect x="1841.2" y="750.1" width="32.7" height="8.3" fill="#2200ee"/><rect x="1898.3" y="750.1" width="32.7" height="8.3" fill="#2200ee"/><rect x="1955.3" y="750.1" width="32.7" height="8.3" fill="#2200ee"/><rect x="1420.0" y="1071.8" width="32.7" height="8.3" fill="#2200ee"/><rect x="1477.0" y="1071.8" width="32.7" height="8.3" fill="#2200ee"/><rect x="1534.1" y="1071.8" width="32.7" height="8.3" fill="#2200ee"/><rect x="1591.1" y="1071.8" width="32.7" height="8.3" fill="#2200ee"/><rect x="1648.2" y="1071.8" width="32.7" height="8.3" fill="#2200ee"/><rect x="1705.2" y="1071.8" width="32.7" height="8.3" fill="#2200ee"/><rect x="1762.3" y="1071.8" width="32.7" height="8.3" fill="#2200ee"/><rect x="1819.3" y="1071.8" width="32.7" height="8.3" fill="#2200ee"/><rect x="1876.4" y="1071.8" width="32.7" height="8.3" fill="#2200ee"/><rect x="1933.4" y="1071.8" width="32.7" height="8.3" fill="#2200ee"/><rect x="1990.5" y="1071.8" width="13.5" height="8.3" fill="#2200ee"/><rect x="1415.6" y="756.7" width="8.3" height="32.7" fill="#2200ee"/><rect x="1415.6" y="813.8" width="8.3" height="32.7" fill="#2200ee"/><rect x="1415.6" y="870.8" width="8.3" height="32.7" fill="#2200ee"/><rect x="1415.6" y="927.8" width="8.3" height="32.7" fill="#2200ee"/><rect x="1415.6" y="984.9" width="8.3" height="32.7" fill="#2200ee"/><rect x="1415.6" y="1041.9" width="8.3" height="32.7" fill="#2200ee"/><rect x="1995.8" y="767.5" width="8.3" height="32.7" fill="#2200ee"/><rect x="1995.8" y="824.5" width="8.3" height="32.7" fill="#2200ee"/><rect x="1995.8" y="881.6" width="8.3" height="32.7" fill="#2200ee"/><rect x="1995.8" y="938.6" width="8.3" height="32.7" fill="#2200ee"/><rect x="1995.8" y="995.7" width="8.3" height="32.7" fill="#2200ee"/><rect x="1995.8" y="1052.7" width="8.3" height="27.4" fill="#2200ee"/>
</g>
</svg></body></html>
